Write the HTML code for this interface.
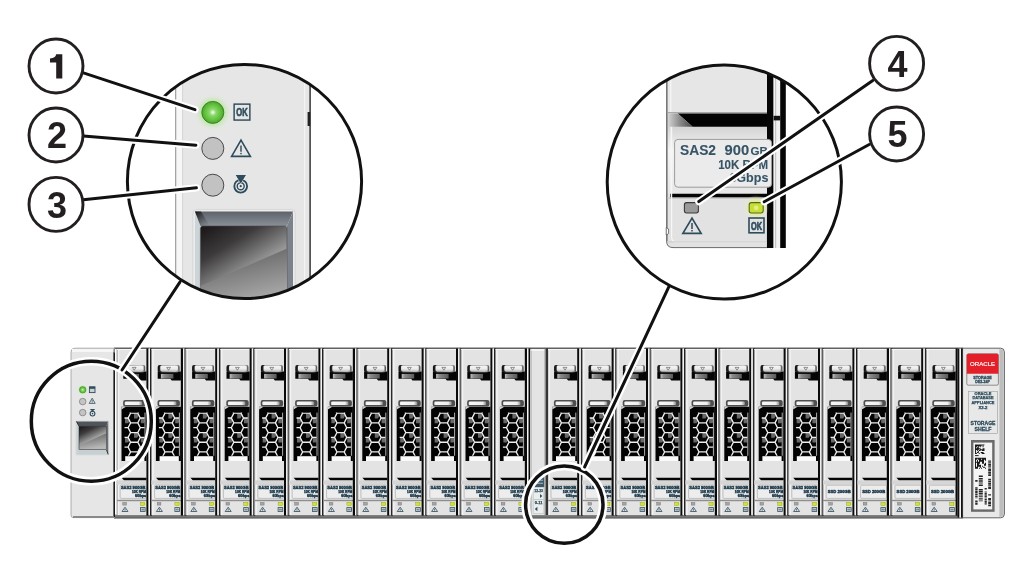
<!DOCTYPE html>
<html><head><meta charset="utf-8"><title>Storage shelf LEDs</title>
<style>html,body{margin:0;padding:0;background:#fff;width:1022px;height:563px;overflow:hidden;font-family:"Liberation Sans",sans-serif}svg{display:block;will-change:transform}</style>
</head><body>
<svg width="1022" height="563" viewBox="0 0 1022 563">
<defs>
 <linearGradient id="tabG" x1="0" y1="0" x2="0" y2="1">
  <stop offset="0" stop-color="#f4f4f4"/><stop offset="0.6" stop-color="#ececec"/><stop offset="1" stop-color="#c8c8c8"/>
 </linearGradient>
 <linearGradient id="tabE" x1="0" y1="0" x2="1" y2="0">
  <stop offset="0" stop-color="#0a0a0a"/><stop offset="0.12" stop-color="#2a2a2a"/><stop offset="0.2" stop-color="#9a9a9a"/><stop offset="0.8" stop-color="#bdbdbd"/><stop offset="0.92" stop-color="#8a8a8a"/><stop offset="1" stop-color="#444"/>
 </linearGradient>
 <linearGradient id="barG" x1="0" y1="0" x2="1" y2="0">
  <stop offset="0" stop-color="#e8e8e8"/><stop offset="0.1" stop-color="#f6f6f6"/><stop offset="0.8" stop-color="#eeeeee"/><stop offset="1" stop-color="#8a8a8a"/>
 </linearGradient>
 <linearGradient id="shG" x1="0" y1="0" x2="1" y2="0">
  <stop offset="0" stop-color="#c0c0c0"/><stop offset="0.25" stop-color="#8a8a8a"/><stop offset="1" stop-color="#5a5a5a"/>
 </linearGradient>
 <linearGradient id="shG2" x1="0" y1="0" x2="1" y2="0">
  <stop offset="0" stop-color="#d8d8d8"/><stop offset="0.5" stop-color="#8a8a8a"/><stop offset="1" stop-color="#4a4a4a"/>
 </linearGradient>
 <linearGradient id="botG" x1="0" y1="0" x2="0" y2="1">
  <stop offset="0" stop-color="#8c8c8c"/><stop offset="1" stop-color="#5a5a5a"/>
 </linearGradient>
 <linearGradient id="winG" x1="0.1" y1="0" x2="0.5" y2="0.7">
  <stop offset="0" stop-color="#1e1a1b"/><stop offset="0.35" stop-color="#3c3a3b"/><stop offset="1" stop-color="#c4c4c4"/>
 </linearGradient>
 <linearGradient id="winG2" x1="0" y1="0" x2="0.3" y2="1">
  <stop offset="0" stop-color="#555"/><stop offset="1" stop-color="#b8b8b8"/>
 </linearGradient>
 <linearGradient id="mitG" x1="0" y1="0" x2="1" y2="1">
  <stop offset="0" stop-color="#111"/><stop offset="1" stop-color="#5e636a" stop-opacity="0"/>
 </linearGradient>
 <linearGradient id="bevT" x1="0" y1="0" x2="0" y2="1">
  <stop offset="0" stop-color="#5e636a"/><stop offset="1" stop-color="#8a9098"/>
 </linearGradient>
 <radialGradient id="ledG" cx="0.5" cy="0.5" r="0.5">
  <stop offset="0" stop-color="#f8fff4"/><stop offset="0.3" stop-color="#8ad86a"/><stop offset="0.7" stop-color="#62c23e"/><stop offset="1" stop-color="#4aa82a"/>
 </radialGradient>
 <radialGradient id="glowG" cx="0.5" cy="0.5" r="0.5">
  <stop offset="0.5" stop-color="#a8e08a" stop-opacity="0.85"/><stop offset="1" stop-color="#dcefd0" stop-opacity="0"/>
 </radialGradient>
 <radialGradient id="yglowG" cx="0.5" cy="0.5" r="0.5">
  <stop offset="0.3" stop-color="#d8ec60" stop-opacity="0.9"/><stop offset="1" stop-color="#eef5c0" stop-opacity="0"/>
 </radialGradient>
 <linearGradient id="lblG" x1="0" y1="0" x2="0" y2="1">
  <stop offset="0" stop-color="#d4d4d4"/><stop offset="0.35" stop-color="#f4f4f4"/><stop offset="1" stop-color="#e6e6e6"/>
 </linearGradient>
 <clipPath id="clipL"><circle cx="244.5" cy="181.5" r="117.1"/></clipPath>
 <clipPath id="clipR"><circle cx="724.3" cy="182" r="117.1"/></clipPath>
</defs>
<rect width="1022" height="563" fill="#fff"/>
<defs>
 <linearGradient id="tabG" x1="0" y1="0" x2="0" y2="1">
  <stop offset="0" stop-color="#f4f4f4"/><stop offset="0.6" stop-color="#ececec"/><stop offset="1" stop-color="#c8c8c8"/>
 </linearGradient>
 <linearGradient id="tabE" x1="0" y1="0" x2="1" y2="0">
  <stop offset="0" stop-color="#0a0a0a"/><stop offset="0.12" stop-color="#2a2a2a"/><stop offset="0.2" stop-color="#9a9a9a"/><stop offset="0.8" stop-color="#bdbdbd"/><stop offset="0.92" stop-color="#8a8a8a"/><stop offset="1" stop-color="#444"/>
 </linearGradient>
 <linearGradient id="barG" x1="0" y1="0" x2="1" y2="0">
  <stop offset="0" stop-color="#e8e8e8"/><stop offset="0.1" stop-color="#f6f6f6"/><stop offset="0.8" stop-color="#eeeeee"/><stop offset="1" stop-color="#8a8a8a"/>
 </linearGradient>
 <linearGradient id="shG" x1="0" y1="0" x2="1" y2="0">
  <stop offset="0" stop-color="#c0c0c0"/><stop offset="0.25" stop-color="#8a8a8a"/><stop offset="1" stop-color="#5a5a5a"/>
 </linearGradient>
 <linearGradient id="shG2" x1="0" y1="0" x2="1" y2="0">
  <stop offset="0" stop-color="#d8d8d8"/><stop offset="0.5" stop-color="#8a8a8a"/><stop offset="1" stop-color="#4a4a4a"/>
 </linearGradient>
 <linearGradient id="botG" x1="0" y1="0" x2="0" y2="1">
  <stop offset="0" stop-color="#8c8c8c"/><stop offset="1" stop-color="#5a5a5a"/>
 </linearGradient>
 <linearGradient id="winG" x1="0.1" y1="0" x2="0.5" y2="0.7">
  <stop offset="0" stop-color="#1e1a1b"/><stop offset="0.35" stop-color="#3c3a3b"/><stop offset="1" stop-color="#c4c4c4"/>
 </linearGradient>
 <linearGradient id="winG2" x1="0" y1="0" x2="0.3" y2="1">
  <stop offset="0" stop-color="#555"/><stop offset="1" stop-color="#b8b8b8"/>
 </linearGradient>
 <linearGradient id="mitG" x1="0" y1="0" x2="1" y2="1">
  <stop offset="0" stop-color="#111"/><stop offset="1" stop-color="#5e636a" stop-opacity="0"/>
 </linearGradient>
 <linearGradient id="bevT" x1="0" y1="0" x2="0" y2="1">
  <stop offset="0" stop-color="#5e636a"/><stop offset="1" stop-color="#8a9098"/>
 </linearGradient>
 <radialGradient id="ledG" cx="0.5" cy="0.5" r="0.5">
  <stop offset="0" stop-color="#f8fff4"/><stop offset="0.3" stop-color="#8ad86a"/><stop offset="0.7" stop-color="#62c23e"/><stop offset="1" stop-color="#4aa82a"/>
 </radialGradient>
 <radialGradient id="glowG" cx="0.5" cy="0.5" r="0.5">
  <stop offset="0.5" stop-color="#a8e08a" stop-opacity="0.85"/><stop offset="1" stop-color="#dcefd0" stop-opacity="0"/>
 </radialGradient>
 <radialGradient id="yglowG" cx="0.5" cy="0.5" r="0.5">
  <stop offset="0.3" stop-color="#d8ec60" stop-opacity="0.9"/><stop offset="1" stop-color="#eef5c0" stop-opacity="0"/>
 </radialGradient>
 <linearGradient id="lblG" x1="0" y1="0" x2="0" y2="1">
  <stop offset="0" stop-color="#d4d4d4"/><stop offset="0.35" stop-color="#f4f4f4"/><stop offset="1" stop-color="#e6e6e6"/>
 </linearGradient>
 <clipPath id="clipL"><circle cx="244.5" cy="181.5" r="117.1"/></clipPath>
 <clipPath id="clipR"><circle cx="724.3" cy="182" r="117.1"/></clipPath>
</defs>
<rect x="114" y="347.6" width="849" height="1.2" fill="#3a3a3a"/><rect x="114" y="514.6" width="849" height="4" fill="url(#botG)"/><rect x="116.7" y="349" width="29.8" height="166" fill="#e3e3e3"/><rect x="116.7" y="349" width="1" height="166" fill="#8a8a8a"/><rect x="117.7" y="349" width="1.6" height="166" fill="#f2f2f2"/><rect x="117.1" y="349" width="29.2" height="1" fill="#f6f6f6"/><path d="M123.3 371.6 L146.5 371.6 L146.5 380.6 L137.3 380.6 L135.9 378.8 L123.3 378.8 Z" fill="#050505"/><rect x="126.5" y="373.9" width="12.5" height="4.6" fill="url(#shG)"/><rect x="123.3" y="365.1" width="21.9" height="7.1" rx="1.8" fill="url(#tabE)"/><rect x="125.9" y="365.7" width="17.6" height="5.2" rx="1" fill="url(#tabG)"/><path d="M132.3 367.4 L136.1 367.4 L134.2 370.2 Z" fill="none" stroke="#444" stroke-width="0.55"/><rect x="123.1" y="400.1" width="22.4" height="6.5" rx="2" fill="#4e4e4e"/><rect x="124.7" y="401.5" width="17.4" height="3.6" rx="1.2" fill="url(#barG)"/><path d="M121.5 406.8 L146.5 406.8 L146.5 461 L121.5 461 Z" fill="#030303"/><path d="M121.5 406.8 L125.9 406.8 L121.5 409.6 Z" fill="#d0d0d0"/><clipPath id="hc1341"><rect x="124.5" y="412.6" width="20.2" height="43.2"/></clipPath><g clip-path="url(#hc1341)"><path d="M134 413.2 l3.2 0 l1.6 2.6 l-1.6 2.6 l-3.2 0 z" fill="#7a7a7a" opacity="0.85"/><path d="M134 432.6 l3.2 0 l1.6 2.6 l-1.6 2.6 l-3.2 0 z" fill="#7a7a7a" opacity="0.85"/><path d="M140.8 418 l3.2 0 l1.6 2.6 l-1.6 2.6 l-3.2 0 z" fill="#7a7a7a" opacity="0.85"/><path d="M140.8 437.4 l3.2 0 l1.6 2.6 l-1.6 2.6 l-3.2 0 z" fill="#7a7a7a" opacity="0.85"/><path d="M140.8 456.8 l3.2 0 l1.6 2.6 l-1.6 2.6 l-3.2 0 z" fill="#7a7a7a" opacity="0.85"/><path d="M125 418 l3.2 0 l1.6 2.6 l-1.6 2.6 l-3.2 0 z" fill="#7a7a7a" opacity="0.85"/><path d="M125 437.4 l3.2 0 l1.6 2.6 l-1.6 2.6 l-3.2 0 z" fill="#7a7a7a" opacity="0.85"/><path d="M128.1 408.3 L130.6 403.45 L137.8 403.45 L140.3 408.3 L137.8 413.15 L130.6 413.15Z M137.8 413.15 L140.3 408.3 L147.5 408.3 L150 413.15 L147.5 418 L140.3 418Z M118.4 413.15 L120.9 408.3 L128.1 408.3 L130.6 413.15 L128.1 418 L120.9 418Z M128.1 418 L130.6 413.15 L137.8 413.15 L140.3 418 L137.8 422.85 L130.6 422.85Z M137.8 422.85 L140.3 418 L147.5 418 L150 422.85 L147.5 427.7 L140.3 427.7Z M118.4 422.85 L120.9 418 L128.1 418 L130.6 422.85 L128.1 427.7 L120.9 427.7Z M128.1 427.7 L130.6 422.85 L137.8 422.85 L140.3 427.7 L137.8 432.55 L130.6 432.55Z M137.8 432.55 L140.3 427.7 L147.5 427.7 L150 432.55 L147.5 437.4 L140.3 437.4Z M118.4 432.55 L120.9 427.7 L128.1 427.7 L130.6 432.55 L128.1 437.4 L120.9 437.4Z M128.1 437.4 L130.6 432.55 L137.8 432.55 L140.3 437.4 L137.8 442.25 L130.6 442.25Z M137.8 442.25 L140.3 437.4 L147.5 437.4 L150 442.25 L147.5 447.1 L140.3 447.1Z M118.4 442.25 L120.9 437.4 L128.1 437.4 L130.6 442.25 L128.1 447.1 L120.9 447.1Z M128.1 447.1 L130.6 442.25 L137.8 442.25 L140.3 447.1 L137.8 451.95 L130.6 451.95Z M137.8 451.95 L140.3 447.1 L147.5 447.1 L150 451.95 L147.5 456.8 L140.3 456.8Z M118.4 451.95 L120.9 447.1 L128.1 447.1 L130.6 451.95 L128.1 456.8 L120.9 456.8Z M128.1 456.8 L130.6 451.95 L137.8 451.95 L140.3 456.8 L137.8 461.65 L130.6 461.65Z M137.8 461.65 L140.3 456.8 L147.5 456.8 L150 461.65 L147.5 466.5 L140.3 466.5Z M118.4 461.65 L120.9 456.8 L128.1 456.8 L130.6 461.65 L128.1 466.5 L120.9 466.5Z" fill="none" stroke="#eeeeee" stroke-width="1.3"/></g><rect x="144.5" y="412.6" width="1" height="43.2" fill="#b0b0b0"/><rect x="125.2" y="456.2" width="19.2" height="4.8" fill="#fafafa"/><path d="M121.6 477.8 L146.5 477.8 L146.5 480.4 L124.1 480.4 Z" fill="#050505"/><rect x="117.1" y="480.4" width="29.8" height="4.2" fill="#d6d6d6"/><rect x="120.2" y="485.2" width="26" height="13.2" rx="1.2" fill="#ededed" stroke="#b0b0b0" stroke-width="0.7"/><text x="120.9" y="488.9" font-family="Liberation Sans" font-weight="bold" font-size="4.2" fill="#2f4c5c" stroke="#1e3a4a" stroke-width="0.45" textLength="24.6" lengthAdjust="spacingAndGlyphs">SAS2 900GB</text><text x="145.9" y="492.8" font-family="Liberation Sans" font-weight="bold" font-size="4.2" fill="#2f4c5c" stroke="#1e3a4a" stroke-width="0.45" text-anchor="end" textLength="14" lengthAdjust="spacingAndGlyphs">10K RPM</text><text x="146.1" y="497" font-family="Liberation Sans" font-weight="bold" font-size="4.2" fill="#2f4c5c" stroke="#1e3a4a" stroke-width="0.45" text-anchor="end" textLength="11.2" lengthAdjust="spacingAndGlyphs">6Gbps</text><rect x="117.1" y="499.8" width="29.8" height="1.4" fill="#8e8e8e"/><rect x="122.8" y="502.4" width="3.7" height="2.7" fill="#a4a4a4" stroke="#707070" stroke-width="0.4"/><rect x="139.9" y="500.6" width="8" height="7" fill="url(#yglowG)"/><rect x="140.5" y="502.4" width="4.2" height="3" fill="#d2e040" stroke="#8a9a30" stroke-width="0.4"/><path d="M125 507.2 L128 511.5 L122 511.5 Z" fill="none" stroke="#2f4c5c" stroke-width="0.8" stroke-linejoin="miter"/><line x1="125" y1="508.58" x2="125" y2="510.3" stroke="#2f4c5c" stroke-width="0.72"/><rect x="124.64" y="510.55" width="0.72" height="0.72" fill="#2f4c5c"/><rect x="140.5" y="507.6" width="4.6" height="3.9" fill="none" stroke="#2f4c5c" stroke-width="0.8"/><rect x="141.3" y="508.6" width="3" height="1.9" fill="#2f4c5c" opacity="0.6"/><rect x="146.4" y="348.5" width="2.2" height="167.1" fill="#0a0a0a"/><rect x="148.6" y="348.5" width="1.5" height="166.5" fill="#f4f4f4"/><rect x="150.1" y="348.5" width="1.9" height="167.1" fill="#0a0a0a"/><rect x="151.1" y="349" width="29.8" height="166" fill="#e3e3e3"/><rect x="151.1" y="349" width="1" height="166" fill="#8a8a8a"/><rect x="152.1" y="349" width="1.6" height="166" fill="#f2f2f2"/><rect x="151.5" y="349" width="29.2" height="1" fill="#f6f6f6"/><path d="M157.7 371.6 L180.9 371.6 L180.9 380.6 L171.7 380.6 L170.3 378.8 L157.7 378.8 Z" fill="#050505"/><rect x="160.9" y="373.9" width="12.5" height="4.6" fill="url(#shG)"/><rect x="157.7" y="365.1" width="21.9" height="7.1" rx="1.8" fill="url(#tabE)"/><rect x="160.3" y="365.7" width="17.6" height="5.2" rx="1" fill="url(#tabG)"/><path d="M166.7 367.4 L170.5 367.4 L168.6 370.2 Z" fill="none" stroke="#444" stroke-width="0.55"/><rect x="157.5" y="400.1" width="22.4" height="6.5" rx="2" fill="#4e4e4e"/><rect x="159.1" y="401.5" width="17.4" height="3.6" rx="1.2" fill="url(#barG)"/><path d="M155.9 406.8 L180.9 406.8 L180.9 461 L155.9 461 Z" fill="#030303"/><path d="M155.9 406.8 L160.3 406.8 L155.9 409.6 Z" fill="#d0d0d0"/><clipPath id="hc1685"><rect x="158.9" y="412.6" width="20.2" height="43.2"/></clipPath><g clip-path="url(#hc1685)"><path d="M168.4 413.2 l3.2 0 l1.6 2.6 l-1.6 2.6 l-3.2 0 z" fill="#7a7a7a" opacity="0.85"/><path d="M168.4 432.6 l3.2 0 l1.6 2.6 l-1.6 2.6 l-3.2 0 z" fill="#7a7a7a" opacity="0.85"/><path d="M175.2 418 l3.2 0 l1.6 2.6 l-1.6 2.6 l-3.2 0 z" fill="#7a7a7a" opacity="0.85"/><path d="M175.2 437.4 l3.2 0 l1.6 2.6 l-1.6 2.6 l-3.2 0 z" fill="#7a7a7a" opacity="0.85"/><path d="M175.2 456.8 l3.2 0 l1.6 2.6 l-1.6 2.6 l-3.2 0 z" fill="#7a7a7a" opacity="0.85"/><path d="M159.4 418 l3.2 0 l1.6 2.6 l-1.6 2.6 l-3.2 0 z" fill="#7a7a7a" opacity="0.85"/><path d="M159.4 437.4 l3.2 0 l1.6 2.6 l-1.6 2.6 l-3.2 0 z" fill="#7a7a7a" opacity="0.85"/><path d="M162.5 408.3 L165 403.45 L172.2 403.45 L174.7 408.3 L172.2 413.15 L165 413.15Z M172.2 413.15 L174.7 408.3 L181.9 408.3 L184.4 413.15 L181.9 418 L174.7 418Z M152.8 413.15 L155.3 408.3 L162.5 408.3 L165 413.15 L162.5 418 L155.3 418Z M162.5 418 L165 413.15 L172.2 413.15 L174.7 418 L172.2 422.85 L165 422.85Z M172.2 422.85 L174.7 418 L181.9 418 L184.4 422.85 L181.9 427.7 L174.7 427.7Z M152.8 422.85 L155.3 418 L162.5 418 L165 422.85 L162.5 427.7 L155.3 427.7Z M162.5 427.7 L165 422.85 L172.2 422.85 L174.7 427.7 L172.2 432.55 L165 432.55Z M172.2 432.55 L174.7 427.7 L181.9 427.7 L184.4 432.55 L181.9 437.4 L174.7 437.4Z M152.8 432.55 L155.3 427.7 L162.5 427.7 L165 432.55 L162.5 437.4 L155.3 437.4Z M162.5 437.4 L165 432.55 L172.2 432.55 L174.7 437.4 L172.2 442.25 L165 442.25Z M172.2 442.25 L174.7 437.4 L181.9 437.4 L184.4 442.25 L181.9 447.1 L174.7 447.1Z M152.8 442.25 L155.3 437.4 L162.5 437.4 L165 442.25 L162.5 447.1 L155.3 447.1Z M162.5 447.1 L165 442.25 L172.2 442.25 L174.7 447.1 L172.2 451.95 L165 451.95Z M172.2 451.95 L174.7 447.1 L181.9 447.1 L184.4 451.95 L181.9 456.8 L174.7 456.8Z M152.8 451.95 L155.3 447.1 L162.5 447.1 L165 451.95 L162.5 456.8 L155.3 456.8Z M162.5 456.8 L165 451.95 L172.2 451.95 L174.7 456.8 L172.2 461.65 L165 461.65Z M172.2 461.65 L174.7 456.8 L181.9 456.8 L184.4 461.65 L181.9 466.5 L174.7 466.5Z M152.8 461.65 L155.3 456.8 L162.5 456.8 L165 461.65 L162.5 466.5 L155.3 466.5Z" fill="none" stroke="#eeeeee" stroke-width="1.3"/></g><rect x="178.9" y="412.6" width="1" height="43.2" fill="#b0b0b0"/><rect x="159.6" y="456.2" width="19.2" height="4.8" fill="#fafafa"/><path d="M156 477.8 L180.9 477.8 L180.9 480.4 L158.5 480.4 Z" fill="#050505"/><rect x="151.5" y="480.4" width="29.8" height="4.2" fill="#d6d6d6"/><rect x="154.6" y="485.2" width="26" height="13.2" rx="1.2" fill="#ededed" stroke="#b0b0b0" stroke-width="0.7"/><text x="155.3" y="488.9" font-family="Liberation Sans" font-weight="bold" font-size="4.2" fill="#2f4c5c" stroke="#1e3a4a" stroke-width="0.45" textLength="24.6" lengthAdjust="spacingAndGlyphs">SAS2 900GB</text><text x="180.3" y="492.8" font-family="Liberation Sans" font-weight="bold" font-size="4.2" fill="#2f4c5c" stroke="#1e3a4a" stroke-width="0.45" text-anchor="end" textLength="14" lengthAdjust="spacingAndGlyphs">10K RPM</text><text x="180.5" y="497" font-family="Liberation Sans" font-weight="bold" font-size="4.2" fill="#2f4c5c" stroke="#1e3a4a" stroke-width="0.45" text-anchor="end" textLength="11.2" lengthAdjust="spacingAndGlyphs">6Gbps</text><rect x="151.5" y="499.8" width="29.8" height="1.4" fill="#8e8e8e"/><rect x="157.2" y="502.4" width="3.7" height="2.7" fill="#a4a4a4" stroke="#707070" stroke-width="0.4"/><rect x="174.3" y="500.6" width="8" height="7" fill="url(#yglowG)"/><rect x="174.9" y="502.4" width="4.2" height="3" fill="#d2e040" stroke="#8a9a30" stroke-width="0.4"/><path d="M159.4 507.2 L162.4 511.5 L156.4 511.5 Z" fill="none" stroke="#2f4c5c" stroke-width="0.8" stroke-linejoin="miter"/><line x1="159.4" y1="508.58" x2="159.4" y2="510.3" stroke="#2f4c5c" stroke-width="0.72"/><rect x="159.04" y="510.55" width="0.72" height="0.72" fill="#2f4c5c"/><rect x="174.9" y="507.6" width="4.6" height="3.9" fill="none" stroke="#2f4c5c" stroke-width="0.8"/><rect x="175.7" y="508.6" width="3" height="1.9" fill="#2f4c5c" opacity="0.6"/><rect x="180.8" y="348.5" width="2.2" height="167.1" fill="#0a0a0a"/><rect x="183" y="348.5" width="1.5" height="166.5" fill="#f4f4f4"/><rect x="184.5" y="348.5" width="1.9" height="167.1" fill="#0a0a0a"/><rect x="185.5" y="349" width="29.8" height="166" fill="#e3e3e3"/><rect x="185.5" y="349" width="1" height="166" fill="#8a8a8a"/><rect x="186.5" y="349" width="1.6" height="166" fill="#f2f2f2"/><rect x="185.9" y="349" width="29.2" height="1" fill="#f6f6f6"/><path d="M192.1 371.6 L215.3 371.6 L215.3 380.6 L206.1 380.6 L204.7 378.8 L192.1 378.8 Z" fill="#050505"/><rect x="195.3" y="373.9" width="12.5" height="4.6" fill="url(#shG)"/><rect x="192.1" y="365.1" width="21.9" height="7.1" rx="1.8" fill="url(#tabE)"/><rect x="194.7" y="365.7" width="17.6" height="5.2" rx="1" fill="url(#tabG)"/><path d="M201.1 367.4 L204.9 367.4 L203 370.2 Z" fill="none" stroke="#444" stroke-width="0.55"/><rect x="191.9" y="400.1" width="22.4" height="6.5" rx="2" fill="#4e4e4e"/><rect x="193.5" y="401.5" width="17.4" height="3.6" rx="1.2" fill="url(#barG)"/><path d="M190.3 406.8 L215.3 406.8 L215.3 461 L190.3 461 Z" fill="#030303"/><path d="M190.3 406.8 L194.7 406.8 L190.3 409.6 Z" fill="#d0d0d0"/><clipPath id="hc2029"><rect x="193.3" y="412.6" width="20.2" height="43.2"/></clipPath><g clip-path="url(#hc2029)"><path d="M202.8 413.2 l3.2 0 l1.6 2.6 l-1.6 2.6 l-3.2 0 z" fill="#7a7a7a" opacity="0.85"/><path d="M202.8 432.6 l3.2 0 l1.6 2.6 l-1.6 2.6 l-3.2 0 z" fill="#7a7a7a" opacity="0.85"/><path d="M209.6 418 l3.2 0 l1.6 2.6 l-1.6 2.6 l-3.2 0 z" fill="#7a7a7a" opacity="0.85"/><path d="M209.6 437.4 l3.2 0 l1.6 2.6 l-1.6 2.6 l-3.2 0 z" fill="#7a7a7a" opacity="0.85"/><path d="M209.6 456.8 l3.2 0 l1.6 2.6 l-1.6 2.6 l-3.2 0 z" fill="#7a7a7a" opacity="0.85"/><path d="M193.8 418 l3.2 0 l1.6 2.6 l-1.6 2.6 l-3.2 0 z" fill="#7a7a7a" opacity="0.85"/><path d="M193.8 437.4 l3.2 0 l1.6 2.6 l-1.6 2.6 l-3.2 0 z" fill="#7a7a7a" opacity="0.85"/><path d="M196.9 408.3 L199.4 403.45 L206.6 403.45 L209.1 408.3 L206.6 413.15 L199.4 413.15Z M206.6 413.15 L209.1 408.3 L216.3 408.3 L218.8 413.15 L216.3 418 L209.1 418Z M187.2 413.15 L189.7 408.3 L196.9 408.3 L199.4 413.15 L196.9 418 L189.7 418Z M196.9 418 L199.4 413.15 L206.6 413.15 L209.1 418 L206.6 422.85 L199.4 422.85Z M206.6 422.85 L209.1 418 L216.3 418 L218.8 422.85 L216.3 427.7 L209.1 427.7Z M187.2 422.85 L189.7 418 L196.9 418 L199.4 422.85 L196.9 427.7 L189.7 427.7Z M196.9 427.7 L199.4 422.85 L206.6 422.85 L209.1 427.7 L206.6 432.55 L199.4 432.55Z M206.6 432.55 L209.1 427.7 L216.3 427.7 L218.8 432.55 L216.3 437.4 L209.1 437.4Z M187.2 432.55 L189.7 427.7 L196.9 427.7 L199.4 432.55 L196.9 437.4 L189.7 437.4Z M196.9 437.4 L199.4 432.55 L206.6 432.55 L209.1 437.4 L206.6 442.25 L199.4 442.25Z M206.6 442.25 L209.1 437.4 L216.3 437.4 L218.8 442.25 L216.3 447.1 L209.1 447.1Z M187.2 442.25 L189.7 437.4 L196.9 437.4 L199.4 442.25 L196.9 447.1 L189.7 447.1Z M196.9 447.1 L199.4 442.25 L206.6 442.25 L209.1 447.1 L206.6 451.95 L199.4 451.95Z M206.6 451.95 L209.1 447.1 L216.3 447.1 L218.8 451.95 L216.3 456.8 L209.1 456.8Z M187.2 451.95 L189.7 447.1 L196.9 447.1 L199.4 451.95 L196.9 456.8 L189.7 456.8Z M196.9 456.8 L199.4 451.95 L206.6 451.95 L209.1 456.8 L206.6 461.65 L199.4 461.65Z M206.6 461.65 L209.1 456.8 L216.3 456.8 L218.8 461.65 L216.3 466.5 L209.1 466.5Z M187.2 461.65 L189.7 456.8 L196.9 456.8 L199.4 461.65 L196.9 466.5 L189.7 466.5Z" fill="none" stroke="#eeeeee" stroke-width="1.3"/></g><rect x="213.3" y="412.6" width="1" height="43.2" fill="#b0b0b0"/><rect x="194" y="456.2" width="19.2" height="4.8" fill="#fafafa"/><path d="M190.4 477.8 L215.3 477.8 L215.3 480.4 L192.9 480.4 Z" fill="#050505"/><rect x="185.9" y="480.4" width="29.8" height="4.2" fill="#d6d6d6"/><rect x="189" y="485.2" width="26" height="13.2" rx="1.2" fill="#ededed" stroke="#b0b0b0" stroke-width="0.7"/><text x="189.7" y="488.9" font-family="Liberation Sans" font-weight="bold" font-size="4.2" fill="#2f4c5c" stroke="#1e3a4a" stroke-width="0.45" textLength="24.6" lengthAdjust="spacingAndGlyphs">SAS2 900GB</text><text x="214.7" y="492.8" font-family="Liberation Sans" font-weight="bold" font-size="4.2" fill="#2f4c5c" stroke="#1e3a4a" stroke-width="0.45" text-anchor="end" textLength="14" lengthAdjust="spacingAndGlyphs">10K RPM</text><text x="214.9" y="497" font-family="Liberation Sans" font-weight="bold" font-size="4.2" fill="#2f4c5c" stroke="#1e3a4a" stroke-width="0.45" text-anchor="end" textLength="11.2" lengthAdjust="spacingAndGlyphs">6Gbps</text><rect x="185.9" y="499.8" width="29.8" height="1.4" fill="#8e8e8e"/><rect x="191.6" y="502.4" width="3.7" height="2.7" fill="#a4a4a4" stroke="#707070" stroke-width="0.4"/><rect x="208.7" y="500.6" width="8" height="7" fill="url(#yglowG)"/><rect x="209.3" y="502.4" width="4.2" height="3" fill="#d2e040" stroke="#8a9a30" stroke-width="0.4"/><path d="M193.8 507.2 L196.8 511.5 L190.8 511.5 Z" fill="none" stroke="#2f4c5c" stroke-width="0.8" stroke-linejoin="miter"/><line x1="193.8" y1="508.58" x2="193.8" y2="510.3" stroke="#2f4c5c" stroke-width="0.72"/><rect x="193.44" y="510.55" width="0.72" height="0.72" fill="#2f4c5c"/><rect x="209.3" y="507.6" width="4.6" height="3.9" fill="none" stroke="#2f4c5c" stroke-width="0.8"/><rect x="210.1" y="508.6" width="3" height="1.9" fill="#2f4c5c" opacity="0.6"/><rect x="215.2" y="348.5" width="2.2" height="167.1" fill="#0a0a0a"/><rect x="217.4" y="348.5" width="1.5" height="166.5" fill="#f4f4f4"/><rect x="218.9" y="348.5" width="1.9" height="167.1" fill="#0a0a0a"/><rect x="219.9" y="349" width="29.8" height="166" fill="#e3e3e3"/><rect x="219.9" y="349" width="1" height="166" fill="#8a8a8a"/><rect x="220.9" y="349" width="1.6" height="166" fill="#f2f2f2"/><rect x="220.3" y="349" width="29.2" height="1" fill="#f6f6f6"/><path d="M226.5 371.6 L249.7 371.6 L249.7 380.6 L240.5 380.6 L239.1 378.8 L226.5 378.8 Z" fill="#050505"/><rect x="229.7" y="373.9" width="12.5" height="4.6" fill="url(#shG)"/><rect x="226.5" y="365.1" width="21.9" height="7.1" rx="1.8" fill="url(#tabE)"/><rect x="229.1" y="365.7" width="17.6" height="5.2" rx="1" fill="url(#tabG)"/><path d="M235.5 367.4 L239.3 367.4 L237.4 370.2 Z" fill="none" stroke="#444" stroke-width="0.55"/><rect x="226.3" y="400.1" width="22.4" height="6.5" rx="2" fill="#4e4e4e"/><rect x="227.9" y="401.5" width="17.4" height="3.6" rx="1.2" fill="url(#barG)"/><path d="M224.7 406.8 L249.7 406.8 L249.7 461 L224.7 461 Z" fill="#030303"/><path d="M224.7 406.8 L229.1 406.8 L224.7 409.6 Z" fill="#d0d0d0"/><clipPath id="hc2373"><rect x="227.7" y="412.6" width="20.2" height="43.2"/></clipPath><g clip-path="url(#hc2373)"><path d="M237.2 413.2 l3.2 0 l1.6 2.6 l-1.6 2.6 l-3.2 0 z" fill="#7a7a7a" opacity="0.85"/><path d="M237.2 432.6 l3.2 0 l1.6 2.6 l-1.6 2.6 l-3.2 0 z" fill="#7a7a7a" opacity="0.85"/><path d="M244 418 l3.2 0 l1.6 2.6 l-1.6 2.6 l-3.2 0 z" fill="#7a7a7a" opacity="0.85"/><path d="M244 437.4 l3.2 0 l1.6 2.6 l-1.6 2.6 l-3.2 0 z" fill="#7a7a7a" opacity="0.85"/><path d="M244 456.8 l3.2 0 l1.6 2.6 l-1.6 2.6 l-3.2 0 z" fill="#7a7a7a" opacity="0.85"/><path d="M228.2 418 l3.2 0 l1.6 2.6 l-1.6 2.6 l-3.2 0 z" fill="#7a7a7a" opacity="0.85"/><path d="M228.2 437.4 l3.2 0 l1.6 2.6 l-1.6 2.6 l-3.2 0 z" fill="#7a7a7a" opacity="0.85"/><path d="M231.3 408.3 L233.8 403.45 L241 403.45 L243.5 408.3 L241 413.15 L233.8 413.15Z M241 413.15 L243.5 408.3 L250.7 408.3 L253.2 413.15 L250.7 418 L243.5 418Z M221.6 413.15 L224.1 408.3 L231.3 408.3 L233.8 413.15 L231.3 418 L224.1 418Z M231.3 418 L233.8 413.15 L241 413.15 L243.5 418 L241 422.85 L233.8 422.85Z M241 422.85 L243.5 418 L250.7 418 L253.2 422.85 L250.7 427.7 L243.5 427.7Z M221.6 422.85 L224.1 418 L231.3 418 L233.8 422.85 L231.3 427.7 L224.1 427.7Z M231.3 427.7 L233.8 422.85 L241 422.85 L243.5 427.7 L241 432.55 L233.8 432.55Z M241 432.55 L243.5 427.7 L250.7 427.7 L253.2 432.55 L250.7 437.4 L243.5 437.4Z M221.6 432.55 L224.1 427.7 L231.3 427.7 L233.8 432.55 L231.3 437.4 L224.1 437.4Z M231.3 437.4 L233.8 432.55 L241 432.55 L243.5 437.4 L241 442.25 L233.8 442.25Z M241 442.25 L243.5 437.4 L250.7 437.4 L253.2 442.25 L250.7 447.1 L243.5 447.1Z M221.6 442.25 L224.1 437.4 L231.3 437.4 L233.8 442.25 L231.3 447.1 L224.1 447.1Z M231.3 447.1 L233.8 442.25 L241 442.25 L243.5 447.1 L241 451.95 L233.8 451.95Z M241 451.95 L243.5 447.1 L250.7 447.1 L253.2 451.95 L250.7 456.8 L243.5 456.8Z M221.6 451.95 L224.1 447.1 L231.3 447.1 L233.8 451.95 L231.3 456.8 L224.1 456.8Z M231.3 456.8 L233.8 451.95 L241 451.95 L243.5 456.8 L241 461.65 L233.8 461.65Z M241 461.65 L243.5 456.8 L250.7 456.8 L253.2 461.65 L250.7 466.5 L243.5 466.5Z M221.6 461.65 L224.1 456.8 L231.3 456.8 L233.8 461.65 L231.3 466.5 L224.1 466.5Z" fill="none" stroke="#eeeeee" stroke-width="1.3"/></g><rect x="247.7" y="412.6" width="1" height="43.2" fill="#b0b0b0"/><rect x="228.4" y="456.2" width="19.2" height="4.8" fill="#fafafa"/><path d="M224.8 477.8 L249.7 477.8 L249.7 480.4 L227.3 480.4 Z" fill="#050505"/><rect x="220.3" y="480.4" width="29.8" height="4.2" fill="#d6d6d6"/><rect x="223.4" y="485.2" width="26" height="13.2" rx="1.2" fill="#ededed" stroke="#b0b0b0" stroke-width="0.7"/><text x="224.1" y="488.9" font-family="Liberation Sans" font-weight="bold" font-size="4.2" fill="#2f4c5c" stroke="#1e3a4a" stroke-width="0.45" textLength="24.6" lengthAdjust="spacingAndGlyphs">SAS2 900GB</text><text x="249.1" y="492.8" font-family="Liberation Sans" font-weight="bold" font-size="4.2" fill="#2f4c5c" stroke="#1e3a4a" stroke-width="0.45" text-anchor="end" textLength="14" lengthAdjust="spacingAndGlyphs">10K RPM</text><text x="249.3" y="497" font-family="Liberation Sans" font-weight="bold" font-size="4.2" fill="#2f4c5c" stroke="#1e3a4a" stroke-width="0.45" text-anchor="end" textLength="11.2" lengthAdjust="spacingAndGlyphs">6Gbps</text><rect x="220.3" y="499.8" width="29.8" height="1.4" fill="#8e8e8e"/><rect x="226" y="502.4" width="3.7" height="2.7" fill="#a4a4a4" stroke="#707070" stroke-width="0.4"/><rect x="243.1" y="500.6" width="8" height="7" fill="url(#yglowG)"/><rect x="243.7" y="502.4" width="4.2" height="3" fill="#d2e040" stroke="#8a9a30" stroke-width="0.4"/><path d="M228.2 507.2 L231.2 511.5 L225.2 511.5 Z" fill="none" stroke="#2f4c5c" stroke-width="0.8" stroke-linejoin="miter"/><line x1="228.2" y1="508.58" x2="228.2" y2="510.3" stroke="#2f4c5c" stroke-width="0.72"/><rect x="227.84" y="510.55" width="0.72" height="0.72" fill="#2f4c5c"/><rect x="243.7" y="507.6" width="4.6" height="3.9" fill="none" stroke="#2f4c5c" stroke-width="0.8"/><rect x="244.5" y="508.6" width="3" height="1.9" fill="#2f4c5c" opacity="0.6"/><rect x="249.6" y="348.5" width="2.2" height="167.1" fill="#0a0a0a"/><rect x="251.8" y="348.5" width="1.5" height="166.5" fill="#f4f4f4"/><rect x="253.3" y="348.5" width="1.9" height="167.1" fill="#0a0a0a"/><rect x="254.3" y="349" width="29.8" height="166" fill="#e3e3e3"/><rect x="254.3" y="349" width="1" height="166" fill="#8a8a8a"/><rect x="255.3" y="349" width="1.6" height="166" fill="#f2f2f2"/><rect x="254.7" y="349" width="29.2" height="1" fill="#f6f6f6"/><path d="M260.9 371.6 L284.1 371.6 L284.1 380.6 L274.9 380.6 L273.5 378.8 L260.9 378.8 Z" fill="#050505"/><rect x="264.1" y="373.9" width="12.5" height="4.6" fill="url(#shG)"/><rect x="260.9" y="365.1" width="21.9" height="7.1" rx="1.8" fill="url(#tabE)"/><rect x="263.5" y="365.7" width="17.6" height="5.2" rx="1" fill="url(#tabG)"/><path d="M269.9 367.4 L273.7 367.4 L271.8 370.2 Z" fill="none" stroke="#444" stroke-width="0.55"/><rect x="260.7" y="400.1" width="22.4" height="6.5" rx="2" fill="#4e4e4e"/><rect x="262.3" y="401.5" width="17.4" height="3.6" rx="1.2" fill="url(#barG)"/><path d="M259.1 406.8 L284.1 406.8 L284.1 461 L259.1 461 Z" fill="#030303"/><path d="M259.1 406.8 L263.5 406.8 L259.1 409.6 Z" fill="#d0d0d0"/><clipPath id="hc2717"><rect x="262.1" y="412.6" width="20.2" height="43.2"/></clipPath><g clip-path="url(#hc2717)"><path d="M271.6 413.2 l3.2 0 l1.6 2.6 l-1.6 2.6 l-3.2 0 z" fill="#7a7a7a" opacity="0.85"/><path d="M271.6 432.6 l3.2 0 l1.6 2.6 l-1.6 2.6 l-3.2 0 z" fill="#7a7a7a" opacity="0.85"/><path d="M278.4 418 l3.2 0 l1.6 2.6 l-1.6 2.6 l-3.2 0 z" fill="#7a7a7a" opacity="0.85"/><path d="M278.4 437.4 l3.2 0 l1.6 2.6 l-1.6 2.6 l-3.2 0 z" fill="#7a7a7a" opacity="0.85"/><path d="M278.4 456.8 l3.2 0 l1.6 2.6 l-1.6 2.6 l-3.2 0 z" fill="#7a7a7a" opacity="0.85"/><path d="M262.6 418 l3.2 0 l1.6 2.6 l-1.6 2.6 l-3.2 0 z" fill="#7a7a7a" opacity="0.85"/><path d="M262.6 437.4 l3.2 0 l1.6 2.6 l-1.6 2.6 l-3.2 0 z" fill="#7a7a7a" opacity="0.85"/><path d="M265.7 408.3 L268.2 403.45 L275.4 403.45 L277.9 408.3 L275.4 413.15 L268.2 413.15Z M275.4 413.15 L277.9 408.3 L285.1 408.3 L287.6 413.15 L285.1 418 L277.9 418Z M256 413.15 L258.5 408.3 L265.7 408.3 L268.2 413.15 L265.7 418 L258.5 418Z M265.7 418 L268.2 413.15 L275.4 413.15 L277.9 418 L275.4 422.85 L268.2 422.85Z M275.4 422.85 L277.9 418 L285.1 418 L287.6 422.85 L285.1 427.7 L277.9 427.7Z M256 422.85 L258.5 418 L265.7 418 L268.2 422.85 L265.7 427.7 L258.5 427.7Z M265.7 427.7 L268.2 422.85 L275.4 422.85 L277.9 427.7 L275.4 432.55 L268.2 432.55Z M275.4 432.55 L277.9 427.7 L285.1 427.7 L287.6 432.55 L285.1 437.4 L277.9 437.4Z M256 432.55 L258.5 427.7 L265.7 427.7 L268.2 432.55 L265.7 437.4 L258.5 437.4Z M265.7 437.4 L268.2 432.55 L275.4 432.55 L277.9 437.4 L275.4 442.25 L268.2 442.25Z M275.4 442.25 L277.9 437.4 L285.1 437.4 L287.6 442.25 L285.1 447.1 L277.9 447.1Z M256 442.25 L258.5 437.4 L265.7 437.4 L268.2 442.25 L265.7 447.1 L258.5 447.1Z M265.7 447.1 L268.2 442.25 L275.4 442.25 L277.9 447.1 L275.4 451.95 L268.2 451.95Z M275.4 451.95 L277.9 447.1 L285.1 447.1 L287.6 451.95 L285.1 456.8 L277.9 456.8Z M256 451.95 L258.5 447.1 L265.7 447.1 L268.2 451.95 L265.7 456.8 L258.5 456.8Z M265.7 456.8 L268.2 451.95 L275.4 451.95 L277.9 456.8 L275.4 461.65 L268.2 461.65Z M275.4 461.65 L277.9 456.8 L285.1 456.8 L287.6 461.65 L285.1 466.5 L277.9 466.5Z M256 461.65 L258.5 456.8 L265.7 456.8 L268.2 461.65 L265.7 466.5 L258.5 466.5Z" fill="none" stroke="#eeeeee" stroke-width="1.3"/></g><rect x="282.1" y="412.6" width="1" height="43.2" fill="#b0b0b0"/><rect x="262.8" y="456.2" width="19.2" height="4.8" fill="#fafafa"/><path d="M259.2 477.8 L284.1 477.8 L284.1 480.4 L261.7 480.4 Z" fill="#050505"/><rect x="254.7" y="480.4" width="29.8" height="4.2" fill="#d6d6d6"/><rect x="257.8" y="485.2" width="26" height="13.2" rx="1.2" fill="#ededed" stroke="#b0b0b0" stroke-width="0.7"/><text x="258.5" y="488.9" font-family="Liberation Sans" font-weight="bold" font-size="4.2" fill="#2f4c5c" stroke="#1e3a4a" stroke-width="0.45" textLength="24.6" lengthAdjust="spacingAndGlyphs">SAS2 900GB</text><text x="283.5" y="492.8" font-family="Liberation Sans" font-weight="bold" font-size="4.2" fill="#2f4c5c" stroke="#1e3a4a" stroke-width="0.45" text-anchor="end" textLength="14" lengthAdjust="spacingAndGlyphs">10K RPM</text><text x="283.7" y="497" font-family="Liberation Sans" font-weight="bold" font-size="4.2" fill="#2f4c5c" stroke="#1e3a4a" stroke-width="0.45" text-anchor="end" textLength="11.2" lengthAdjust="spacingAndGlyphs">6Gbps</text><rect x="254.7" y="499.8" width="29.8" height="1.4" fill="#8e8e8e"/><rect x="260.4" y="502.4" width="3.7" height="2.7" fill="#a4a4a4" stroke="#707070" stroke-width="0.4"/><rect x="277.5" y="500.6" width="8" height="7" fill="url(#yglowG)"/><rect x="278.1" y="502.4" width="4.2" height="3" fill="#d2e040" stroke="#8a9a30" stroke-width="0.4"/><path d="M262.6 507.2 L265.6 511.5 L259.6 511.5 Z" fill="none" stroke="#2f4c5c" stroke-width="0.8" stroke-linejoin="miter"/><line x1="262.6" y1="508.58" x2="262.6" y2="510.3" stroke="#2f4c5c" stroke-width="0.72"/><rect x="262.24" y="510.55" width="0.72" height="0.72" fill="#2f4c5c"/><rect x="278.1" y="507.6" width="4.6" height="3.9" fill="none" stroke="#2f4c5c" stroke-width="0.8"/><rect x="278.9" y="508.6" width="3" height="1.9" fill="#2f4c5c" opacity="0.6"/><rect x="284" y="348.5" width="2.2" height="167.1" fill="#0a0a0a"/><rect x="286.2" y="348.5" width="1.5" height="166.5" fill="#f4f4f4"/><rect x="287.7" y="348.5" width="1.9" height="167.1" fill="#0a0a0a"/><rect x="288.7" y="349" width="29.8" height="166" fill="#e3e3e3"/><rect x="288.7" y="349" width="1" height="166" fill="#8a8a8a"/><rect x="289.7" y="349" width="1.6" height="166" fill="#f2f2f2"/><rect x="289.1" y="349" width="29.2" height="1" fill="#f6f6f6"/><path d="M295.3 371.6 L318.5 371.6 L318.5 380.6 L309.3 380.6 L307.9 378.8 L295.3 378.8 Z" fill="#050505"/><rect x="298.5" y="373.9" width="12.5" height="4.6" fill="url(#shG)"/><rect x="295.3" y="365.1" width="21.9" height="7.1" rx="1.8" fill="url(#tabE)"/><rect x="297.9" y="365.7" width="17.6" height="5.2" rx="1" fill="url(#tabG)"/><path d="M304.3 367.4 L308.1 367.4 L306.2 370.2 Z" fill="none" stroke="#444" stroke-width="0.55"/><rect x="295.1" y="400.1" width="22.4" height="6.5" rx="2" fill="#4e4e4e"/><rect x="296.7" y="401.5" width="17.4" height="3.6" rx="1.2" fill="url(#barG)"/><path d="M293.5 406.8 L318.5 406.8 L318.5 461 L293.5 461 Z" fill="#030303"/><path d="M293.5 406.8 L297.9 406.8 L293.5 409.6 Z" fill="#d0d0d0"/><clipPath id="hc3061"><rect x="296.5" y="412.6" width="20.2" height="43.2"/></clipPath><g clip-path="url(#hc3061)"><path d="M306 413.2 l3.2 0 l1.6 2.6 l-1.6 2.6 l-3.2 0 z" fill="#7a7a7a" opacity="0.85"/><path d="M306 432.6 l3.2 0 l1.6 2.6 l-1.6 2.6 l-3.2 0 z" fill="#7a7a7a" opacity="0.85"/><path d="M312.8 418 l3.2 0 l1.6 2.6 l-1.6 2.6 l-3.2 0 z" fill="#7a7a7a" opacity="0.85"/><path d="M312.8 437.4 l3.2 0 l1.6 2.6 l-1.6 2.6 l-3.2 0 z" fill="#7a7a7a" opacity="0.85"/><path d="M312.8 456.8 l3.2 0 l1.6 2.6 l-1.6 2.6 l-3.2 0 z" fill="#7a7a7a" opacity="0.85"/><path d="M297 418 l3.2 0 l1.6 2.6 l-1.6 2.6 l-3.2 0 z" fill="#7a7a7a" opacity="0.85"/><path d="M297 437.4 l3.2 0 l1.6 2.6 l-1.6 2.6 l-3.2 0 z" fill="#7a7a7a" opacity="0.85"/><path d="M300.1 408.3 L302.6 403.45 L309.8 403.45 L312.3 408.3 L309.8 413.15 L302.6 413.15Z M309.8 413.15 L312.3 408.3 L319.5 408.3 L322 413.15 L319.5 418 L312.3 418Z M290.4 413.15 L292.9 408.3 L300.1 408.3 L302.6 413.15 L300.1 418 L292.9 418Z M300.1 418 L302.6 413.15 L309.8 413.15 L312.3 418 L309.8 422.85 L302.6 422.85Z M309.8 422.85 L312.3 418 L319.5 418 L322 422.85 L319.5 427.7 L312.3 427.7Z M290.4 422.85 L292.9 418 L300.1 418 L302.6 422.85 L300.1 427.7 L292.9 427.7Z M300.1 427.7 L302.6 422.85 L309.8 422.85 L312.3 427.7 L309.8 432.55 L302.6 432.55Z M309.8 432.55 L312.3 427.7 L319.5 427.7 L322 432.55 L319.5 437.4 L312.3 437.4Z M290.4 432.55 L292.9 427.7 L300.1 427.7 L302.6 432.55 L300.1 437.4 L292.9 437.4Z M300.1 437.4 L302.6 432.55 L309.8 432.55 L312.3 437.4 L309.8 442.25 L302.6 442.25Z M309.8 442.25 L312.3 437.4 L319.5 437.4 L322 442.25 L319.5 447.1 L312.3 447.1Z M290.4 442.25 L292.9 437.4 L300.1 437.4 L302.6 442.25 L300.1 447.1 L292.9 447.1Z M300.1 447.1 L302.6 442.25 L309.8 442.25 L312.3 447.1 L309.8 451.95 L302.6 451.95Z M309.8 451.95 L312.3 447.1 L319.5 447.1 L322 451.95 L319.5 456.8 L312.3 456.8Z M290.4 451.95 L292.9 447.1 L300.1 447.1 L302.6 451.95 L300.1 456.8 L292.9 456.8Z M300.1 456.8 L302.6 451.95 L309.8 451.95 L312.3 456.8 L309.8 461.65 L302.6 461.65Z M309.8 461.65 L312.3 456.8 L319.5 456.8 L322 461.65 L319.5 466.5 L312.3 466.5Z M290.4 461.65 L292.9 456.8 L300.1 456.8 L302.6 461.65 L300.1 466.5 L292.9 466.5Z" fill="none" stroke="#eeeeee" stroke-width="1.3"/></g><rect x="316.5" y="412.6" width="1" height="43.2" fill="#b0b0b0"/><rect x="297.2" y="456.2" width="19.2" height="4.8" fill="#fafafa"/><path d="M293.6 477.8 L318.5 477.8 L318.5 480.4 L296.1 480.4 Z" fill="#050505"/><rect x="289.1" y="480.4" width="29.8" height="4.2" fill="#d6d6d6"/><rect x="292.2" y="485.2" width="26" height="13.2" rx="1.2" fill="#ededed" stroke="#b0b0b0" stroke-width="0.7"/><text x="292.9" y="488.9" font-family="Liberation Sans" font-weight="bold" font-size="4.2" fill="#2f4c5c" stroke="#1e3a4a" stroke-width="0.45" textLength="24.6" lengthAdjust="spacingAndGlyphs">SAS2 900GB</text><text x="317.9" y="492.8" font-family="Liberation Sans" font-weight="bold" font-size="4.2" fill="#2f4c5c" stroke="#1e3a4a" stroke-width="0.45" text-anchor="end" textLength="14" lengthAdjust="spacingAndGlyphs">10K RPM</text><text x="318.1" y="497" font-family="Liberation Sans" font-weight="bold" font-size="4.2" fill="#2f4c5c" stroke="#1e3a4a" stroke-width="0.45" text-anchor="end" textLength="11.2" lengthAdjust="spacingAndGlyphs">6Gbps</text><rect x="289.1" y="499.8" width="29.8" height="1.4" fill="#8e8e8e"/><rect x="294.8" y="502.4" width="3.7" height="2.7" fill="#a4a4a4" stroke="#707070" stroke-width="0.4"/><rect x="311.9" y="500.6" width="8" height="7" fill="url(#yglowG)"/><rect x="312.5" y="502.4" width="4.2" height="3" fill="#d2e040" stroke="#8a9a30" stroke-width="0.4"/><path d="M297 507.2 L300 511.5 L294 511.5 Z" fill="none" stroke="#2f4c5c" stroke-width="0.8" stroke-linejoin="miter"/><line x1="297" y1="508.58" x2="297" y2="510.3" stroke="#2f4c5c" stroke-width="0.72"/><rect x="296.64" y="510.55" width="0.72" height="0.72" fill="#2f4c5c"/><rect x="312.5" y="507.6" width="4.6" height="3.9" fill="none" stroke="#2f4c5c" stroke-width="0.8"/><rect x="313.3" y="508.6" width="3" height="1.9" fill="#2f4c5c" opacity="0.6"/><rect x="318.4" y="348.5" width="2.2" height="167.1" fill="#0a0a0a"/><rect x="320.6" y="348.5" width="1.5" height="166.5" fill="#f4f4f4"/><rect x="322.1" y="348.5" width="1.9" height="167.1" fill="#0a0a0a"/><rect x="323.1" y="349" width="29.8" height="166" fill="#e3e3e3"/><rect x="323.1" y="349" width="1" height="166" fill="#8a8a8a"/><rect x="324.1" y="349" width="1.6" height="166" fill="#f2f2f2"/><rect x="323.5" y="349" width="29.2" height="1" fill="#f6f6f6"/><path d="M329.7 371.6 L352.9 371.6 L352.9 380.6 L343.7 380.6 L342.3 378.8 L329.7 378.8 Z" fill="#050505"/><rect x="332.9" y="373.9" width="12.5" height="4.6" fill="url(#shG)"/><rect x="329.7" y="365.1" width="21.9" height="7.1" rx="1.8" fill="url(#tabE)"/><rect x="332.3" y="365.7" width="17.6" height="5.2" rx="1" fill="url(#tabG)"/><path d="M338.7 367.4 L342.5 367.4 L340.6 370.2 Z" fill="none" stroke="#444" stroke-width="0.55"/><rect x="329.5" y="400.1" width="22.4" height="6.5" rx="2" fill="#4e4e4e"/><rect x="331.1" y="401.5" width="17.4" height="3.6" rx="1.2" fill="url(#barG)"/><path d="M327.9 406.8 L352.9 406.8 L352.9 461 L327.9 461 Z" fill="#030303"/><path d="M327.9 406.8 L332.3 406.8 L327.9 409.6 Z" fill="#d0d0d0"/><clipPath id="hc3405"><rect x="330.9" y="412.6" width="20.2" height="43.2"/></clipPath><g clip-path="url(#hc3405)"><path d="M340.4 413.2 l3.2 0 l1.6 2.6 l-1.6 2.6 l-3.2 0 z" fill="#7a7a7a" opacity="0.85"/><path d="M340.4 432.6 l3.2 0 l1.6 2.6 l-1.6 2.6 l-3.2 0 z" fill="#7a7a7a" opacity="0.85"/><path d="M347.2 418 l3.2 0 l1.6 2.6 l-1.6 2.6 l-3.2 0 z" fill="#7a7a7a" opacity="0.85"/><path d="M347.2 437.4 l3.2 0 l1.6 2.6 l-1.6 2.6 l-3.2 0 z" fill="#7a7a7a" opacity="0.85"/><path d="M347.2 456.8 l3.2 0 l1.6 2.6 l-1.6 2.6 l-3.2 0 z" fill="#7a7a7a" opacity="0.85"/><path d="M331.4 418 l3.2 0 l1.6 2.6 l-1.6 2.6 l-3.2 0 z" fill="#7a7a7a" opacity="0.85"/><path d="M331.4 437.4 l3.2 0 l1.6 2.6 l-1.6 2.6 l-3.2 0 z" fill="#7a7a7a" opacity="0.85"/><path d="M334.5 408.3 L337 403.45 L344.2 403.45 L346.7 408.3 L344.2 413.15 L337 413.15Z M344.2 413.15 L346.7 408.3 L353.9 408.3 L356.4 413.15 L353.9 418 L346.7 418Z M324.8 413.15 L327.3 408.3 L334.5 408.3 L337 413.15 L334.5 418 L327.3 418Z M334.5 418 L337 413.15 L344.2 413.15 L346.7 418 L344.2 422.85 L337 422.85Z M344.2 422.85 L346.7 418 L353.9 418 L356.4 422.85 L353.9 427.7 L346.7 427.7Z M324.8 422.85 L327.3 418 L334.5 418 L337 422.85 L334.5 427.7 L327.3 427.7Z M334.5 427.7 L337 422.85 L344.2 422.85 L346.7 427.7 L344.2 432.55 L337 432.55Z M344.2 432.55 L346.7 427.7 L353.9 427.7 L356.4 432.55 L353.9 437.4 L346.7 437.4Z M324.8 432.55 L327.3 427.7 L334.5 427.7 L337 432.55 L334.5 437.4 L327.3 437.4Z M334.5 437.4 L337 432.55 L344.2 432.55 L346.7 437.4 L344.2 442.25 L337 442.25Z M344.2 442.25 L346.7 437.4 L353.9 437.4 L356.4 442.25 L353.9 447.1 L346.7 447.1Z M324.8 442.25 L327.3 437.4 L334.5 437.4 L337 442.25 L334.5 447.1 L327.3 447.1Z M334.5 447.1 L337 442.25 L344.2 442.25 L346.7 447.1 L344.2 451.95 L337 451.95Z M344.2 451.95 L346.7 447.1 L353.9 447.1 L356.4 451.95 L353.9 456.8 L346.7 456.8Z M324.8 451.95 L327.3 447.1 L334.5 447.1 L337 451.95 L334.5 456.8 L327.3 456.8Z M334.5 456.8 L337 451.95 L344.2 451.95 L346.7 456.8 L344.2 461.65 L337 461.65Z M344.2 461.65 L346.7 456.8 L353.9 456.8 L356.4 461.65 L353.9 466.5 L346.7 466.5Z M324.8 461.65 L327.3 456.8 L334.5 456.8 L337 461.65 L334.5 466.5 L327.3 466.5Z" fill="none" stroke="#eeeeee" stroke-width="1.3"/></g><rect x="350.9" y="412.6" width="1" height="43.2" fill="#b0b0b0"/><rect x="331.6" y="456.2" width="19.2" height="4.8" fill="#fafafa"/><path d="M328 477.8 L352.9 477.8 L352.9 480.4 L330.5 480.4 Z" fill="#050505"/><rect x="323.5" y="480.4" width="29.8" height="4.2" fill="#d6d6d6"/><rect x="326.6" y="485.2" width="26" height="13.2" rx="1.2" fill="#ededed" stroke="#b0b0b0" stroke-width="0.7"/><text x="327.3" y="488.9" font-family="Liberation Sans" font-weight="bold" font-size="4.2" fill="#2f4c5c" stroke="#1e3a4a" stroke-width="0.45" textLength="24.6" lengthAdjust="spacingAndGlyphs">SAS2 900GB</text><text x="352.3" y="492.8" font-family="Liberation Sans" font-weight="bold" font-size="4.2" fill="#2f4c5c" stroke="#1e3a4a" stroke-width="0.45" text-anchor="end" textLength="14" lengthAdjust="spacingAndGlyphs">10K RPM</text><text x="352.5" y="497" font-family="Liberation Sans" font-weight="bold" font-size="4.2" fill="#2f4c5c" stroke="#1e3a4a" stroke-width="0.45" text-anchor="end" textLength="11.2" lengthAdjust="spacingAndGlyphs">6Gbps</text><rect x="323.5" y="499.8" width="29.8" height="1.4" fill="#8e8e8e"/><rect x="329.2" y="502.4" width="3.7" height="2.7" fill="#a4a4a4" stroke="#707070" stroke-width="0.4"/><rect x="346.3" y="500.6" width="8" height="7" fill="url(#yglowG)"/><rect x="346.9" y="502.4" width="4.2" height="3" fill="#d2e040" stroke="#8a9a30" stroke-width="0.4"/><path d="M331.4 507.2 L334.4 511.5 L328.4 511.5 Z" fill="none" stroke="#2f4c5c" stroke-width="0.8" stroke-linejoin="miter"/><line x1="331.4" y1="508.58" x2="331.4" y2="510.3" stroke="#2f4c5c" stroke-width="0.72"/><rect x="331.04" y="510.55" width="0.72" height="0.72" fill="#2f4c5c"/><rect x="346.9" y="507.6" width="4.6" height="3.9" fill="none" stroke="#2f4c5c" stroke-width="0.8"/><rect x="347.7" y="508.6" width="3" height="1.9" fill="#2f4c5c" opacity="0.6"/><rect x="352.8" y="348.5" width="2.2" height="167.1" fill="#0a0a0a"/><rect x="355" y="348.5" width="1.5" height="166.5" fill="#f4f4f4"/><rect x="356.5" y="348.5" width="1.9" height="167.1" fill="#0a0a0a"/><rect x="357.5" y="349" width="29.8" height="166" fill="#e3e3e3"/><rect x="357.5" y="349" width="1" height="166" fill="#8a8a8a"/><rect x="358.5" y="349" width="1.6" height="166" fill="#f2f2f2"/><rect x="357.9" y="349" width="29.2" height="1" fill="#f6f6f6"/><path d="M364.1 371.6 L387.3 371.6 L387.3 380.6 L378.1 380.6 L376.7 378.8 L364.1 378.8 Z" fill="#050505"/><rect x="367.3" y="373.9" width="12.5" height="4.6" fill="url(#shG)"/><rect x="364.1" y="365.1" width="21.9" height="7.1" rx="1.8" fill="url(#tabE)"/><rect x="366.7" y="365.7" width="17.6" height="5.2" rx="1" fill="url(#tabG)"/><path d="M373.1 367.4 L376.9 367.4 L375 370.2 Z" fill="none" stroke="#444" stroke-width="0.55"/><rect x="363.9" y="400.1" width="22.4" height="6.5" rx="2" fill="#4e4e4e"/><rect x="365.5" y="401.5" width="17.4" height="3.6" rx="1.2" fill="url(#barG)"/><path d="M362.3 406.8 L387.3 406.8 L387.3 461 L362.3 461 Z" fill="#030303"/><path d="M362.3 406.8 L366.7 406.8 L362.3 409.6 Z" fill="#d0d0d0"/><clipPath id="hc3749"><rect x="365.3" y="412.6" width="20.2" height="43.2"/></clipPath><g clip-path="url(#hc3749)"><path d="M374.8 413.2 l3.2 0 l1.6 2.6 l-1.6 2.6 l-3.2 0 z" fill="#7a7a7a" opacity="0.85"/><path d="M374.8 432.6 l3.2 0 l1.6 2.6 l-1.6 2.6 l-3.2 0 z" fill="#7a7a7a" opacity="0.85"/><path d="M381.6 418 l3.2 0 l1.6 2.6 l-1.6 2.6 l-3.2 0 z" fill="#7a7a7a" opacity="0.85"/><path d="M381.6 437.4 l3.2 0 l1.6 2.6 l-1.6 2.6 l-3.2 0 z" fill="#7a7a7a" opacity="0.85"/><path d="M381.6 456.8 l3.2 0 l1.6 2.6 l-1.6 2.6 l-3.2 0 z" fill="#7a7a7a" opacity="0.85"/><path d="M365.8 418 l3.2 0 l1.6 2.6 l-1.6 2.6 l-3.2 0 z" fill="#7a7a7a" opacity="0.85"/><path d="M365.8 437.4 l3.2 0 l1.6 2.6 l-1.6 2.6 l-3.2 0 z" fill="#7a7a7a" opacity="0.85"/><path d="M368.9 408.3 L371.4 403.45 L378.6 403.45 L381.1 408.3 L378.6 413.15 L371.4 413.15Z M378.6 413.15 L381.1 408.3 L388.3 408.3 L390.8 413.15 L388.3 418 L381.1 418Z M359.2 413.15 L361.7 408.3 L368.9 408.3 L371.4 413.15 L368.9 418 L361.7 418Z M368.9 418 L371.4 413.15 L378.6 413.15 L381.1 418 L378.6 422.85 L371.4 422.85Z M378.6 422.85 L381.1 418 L388.3 418 L390.8 422.85 L388.3 427.7 L381.1 427.7Z M359.2 422.85 L361.7 418 L368.9 418 L371.4 422.85 L368.9 427.7 L361.7 427.7Z M368.9 427.7 L371.4 422.85 L378.6 422.85 L381.1 427.7 L378.6 432.55 L371.4 432.55Z M378.6 432.55 L381.1 427.7 L388.3 427.7 L390.8 432.55 L388.3 437.4 L381.1 437.4Z M359.2 432.55 L361.7 427.7 L368.9 427.7 L371.4 432.55 L368.9 437.4 L361.7 437.4Z M368.9 437.4 L371.4 432.55 L378.6 432.55 L381.1 437.4 L378.6 442.25 L371.4 442.25Z M378.6 442.25 L381.1 437.4 L388.3 437.4 L390.8 442.25 L388.3 447.1 L381.1 447.1Z M359.2 442.25 L361.7 437.4 L368.9 437.4 L371.4 442.25 L368.9 447.1 L361.7 447.1Z M368.9 447.1 L371.4 442.25 L378.6 442.25 L381.1 447.1 L378.6 451.95 L371.4 451.95Z M378.6 451.95 L381.1 447.1 L388.3 447.1 L390.8 451.95 L388.3 456.8 L381.1 456.8Z M359.2 451.95 L361.7 447.1 L368.9 447.1 L371.4 451.95 L368.9 456.8 L361.7 456.8Z M368.9 456.8 L371.4 451.95 L378.6 451.95 L381.1 456.8 L378.6 461.65 L371.4 461.65Z M378.6 461.65 L381.1 456.8 L388.3 456.8 L390.8 461.65 L388.3 466.5 L381.1 466.5Z M359.2 461.65 L361.7 456.8 L368.9 456.8 L371.4 461.65 L368.9 466.5 L361.7 466.5Z" fill="none" stroke="#eeeeee" stroke-width="1.3"/></g><rect x="385.3" y="412.6" width="1" height="43.2" fill="#b0b0b0"/><rect x="366" y="456.2" width="19.2" height="4.8" fill="#fafafa"/><path d="M362.4 477.8 L387.3 477.8 L387.3 480.4 L364.9 480.4 Z" fill="#050505"/><rect x="357.9" y="480.4" width="29.8" height="4.2" fill="#d6d6d6"/><rect x="361" y="485.2" width="26" height="13.2" rx="1.2" fill="#ededed" stroke="#b0b0b0" stroke-width="0.7"/><text x="361.7" y="488.9" font-family="Liberation Sans" font-weight="bold" font-size="4.2" fill="#2f4c5c" stroke="#1e3a4a" stroke-width="0.45" textLength="24.6" lengthAdjust="spacingAndGlyphs">SAS2 900GB</text><text x="386.7" y="492.8" font-family="Liberation Sans" font-weight="bold" font-size="4.2" fill="#2f4c5c" stroke="#1e3a4a" stroke-width="0.45" text-anchor="end" textLength="14" lengthAdjust="spacingAndGlyphs">10K RPM</text><text x="386.9" y="497" font-family="Liberation Sans" font-weight="bold" font-size="4.2" fill="#2f4c5c" stroke="#1e3a4a" stroke-width="0.45" text-anchor="end" textLength="11.2" lengthAdjust="spacingAndGlyphs">6Gbps</text><rect x="357.9" y="499.8" width="29.8" height="1.4" fill="#8e8e8e"/><rect x="363.6" y="502.4" width="3.7" height="2.7" fill="#a4a4a4" stroke="#707070" stroke-width="0.4"/><rect x="380.7" y="500.6" width="8" height="7" fill="url(#yglowG)"/><rect x="381.3" y="502.4" width="4.2" height="3" fill="#d2e040" stroke="#8a9a30" stroke-width="0.4"/><path d="M365.8 507.2 L368.8 511.5 L362.8 511.5 Z" fill="none" stroke="#2f4c5c" stroke-width="0.8" stroke-linejoin="miter"/><line x1="365.8" y1="508.58" x2="365.8" y2="510.3" stroke="#2f4c5c" stroke-width="0.72"/><rect x="365.44" y="510.55" width="0.72" height="0.72" fill="#2f4c5c"/><rect x="381.3" y="507.6" width="4.6" height="3.9" fill="none" stroke="#2f4c5c" stroke-width="0.8"/><rect x="382.1" y="508.6" width="3" height="1.9" fill="#2f4c5c" opacity="0.6"/><rect x="387.2" y="348.5" width="2.2" height="167.1" fill="#0a0a0a"/><rect x="389.4" y="348.5" width="1.5" height="166.5" fill="#f4f4f4"/><rect x="390.9" y="348.5" width="1.9" height="167.1" fill="#0a0a0a"/><rect x="391.9" y="349" width="29.8" height="166" fill="#e3e3e3"/><rect x="391.9" y="349" width="1" height="166" fill="#8a8a8a"/><rect x="392.9" y="349" width="1.6" height="166" fill="#f2f2f2"/><rect x="392.3" y="349" width="29.2" height="1" fill="#f6f6f6"/><path d="M398.5 371.6 L421.7 371.6 L421.7 380.6 L412.5 380.6 L411.1 378.8 L398.5 378.8 Z" fill="#050505"/><rect x="401.7" y="373.9" width="12.5" height="4.6" fill="url(#shG)"/><rect x="398.5" y="365.1" width="21.9" height="7.1" rx="1.8" fill="url(#tabE)"/><rect x="401.1" y="365.7" width="17.6" height="5.2" rx="1" fill="url(#tabG)"/><path d="M407.5 367.4 L411.3 367.4 L409.4 370.2 Z" fill="none" stroke="#444" stroke-width="0.55"/><rect x="398.3" y="400.1" width="22.4" height="6.5" rx="2" fill="#4e4e4e"/><rect x="399.9" y="401.5" width="17.4" height="3.6" rx="1.2" fill="url(#barG)"/><path d="M396.7 406.8 L421.7 406.8 L421.7 461 L396.7 461 Z" fill="#030303"/><path d="M396.7 406.8 L401.1 406.8 L396.7 409.6 Z" fill="#d0d0d0"/><clipPath id="hc4093"><rect x="399.7" y="412.6" width="20.2" height="43.2"/></clipPath><g clip-path="url(#hc4093)"><path d="M409.2 413.2 l3.2 0 l1.6 2.6 l-1.6 2.6 l-3.2 0 z" fill="#7a7a7a" opacity="0.85"/><path d="M409.2 432.6 l3.2 0 l1.6 2.6 l-1.6 2.6 l-3.2 0 z" fill="#7a7a7a" opacity="0.85"/><path d="M416 418 l3.2 0 l1.6 2.6 l-1.6 2.6 l-3.2 0 z" fill="#7a7a7a" opacity="0.85"/><path d="M416 437.4 l3.2 0 l1.6 2.6 l-1.6 2.6 l-3.2 0 z" fill="#7a7a7a" opacity="0.85"/><path d="M416 456.8 l3.2 0 l1.6 2.6 l-1.6 2.6 l-3.2 0 z" fill="#7a7a7a" opacity="0.85"/><path d="M400.2 418 l3.2 0 l1.6 2.6 l-1.6 2.6 l-3.2 0 z" fill="#7a7a7a" opacity="0.85"/><path d="M400.2 437.4 l3.2 0 l1.6 2.6 l-1.6 2.6 l-3.2 0 z" fill="#7a7a7a" opacity="0.85"/><path d="M403.3 408.3 L405.8 403.45 L413 403.45 L415.5 408.3 L413 413.15 L405.8 413.15Z M413 413.15 L415.5 408.3 L422.7 408.3 L425.2 413.15 L422.7 418 L415.5 418Z M393.6 413.15 L396.1 408.3 L403.3 408.3 L405.8 413.15 L403.3 418 L396.1 418Z M403.3 418 L405.8 413.15 L413 413.15 L415.5 418 L413 422.85 L405.8 422.85Z M413 422.85 L415.5 418 L422.7 418 L425.2 422.85 L422.7 427.7 L415.5 427.7Z M393.6 422.85 L396.1 418 L403.3 418 L405.8 422.85 L403.3 427.7 L396.1 427.7Z M403.3 427.7 L405.8 422.85 L413 422.85 L415.5 427.7 L413 432.55 L405.8 432.55Z M413 432.55 L415.5 427.7 L422.7 427.7 L425.2 432.55 L422.7 437.4 L415.5 437.4Z M393.6 432.55 L396.1 427.7 L403.3 427.7 L405.8 432.55 L403.3 437.4 L396.1 437.4Z M403.3 437.4 L405.8 432.55 L413 432.55 L415.5 437.4 L413 442.25 L405.8 442.25Z M413 442.25 L415.5 437.4 L422.7 437.4 L425.2 442.25 L422.7 447.1 L415.5 447.1Z M393.6 442.25 L396.1 437.4 L403.3 437.4 L405.8 442.25 L403.3 447.1 L396.1 447.1Z M403.3 447.1 L405.8 442.25 L413 442.25 L415.5 447.1 L413 451.95 L405.8 451.95Z M413 451.95 L415.5 447.1 L422.7 447.1 L425.2 451.95 L422.7 456.8 L415.5 456.8Z M393.6 451.95 L396.1 447.1 L403.3 447.1 L405.8 451.95 L403.3 456.8 L396.1 456.8Z M403.3 456.8 L405.8 451.95 L413 451.95 L415.5 456.8 L413 461.65 L405.8 461.65Z M413 461.65 L415.5 456.8 L422.7 456.8 L425.2 461.65 L422.7 466.5 L415.5 466.5Z M393.6 461.65 L396.1 456.8 L403.3 456.8 L405.8 461.65 L403.3 466.5 L396.1 466.5Z" fill="none" stroke="#eeeeee" stroke-width="1.3"/></g><rect x="419.7" y="412.6" width="1" height="43.2" fill="#b0b0b0"/><rect x="400.4" y="456.2" width="19.2" height="4.8" fill="#fafafa"/><path d="M396.8 477.8 L421.7 477.8 L421.7 480.4 L399.3 480.4 Z" fill="#050505"/><rect x="392.3" y="480.4" width="29.8" height="4.2" fill="#d6d6d6"/><rect x="395.4" y="485.2" width="26" height="13.2" rx="1.2" fill="#ededed" stroke="#b0b0b0" stroke-width="0.7"/><text x="396.1" y="488.9" font-family="Liberation Sans" font-weight="bold" font-size="4.2" fill="#2f4c5c" stroke="#1e3a4a" stroke-width="0.45" textLength="24.6" lengthAdjust="spacingAndGlyphs">SAS2 900GB</text><text x="421.1" y="492.8" font-family="Liberation Sans" font-weight="bold" font-size="4.2" fill="#2f4c5c" stroke="#1e3a4a" stroke-width="0.45" text-anchor="end" textLength="14" lengthAdjust="spacingAndGlyphs">10K RPM</text><text x="421.3" y="497" font-family="Liberation Sans" font-weight="bold" font-size="4.2" fill="#2f4c5c" stroke="#1e3a4a" stroke-width="0.45" text-anchor="end" textLength="11.2" lengthAdjust="spacingAndGlyphs">6Gbps</text><rect x="392.3" y="499.8" width="29.8" height="1.4" fill="#8e8e8e"/><rect x="398" y="502.4" width="3.7" height="2.7" fill="#a4a4a4" stroke="#707070" stroke-width="0.4"/><rect x="415.1" y="500.6" width="8" height="7" fill="url(#yglowG)"/><rect x="415.7" y="502.4" width="4.2" height="3" fill="#d2e040" stroke="#8a9a30" stroke-width="0.4"/><path d="M400.2 507.2 L403.2 511.5 L397.2 511.5 Z" fill="none" stroke="#2f4c5c" stroke-width="0.8" stroke-linejoin="miter"/><line x1="400.2" y1="508.58" x2="400.2" y2="510.3" stroke="#2f4c5c" stroke-width="0.72"/><rect x="399.84" y="510.55" width="0.72" height="0.72" fill="#2f4c5c"/><rect x="415.7" y="507.6" width="4.6" height="3.9" fill="none" stroke="#2f4c5c" stroke-width="0.8"/><rect x="416.5" y="508.6" width="3" height="1.9" fill="#2f4c5c" opacity="0.6"/><rect x="421.6" y="348.5" width="2.2" height="167.1" fill="#0a0a0a"/><rect x="423.8" y="348.5" width="1.5" height="166.5" fill="#f4f4f4"/><rect x="425.3" y="348.5" width="1.9" height="167.1" fill="#0a0a0a"/><rect x="426.3" y="349" width="29.8" height="166" fill="#e3e3e3"/><rect x="426.3" y="349" width="1" height="166" fill="#8a8a8a"/><rect x="427.3" y="349" width="1.6" height="166" fill="#f2f2f2"/><rect x="426.7" y="349" width="29.2" height="1" fill="#f6f6f6"/><path d="M432.9 371.6 L456.1 371.6 L456.1 380.6 L446.9 380.6 L445.5 378.8 L432.9 378.8 Z" fill="#050505"/><rect x="436.1" y="373.9" width="12.5" height="4.6" fill="url(#shG)"/><rect x="432.9" y="365.1" width="21.9" height="7.1" rx="1.8" fill="url(#tabE)"/><rect x="435.5" y="365.7" width="17.6" height="5.2" rx="1" fill="url(#tabG)"/><path d="M441.9 367.4 L445.7 367.4 L443.8 370.2 Z" fill="none" stroke="#444" stroke-width="0.55"/><rect x="432.7" y="400.1" width="22.4" height="6.5" rx="2" fill="#4e4e4e"/><rect x="434.3" y="401.5" width="17.4" height="3.6" rx="1.2" fill="url(#barG)"/><path d="M431.1 406.8 L456.1 406.8 L456.1 461 L431.1 461 Z" fill="#030303"/><path d="M431.1 406.8 L435.5 406.8 L431.1 409.6 Z" fill="#d0d0d0"/><clipPath id="hc4437"><rect x="434.1" y="412.6" width="20.2" height="43.2"/></clipPath><g clip-path="url(#hc4437)"><path d="M443.6 413.2 l3.2 0 l1.6 2.6 l-1.6 2.6 l-3.2 0 z" fill="#7a7a7a" opacity="0.85"/><path d="M443.6 432.6 l3.2 0 l1.6 2.6 l-1.6 2.6 l-3.2 0 z" fill="#7a7a7a" opacity="0.85"/><path d="M450.4 418 l3.2 0 l1.6 2.6 l-1.6 2.6 l-3.2 0 z" fill="#7a7a7a" opacity="0.85"/><path d="M450.4 437.4 l3.2 0 l1.6 2.6 l-1.6 2.6 l-3.2 0 z" fill="#7a7a7a" opacity="0.85"/><path d="M450.4 456.8 l3.2 0 l1.6 2.6 l-1.6 2.6 l-3.2 0 z" fill="#7a7a7a" opacity="0.85"/><path d="M434.6 418 l3.2 0 l1.6 2.6 l-1.6 2.6 l-3.2 0 z" fill="#7a7a7a" opacity="0.85"/><path d="M434.6 437.4 l3.2 0 l1.6 2.6 l-1.6 2.6 l-3.2 0 z" fill="#7a7a7a" opacity="0.85"/><path d="M437.7 408.3 L440.2 403.45 L447.4 403.45 L449.9 408.3 L447.4 413.15 L440.2 413.15Z M447.4 413.15 L449.9 408.3 L457.1 408.3 L459.6 413.15 L457.1 418 L449.9 418Z M428 413.15 L430.5 408.3 L437.7 408.3 L440.2 413.15 L437.7 418 L430.5 418Z M437.7 418 L440.2 413.15 L447.4 413.15 L449.9 418 L447.4 422.85 L440.2 422.85Z M447.4 422.85 L449.9 418 L457.1 418 L459.6 422.85 L457.1 427.7 L449.9 427.7Z M428 422.85 L430.5 418 L437.7 418 L440.2 422.85 L437.7 427.7 L430.5 427.7Z M437.7 427.7 L440.2 422.85 L447.4 422.85 L449.9 427.7 L447.4 432.55 L440.2 432.55Z M447.4 432.55 L449.9 427.7 L457.1 427.7 L459.6 432.55 L457.1 437.4 L449.9 437.4Z M428 432.55 L430.5 427.7 L437.7 427.7 L440.2 432.55 L437.7 437.4 L430.5 437.4Z M437.7 437.4 L440.2 432.55 L447.4 432.55 L449.9 437.4 L447.4 442.25 L440.2 442.25Z M447.4 442.25 L449.9 437.4 L457.1 437.4 L459.6 442.25 L457.1 447.1 L449.9 447.1Z M428 442.25 L430.5 437.4 L437.7 437.4 L440.2 442.25 L437.7 447.1 L430.5 447.1Z M437.7 447.1 L440.2 442.25 L447.4 442.25 L449.9 447.1 L447.4 451.95 L440.2 451.95Z M447.4 451.95 L449.9 447.1 L457.1 447.1 L459.6 451.95 L457.1 456.8 L449.9 456.8Z M428 451.95 L430.5 447.1 L437.7 447.1 L440.2 451.95 L437.7 456.8 L430.5 456.8Z M437.7 456.8 L440.2 451.95 L447.4 451.95 L449.9 456.8 L447.4 461.65 L440.2 461.65Z M447.4 461.65 L449.9 456.8 L457.1 456.8 L459.6 461.65 L457.1 466.5 L449.9 466.5Z M428 461.65 L430.5 456.8 L437.7 456.8 L440.2 461.65 L437.7 466.5 L430.5 466.5Z" fill="none" stroke="#eeeeee" stroke-width="1.3"/></g><rect x="454.1" y="412.6" width="1" height="43.2" fill="#b0b0b0"/><rect x="434.8" y="456.2" width="19.2" height="4.8" fill="#fafafa"/><path d="M431.2 477.8 L456.1 477.8 L456.1 480.4 L433.7 480.4 Z" fill="#050505"/><rect x="426.7" y="480.4" width="29.8" height="4.2" fill="#d6d6d6"/><rect x="429.8" y="485.2" width="26" height="13.2" rx="1.2" fill="#ededed" stroke="#b0b0b0" stroke-width="0.7"/><text x="430.5" y="488.9" font-family="Liberation Sans" font-weight="bold" font-size="4.2" fill="#2f4c5c" stroke="#1e3a4a" stroke-width="0.45" textLength="24.6" lengthAdjust="spacingAndGlyphs">SAS2 900GB</text><text x="455.5" y="492.8" font-family="Liberation Sans" font-weight="bold" font-size="4.2" fill="#2f4c5c" stroke="#1e3a4a" stroke-width="0.45" text-anchor="end" textLength="14" lengthAdjust="spacingAndGlyphs">10K RPM</text><text x="455.7" y="497" font-family="Liberation Sans" font-weight="bold" font-size="4.2" fill="#2f4c5c" stroke="#1e3a4a" stroke-width="0.45" text-anchor="end" textLength="11.2" lengthAdjust="spacingAndGlyphs">6Gbps</text><rect x="426.7" y="499.8" width="29.8" height="1.4" fill="#8e8e8e"/><rect x="432.4" y="502.4" width="3.7" height="2.7" fill="#a4a4a4" stroke="#707070" stroke-width="0.4"/><rect x="449.5" y="500.6" width="8" height="7" fill="url(#yglowG)"/><rect x="450.1" y="502.4" width="4.2" height="3" fill="#d2e040" stroke="#8a9a30" stroke-width="0.4"/><path d="M434.6 507.2 L437.6 511.5 L431.6 511.5 Z" fill="none" stroke="#2f4c5c" stroke-width="0.8" stroke-linejoin="miter"/><line x1="434.6" y1="508.58" x2="434.6" y2="510.3" stroke="#2f4c5c" stroke-width="0.72"/><rect x="434.24" y="510.55" width="0.72" height="0.72" fill="#2f4c5c"/><rect x="450.1" y="507.6" width="4.6" height="3.9" fill="none" stroke="#2f4c5c" stroke-width="0.8"/><rect x="450.9" y="508.6" width="3" height="1.9" fill="#2f4c5c" opacity="0.6"/><rect x="456" y="348.5" width="2.2" height="167.1" fill="#0a0a0a"/><rect x="458.2" y="348.5" width="1.5" height="166.5" fill="#f4f4f4"/><rect x="459.7" y="348.5" width="1.9" height="167.1" fill="#0a0a0a"/><rect x="460.7" y="349" width="29.8" height="166" fill="#e3e3e3"/><rect x="460.7" y="349" width="1" height="166" fill="#8a8a8a"/><rect x="461.7" y="349" width="1.6" height="166" fill="#f2f2f2"/><rect x="461.1" y="349" width="29.2" height="1" fill="#f6f6f6"/><path d="M467.3 371.6 L490.5 371.6 L490.5 380.6 L481.3 380.6 L479.9 378.8 L467.3 378.8 Z" fill="#050505"/><rect x="470.5" y="373.9" width="12.5" height="4.6" fill="url(#shG)"/><rect x="467.3" y="365.1" width="21.9" height="7.1" rx="1.8" fill="url(#tabE)"/><rect x="469.9" y="365.7" width="17.6" height="5.2" rx="1" fill="url(#tabG)"/><path d="M476.3 367.4 L480.1 367.4 L478.2 370.2 Z" fill="none" stroke="#444" stroke-width="0.55"/><rect x="467.1" y="400.1" width="22.4" height="6.5" rx="2" fill="#4e4e4e"/><rect x="468.7" y="401.5" width="17.4" height="3.6" rx="1.2" fill="url(#barG)"/><path d="M465.5 406.8 L490.5 406.8 L490.5 461 L465.5 461 Z" fill="#030303"/><path d="M465.5 406.8 L469.9 406.8 L465.5 409.6 Z" fill="#d0d0d0"/><clipPath id="hc4781"><rect x="468.5" y="412.6" width="20.2" height="43.2"/></clipPath><g clip-path="url(#hc4781)"><path d="M478 413.2 l3.2 0 l1.6 2.6 l-1.6 2.6 l-3.2 0 z" fill="#7a7a7a" opacity="0.85"/><path d="M478 432.6 l3.2 0 l1.6 2.6 l-1.6 2.6 l-3.2 0 z" fill="#7a7a7a" opacity="0.85"/><path d="M484.8 418 l3.2 0 l1.6 2.6 l-1.6 2.6 l-3.2 0 z" fill="#7a7a7a" opacity="0.85"/><path d="M484.8 437.4 l3.2 0 l1.6 2.6 l-1.6 2.6 l-3.2 0 z" fill="#7a7a7a" opacity="0.85"/><path d="M484.8 456.8 l3.2 0 l1.6 2.6 l-1.6 2.6 l-3.2 0 z" fill="#7a7a7a" opacity="0.85"/><path d="M469 418 l3.2 0 l1.6 2.6 l-1.6 2.6 l-3.2 0 z" fill="#7a7a7a" opacity="0.85"/><path d="M469 437.4 l3.2 0 l1.6 2.6 l-1.6 2.6 l-3.2 0 z" fill="#7a7a7a" opacity="0.85"/><path d="M472.1 408.3 L474.6 403.45 L481.8 403.45 L484.3 408.3 L481.8 413.15 L474.6 413.15Z M481.8 413.15 L484.3 408.3 L491.5 408.3 L494 413.15 L491.5 418 L484.3 418Z M462.4 413.15 L464.9 408.3 L472.1 408.3 L474.6 413.15 L472.1 418 L464.9 418Z M472.1 418 L474.6 413.15 L481.8 413.15 L484.3 418 L481.8 422.85 L474.6 422.85Z M481.8 422.85 L484.3 418 L491.5 418 L494 422.85 L491.5 427.7 L484.3 427.7Z M462.4 422.85 L464.9 418 L472.1 418 L474.6 422.85 L472.1 427.7 L464.9 427.7Z M472.1 427.7 L474.6 422.85 L481.8 422.85 L484.3 427.7 L481.8 432.55 L474.6 432.55Z M481.8 432.55 L484.3 427.7 L491.5 427.7 L494 432.55 L491.5 437.4 L484.3 437.4Z M462.4 432.55 L464.9 427.7 L472.1 427.7 L474.6 432.55 L472.1 437.4 L464.9 437.4Z M472.1 437.4 L474.6 432.55 L481.8 432.55 L484.3 437.4 L481.8 442.25 L474.6 442.25Z M481.8 442.25 L484.3 437.4 L491.5 437.4 L494 442.25 L491.5 447.1 L484.3 447.1Z M462.4 442.25 L464.9 437.4 L472.1 437.4 L474.6 442.25 L472.1 447.1 L464.9 447.1Z M472.1 447.1 L474.6 442.25 L481.8 442.25 L484.3 447.1 L481.8 451.95 L474.6 451.95Z M481.8 451.95 L484.3 447.1 L491.5 447.1 L494 451.95 L491.5 456.8 L484.3 456.8Z M462.4 451.95 L464.9 447.1 L472.1 447.1 L474.6 451.95 L472.1 456.8 L464.9 456.8Z M472.1 456.8 L474.6 451.95 L481.8 451.95 L484.3 456.8 L481.8 461.65 L474.6 461.65Z M481.8 461.65 L484.3 456.8 L491.5 456.8 L494 461.65 L491.5 466.5 L484.3 466.5Z M462.4 461.65 L464.9 456.8 L472.1 456.8 L474.6 461.65 L472.1 466.5 L464.9 466.5Z" fill="none" stroke="#eeeeee" stroke-width="1.3"/></g><rect x="488.5" y="412.6" width="1" height="43.2" fill="#b0b0b0"/><rect x="469.2" y="456.2" width="19.2" height="4.8" fill="#fafafa"/><path d="M465.6 477.8 L490.5 477.8 L490.5 480.4 L468.1 480.4 Z" fill="#050505"/><rect x="461.1" y="480.4" width="29.8" height="4.2" fill="#d6d6d6"/><rect x="464.2" y="485.2" width="26" height="13.2" rx="1.2" fill="#ededed" stroke="#b0b0b0" stroke-width="0.7"/><text x="464.9" y="488.9" font-family="Liberation Sans" font-weight="bold" font-size="4.2" fill="#2f4c5c" stroke="#1e3a4a" stroke-width="0.45" textLength="24.6" lengthAdjust="spacingAndGlyphs">SAS2 900GB</text><text x="489.9" y="492.8" font-family="Liberation Sans" font-weight="bold" font-size="4.2" fill="#2f4c5c" stroke="#1e3a4a" stroke-width="0.45" text-anchor="end" textLength="14" lengthAdjust="spacingAndGlyphs">10K RPM</text><text x="490.1" y="497" font-family="Liberation Sans" font-weight="bold" font-size="4.2" fill="#2f4c5c" stroke="#1e3a4a" stroke-width="0.45" text-anchor="end" textLength="11.2" lengthAdjust="spacingAndGlyphs">6Gbps</text><rect x="461.1" y="499.8" width="29.8" height="1.4" fill="#8e8e8e"/><rect x="466.8" y="502.4" width="3.7" height="2.7" fill="#a4a4a4" stroke="#707070" stroke-width="0.4"/><rect x="483.9" y="500.6" width="8" height="7" fill="url(#yglowG)"/><rect x="484.5" y="502.4" width="4.2" height="3" fill="#d2e040" stroke="#8a9a30" stroke-width="0.4"/><path d="M469 507.2 L472 511.5 L466 511.5 Z" fill="none" stroke="#2f4c5c" stroke-width="0.8" stroke-linejoin="miter"/><line x1="469" y1="508.58" x2="469" y2="510.3" stroke="#2f4c5c" stroke-width="0.72"/><rect x="468.64" y="510.55" width="0.72" height="0.72" fill="#2f4c5c"/><rect x="484.5" y="507.6" width="4.6" height="3.9" fill="none" stroke="#2f4c5c" stroke-width="0.8"/><rect x="485.3" y="508.6" width="3" height="1.9" fill="#2f4c5c" opacity="0.6"/><rect x="490.4" y="348.5" width="2.2" height="167.1" fill="#0a0a0a"/><rect x="492.6" y="348.5" width="1.5" height="166.5" fill="#f4f4f4"/><rect x="494.1" y="348.5" width="1.9" height="167.1" fill="#0a0a0a"/><rect x="495.1" y="349" width="29.8" height="166" fill="#e3e3e3"/><rect x="495.1" y="349" width="1" height="166" fill="#8a8a8a"/><rect x="496.1" y="349" width="1.6" height="166" fill="#f2f2f2"/><rect x="495.5" y="349" width="29.2" height="1" fill="#f6f6f6"/><path d="M501.7 371.6 L524.9 371.6 L524.9 380.6 L515.7 380.6 L514.3 378.8 L501.7 378.8 Z" fill="#050505"/><rect x="504.9" y="373.9" width="12.5" height="4.6" fill="url(#shG)"/><rect x="501.7" y="365.1" width="21.9" height="7.1" rx="1.8" fill="url(#tabE)"/><rect x="504.3" y="365.7" width="17.6" height="5.2" rx="1" fill="url(#tabG)"/><path d="M510.7 367.4 L514.5 367.4 L512.6 370.2 Z" fill="none" stroke="#444" stroke-width="0.55"/><rect x="501.5" y="400.1" width="22.4" height="6.5" rx="2" fill="#4e4e4e"/><rect x="503.1" y="401.5" width="17.4" height="3.6" rx="1.2" fill="url(#barG)"/><path d="M499.9 406.8 L524.9 406.8 L524.9 461 L499.9 461 Z" fill="#030303"/><path d="M499.9 406.8 L504.3 406.8 L499.9 409.6 Z" fill="#d0d0d0"/><clipPath id="hc5125"><rect x="502.9" y="412.6" width="20.2" height="43.2"/></clipPath><g clip-path="url(#hc5125)"><path d="M512.4 413.2 l3.2 0 l1.6 2.6 l-1.6 2.6 l-3.2 0 z" fill="#7a7a7a" opacity="0.85"/><path d="M512.4 432.6 l3.2 0 l1.6 2.6 l-1.6 2.6 l-3.2 0 z" fill="#7a7a7a" opacity="0.85"/><path d="M519.2 418 l3.2 0 l1.6 2.6 l-1.6 2.6 l-3.2 0 z" fill="#7a7a7a" opacity="0.85"/><path d="M519.2 437.4 l3.2 0 l1.6 2.6 l-1.6 2.6 l-3.2 0 z" fill="#7a7a7a" opacity="0.85"/><path d="M519.2 456.8 l3.2 0 l1.6 2.6 l-1.6 2.6 l-3.2 0 z" fill="#7a7a7a" opacity="0.85"/><path d="M503.4 418 l3.2 0 l1.6 2.6 l-1.6 2.6 l-3.2 0 z" fill="#7a7a7a" opacity="0.85"/><path d="M503.4 437.4 l3.2 0 l1.6 2.6 l-1.6 2.6 l-3.2 0 z" fill="#7a7a7a" opacity="0.85"/><path d="M506.5 408.3 L509 403.45 L516.2 403.45 L518.7 408.3 L516.2 413.15 L509 413.15Z M516.2 413.15 L518.7 408.3 L525.9 408.3 L528.4 413.15 L525.9 418 L518.7 418Z M496.8 413.15 L499.3 408.3 L506.5 408.3 L509 413.15 L506.5 418 L499.3 418Z M506.5 418 L509 413.15 L516.2 413.15 L518.7 418 L516.2 422.85 L509 422.85Z M516.2 422.85 L518.7 418 L525.9 418 L528.4 422.85 L525.9 427.7 L518.7 427.7Z M496.8 422.85 L499.3 418 L506.5 418 L509 422.85 L506.5 427.7 L499.3 427.7Z M506.5 427.7 L509 422.85 L516.2 422.85 L518.7 427.7 L516.2 432.55 L509 432.55Z M516.2 432.55 L518.7 427.7 L525.9 427.7 L528.4 432.55 L525.9 437.4 L518.7 437.4Z M496.8 432.55 L499.3 427.7 L506.5 427.7 L509 432.55 L506.5 437.4 L499.3 437.4Z M506.5 437.4 L509 432.55 L516.2 432.55 L518.7 437.4 L516.2 442.25 L509 442.25Z M516.2 442.25 L518.7 437.4 L525.9 437.4 L528.4 442.25 L525.9 447.1 L518.7 447.1Z M496.8 442.25 L499.3 437.4 L506.5 437.4 L509 442.25 L506.5 447.1 L499.3 447.1Z M506.5 447.1 L509 442.25 L516.2 442.25 L518.7 447.1 L516.2 451.95 L509 451.95Z M516.2 451.95 L518.7 447.1 L525.9 447.1 L528.4 451.95 L525.9 456.8 L518.7 456.8Z M496.8 451.95 L499.3 447.1 L506.5 447.1 L509 451.95 L506.5 456.8 L499.3 456.8Z M506.5 456.8 L509 451.95 L516.2 451.95 L518.7 456.8 L516.2 461.65 L509 461.65Z M516.2 461.65 L518.7 456.8 L525.9 456.8 L528.4 461.65 L525.9 466.5 L518.7 466.5Z M496.8 461.65 L499.3 456.8 L506.5 456.8 L509 461.65 L506.5 466.5 L499.3 466.5Z" fill="none" stroke="#eeeeee" stroke-width="1.3"/></g><rect x="522.9" y="412.6" width="1" height="43.2" fill="#b0b0b0"/><rect x="503.6" y="456.2" width="19.2" height="4.8" fill="#fafafa"/><path d="M500 477.8 L524.9 477.8 L524.9 480.4 L502.5 480.4 Z" fill="#050505"/><rect x="495.5" y="480.4" width="29.8" height="4.2" fill="#d6d6d6"/><rect x="498.6" y="485.2" width="26" height="13.2" rx="1.2" fill="#ededed" stroke="#b0b0b0" stroke-width="0.7"/><text x="499.3" y="488.9" font-family="Liberation Sans" font-weight="bold" font-size="4.2" fill="#2f4c5c" stroke="#1e3a4a" stroke-width="0.45" textLength="24.6" lengthAdjust="spacingAndGlyphs">SAS2 900GB</text><text x="524.3" y="492.8" font-family="Liberation Sans" font-weight="bold" font-size="4.2" fill="#2f4c5c" stroke="#1e3a4a" stroke-width="0.45" text-anchor="end" textLength="14" lengthAdjust="spacingAndGlyphs">10K RPM</text><text x="524.5" y="497" font-family="Liberation Sans" font-weight="bold" font-size="4.2" fill="#2f4c5c" stroke="#1e3a4a" stroke-width="0.45" text-anchor="end" textLength="11.2" lengthAdjust="spacingAndGlyphs">6Gbps</text><rect x="495.5" y="499.8" width="29.8" height="1.4" fill="#8e8e8e"/><rect x="501.2" y="502.4" width="3.7" height="2.7" fill="#a4a4a4" stroke="#707070" stroke-width="0.4"/><rect x="518.3" y="500.6" width="8" height="7" fill="url(#yglowG)"/><rect x="518.9" y="502.4" width="4.2" height="3" fill="#d2e040" stroke="#8a9a30" stroke-width="0.4"/><path d="M503.4 507.2 L506.4 511.5 L500.4 511.5 Z" fill="none" stroke="#2f4c5c" stroke-width="0.8" stroke-linejoin="miter"/><line x1="503.4" y1="508.58" x2="503.4" y2="510.3" stroke="#2f4c5c" stroke-width="0.72"/><rect x="503.04" y="510.55" width="0.72" height="0.72" fill="#2f4c5c"/><rect x="518.9" y="507.6" width="4.6" height="3.9" fill="none" stroke="#2f4c5c" stroke-width="0.8"/><rect x="519.7" y="508.6" width="3" height="1.9" fill="#2f4c5c" opacity="0.6"/><rect x="524.8" y="348.5" width="2.2" height="167.1" fill="#0a0a0a"/><rect x="527" y="348.5" width="1.5" height="166.5" fill="#f4f4f4"/><rect x="528.5" y="348.5" width="1.9" height="167.1" fill="#0a0a0a"/><rect x="547.5" y="349" width="29.8" height="166" fill="#e3e3e3"/><rect x="547.5" y="349" width="1" height="166" fill="#8a8a8a"/><rect x="548.5" y="349" width="1.6" height="166" fill="#f2f2f2"/><rect x="547.9" y="349" width="29.2" height="1" fill="#f6f6f6"/><path d="M554.1 371.6 L577.3 371.6 L577.3 380.6 L568.1 380.6 L566.7 378.8 L554.1 378.8 Z" fill="#050505"/><rect x="557.3" y="373.9" width="12.5" height="4.6" fill="url(#shG)"/><rect x="554.1" y="365.1" width="21.9" height="7.1" rx="1.8" fill="url(#tabE)"/><rect x="556.7" y="365.7" width="17.6" height="5.2" rx="1" fill="url(#tabG)"/><path d="M563.1 367.4 L566.9 367.4 L565 370.2 Z" fill="none" stroke="#444" stroke-width="0.55"/><rect x="553.9" y="400.1" width="22.4" height="6.5" rx="2" fill="#4e4e4e"/><rect x="555.5" y="401.5" width="17.4" height="3.6" rx="1.2" fill="url(#barG)"/><path d="M552.3 406.8 L577.3 406.8 L577.3 461 L552.3 461 Z" fill="#030303"/><path d="M552.3 406.8 L556.7 406.8 L552.3 409.6 Z" fill="#d0d0d0"/><clipPath id="hc5649"><rect x="555.3" y="412.6" width="20.2" height="43.2"/></clipPath><g clip-path="url(#hc5649)"><path d="M564.8 413.2 l3.2 0 l1.6 2.6 l-1.6 2.6 l-3.2 0 z" fill="#7a7a7a" opacity="0.85"/><path d="M564.8 432.6 l3.2 0 l1.6 2.6 l-1.6 2.6 l-3.2 0 z" fill="#7a7a7a" opacity="0.85"/><path d="M571.6 418 l3.2 0 l1.6 2.6 l-1.6 2.6 l-3.2 0 z" fill="#7a7a7a" opacity="0.85"/><path d="M571.6 437.4 l3.2 0 l1.6 2.6 l-1.6 2.6 l-3.2 0 z" fill="#7a7a7a" opacity="0.85"/><path d="M571.6 456.8 l3.2 0 l1.6 2.6 l-1.6 2.6 l-3.2 0 z" fill="#7a7a7a" opacity="0.85"/><path d="M555.8 418 l3.2 0 l1.6 2.6 l-1.6 2.6 l-3.2 0 z" fill="#7a7a7a" opacity="0.85"/><path d="M555.8 437.4 l3.2 0 l1.6 2.6 l-1.6 2.6 l-3.2 0 z" fill="#7a7a7a" opacity="0.85"/><path d="M558.9 408.3 L561.4 403.45 L568.6 403.45 L571.1 408.3 L568.6 413.15 L561.4 413.15Z M568.6 413.15 L571.1 408.3 L578.3 408.3 L580.8 413.15 L578.3 418 L571.1 418Z M549.2 413.15 L551.7 408.3 L558.9 408.3 L561.4 413.15 L558.9 418 L551.7 418Z M558.9 418 L561.4 413.15 L568.6 413.15 L571.1 418 L568.6 422.85 L561.4 422.85Z M568.6 422.85 L571.1 418 L578.3 418 L580.8 422.85 L578.3 427.7 L571.1 427.7Z M549.2 422.85 L551.7 418 L558.9 418 L561.4 422.85 L558.9 427.7 L551.7 427.7Z M558.9 427.7 L561.4 422.85 L568.6 422.85 L571.1 427.7 L568.6 432.55 L561.4 432.55Z M568.6 432.55 L571.1 427.7 L578.3 427.7 L580.8 432.55 L578.3 437.4 L571.1 437.4Z M549.2 432.55 L551.7 427.7 L558.9 427.7 L561.4 432.55 L558.9 437.4 L551.7 437.4Z M558.9 437.4 L561.4 432.55 L568.6 432.55 L571.1 437.4 L568.6 442.25 L561.4 442.25Z M568.6 442.25 L571.1 437.4 L578.3 437.4 L580.8 442.25 L578.3 447.1 L571.1 447.1Z M549.2 442.25 L551.7 437.4 L558.9 437.4 L561.4 442.25 L558.9 447.1 L551.7 447.1Z M558.9 447.1 L561.4 442.25 L568.6 442.25 L571.1 447.1 L568.6 451.95 L561.4 451.95Z M568.6 451.95 L571.1 447.1 L578.3 447.1 L580.8 451.95 L578.3 456.8 L571.1 456.8Z M549.2 451.95 L551.7 447.1 L558.9 447.1 L561.4 451.95 L558.9 456.8 L551.7 456.8Z M558.9 456.8 L561.4 451.95 L568.6 451.95 L571.1 456.8 L568.6 461.65 L561.4 461.65Z M568.6 461.65 L571.1 456.8 L578.3 456.8 L580.8 461.65 L578.3 466.5 L571.1 466.5Z M549.2 461.65 L551.7 456.8 L558.9 456.8 L561.4 461.65 L558.9 466.5 L551.7 466.5Z" fill="none" stroke="#eeeeee" stroke-width="1.3"/></g><rect x="575.3" y="412.6" width="1" height="43.2" fill="#b0b0b0"/><rect x="556" y="456.2" width="19.2" height="4.8" fill="#fafafa"/><path d="M552.4 477.8 L577.3 477.8 L577.3 480.4 L554.9 480.4 Z" fill="#050505"/><rect x="547.9" y="480.4" width="29.8" height="4.2" fill="#d6d6d6"/><rect x="551" y="485.2" width="26" height="13.2" rx="1.2" fill="#ededed" stroke="#b0b0b0" stroke-width="0.7"/><text x="551.7" y="488.9" font-family="Liberation Sans" font-weight="bold" font-size="4.2" fill="#2f4c5c" stroke="#1e3a4a" stroke-width="0.45" textLength="24.6" lengthAdjust="spacingAndGlyphs">SAS2 900GB</text><text x="576.7" y="492.8" font-family="Liberation Sans" font-weight="bold" font-size="4.2" fill="#2f4c5c" stroke="#1e3a4a" stroke-width="0.45" text-anchor="end" textLength="14" lengthAdjust="spacingAndGlyphs">10K RPM</text><text x="576.9" y="497" font-family="Liberation Sans" font-weight="bold" font-size="4.2" fill="#2f4c5c" stroke="#1e3a4a" stroke-width="0.45" text-anchor="end" textLength="11.2" lengthAdjust="spacingAndGlyphs">6Gbps</text><rect x="547.9" y="499.8" width="29.8" height="1.4" fill="#8e8e8e"/><rect x="553.6" y="502.4" width="3.7" height="2.7" fill="#a4a4a4" stroke="#707070" stroke-width="0.4"/><rect x="570.7" y="500.6" width="8" height="7" fill="url(#yglowG)"/><rect x="571.3" y="502.4" width="4.2" height="3" fill="#d2e040" stroke="#8a9a30" stroke-width="0.4"/><path d="M555.8 507.2 L558.8 511.5 L552.8 511.5 Z" fill="none" stroke="#2f4c5c" stroke-width="0.8" stroke-linejoin="miter"/><line x1="555.8" y1="508.58" x2="555.8" y2="510.3" stroke="#2f4c5c" stroke-width="0.72"/><rect x="555.44" y="510.55" width="0.72" height="0.72" fill="#2f4c5c"/><rect x="571.3" y="507.6" width="4.6" height="3.9" fill="none" stroke="#2f4c5c" stroke-width="0.8"/><rect x="572.1" y="508.6" width="3" height="1.9" fill="#2f4c5c" opacity="0.6"/><rect x="577.2" y="348.5" width="2.2" height="167.1" fill="#0a0a0a"/><rect x="579.4" y="348.5" width="1.5" height="166.5" fill="#f4f4f4"/><rect x="580.9" y="348.5" width="1.9" height="167.1" fill="#0a0a0a"/><rect x="581.9" y="349" width="29.8" height="166" fill="#e3e3e3"/><rect x="581.9" y="349" width="1" height="166" fill="#8a8a8a"/><rect x="582.9" y="349" width="1.6" height="166" fill="#f2f2f2"/><rect x="582.3" y="349" width="29.2" height="1" fill="#f6f6f6"/><path d="M588.5 371.6 L611.7 371.6 L611.7 380.6 L602.5 380.6 L601.1 378.8 L588.5 378.8 Z" fill="#050505"/><rect x="591.7" y="373.9" width="12.5" height="4.6" fill="url(#shG)"/><rect x="588.5" y="365.1" width="21.9" height="7.1" rx="1.8" fill="url(#tabE)"/><rect x="591.1" y="365.7" width="17.6" height="5.2" rx="1" fill="url(#tabG)"/><path d="M597.5 367.4 L601.3 367.4 L599.4 370.2 Z" fill="none" stroke="#444" stroke-width="0.55"/><rect x="588.3" y="400.1" width="22.4" height="6.5" rx="2" fill="#4e4e4e"/><rect x="589.9" y="401.5" width="17.4" height="3.6" rx="1.2" fill="url(#barG)"/><path d="M586.7 406.8 L611.7 406.8 L611.7 461 L586.7 461 Z" fill="#030303"/><path d="M586.7 406.8 L591.1 406.8 L586.7 409.6 Z" fill="#d0d0d0"/><clipPath id="hc5993"><rect x="589.7" y="412.6" width="20.2" height="43.2"/></clipPath><g clip-path="url(#hc5993)"><path d="M599.2 413.2 l3.2 0 l1.6 2.6 l-1.6 2.6 l-3.2 0 z" fill="#7a7a7a" opacity="0.85"/><path d="M599.2 432.6 l3.2 0 l1.6 2.6 l-1.6 2.6 l-3.2 0 z" fill="#7a7a7a" opacity="0.85"/><path d="M606 418 l3.2 0 l1.6 2.6 l-1.6 2.6 l-3.2 0 z" fill="#7a7a7a" opacity="0.85"/><path d="M606 437.4 l3.2 0 l1.6 2.6 l-1.6 2.6 l-3.2 0 z" fill="#7a7a7a" opacity="0.85"/><path d="M606 456.8 l3.2 0 l1.6 2.6 l-1.6 2.6 l-3.2 0 z" fill="#7a7a7a" opacity="0.85"/><path d="M590.2 418 l3.2 0 l1.6 2.6 l-1.6 2.6 l-3.2 0 z" fill="#7a7a7a" opacity="0.85"/><path d="M590.2 437.4 l3.2 0 l1.6 2.6 l-1.6 2.6 l-3.2 0 z" fill="#7a7a7a" opacity="0.85"/><path d="M593.3 408.3 L595.8 403.45 L603 403.45 L605.5 408.3 L603 413.15 L595.8 413.15Z M603 413.15 L605.5 408.3 L612.7 408.3 L615.2 413.15 L612.7 418 L605.5 418Z M583.6 413.15 L586.1 408.3 L593.3 408.3 L595.8 413.15 L593.3 418 L586.1 418Z M593.3 418 L595.8 413.15 L603 413.15 L605.5 418 L603 422.85 L595.8 422.85Z M603 422.85 L605.5 418 L612.7 418 L615.2 422.85 L612.7 427.7 L605.5 427.7Z M583.6 422.85 L586.1 418 L593.3 418 L595.8 422.85 L593.3 427.7 L586.1 427.7Z M593.3 427.7 L595.8 422.85 L603 422.85 L605.5 427.7 L603 432.55 L595.8 432.55Z M603 432.55 L605.5 427.7 L612.7 427.7 L615.2 432.55 L612.7 437.4 L605.5 437.4Z M583.6 432.55 L586.1 427.7 L593.3 427.7 L595.8 432.55 L593.3 437.4 L586.1 437.4Z M593.3 437.4 L595.8 432.55 L603 432.55 L605.5 437.4 L603 442.25 L595.8 442.25Z M603 442.25 L605.5 437.4 L612.7 437.4 L615.2 442.25 L612.7 447.1 L605.5 447.1Z M583.6 442.25 L586.1 437.4 L593.3 437.4 L595.8 442.25 L593.3 447.1 L586.1 447.1Z M593.3 447.1 L595.8 442.25 L603 442.25 L605.5 447.1 L603 451.95 L595.8 451.95Z M603 451.95 L605.5 447.1 L612.7 447.1 L615.2 451.95 L612.7 456.8 L605.5 456.8Z M583.6 451.95 L586.1 447.1 L593.3 447.1 L595.8 451.95 L593.3 456.8 L586.1 456.8Z M593.3 456.8 L595.8 451.95 L603 451.95 L605.5 456.8 L603 461.65 L595.8 461.65Z M603 461.65 L605.5 456.8 L612.7 456.8 L615.2 461.65 L612.7 466.5 L605.5 466.5Z M583.6 461.65 L586.1 456.8 L593.3 456.8 L595.8 461.65 L593.3 466.5 L586.1 466.5Z" fill="none" stroke="#eeeeee" stroke-width="1.3"/></g><rect x="609.7" y="412.6" width="1" height="43.2" fill="#b0b0b0"/><rect x="590.4" y="456.2" width="19.2" height="4.8" fill="#fafafa"/><path d="M586.8 477.8 L611.7 477.8 L611.7 480.4 L589.3 480.4 Z" fill="#050505"/><rect x="582.3" y="480.4" width="29.8" height="4.2" fill="#d6d6d6"/><rect x="585.4" y="485.2" width="26" height="13.2" rx="1.2" fill="#ededed" stroke="#b0b0b0" stroke-width="0.7"/><text x="586.1" y="488.9" font-family="Liberation Sans" font-weight="bold" font-size="4.2" fill="#2f4c5c" stroke="#1e3a4a" stroke-width="0.45" textLength="24.6" lengthAdjust="spacingAndGlyphs">SAS2 900GB</text><text x="611.1" y="492.8" font-family="Liberation Sans" font-weight="bold" font-size="4.2" fill="#2f4c5c" stroke="#1e3a4a" stroke-width="0.45" text-anchor="end" textLength="14" lengthAdjust="spacingAndGlyphs">10K RPM</text><text x="611.3" y="497" font-family="Liberation Sans" font-weight="bold" font-size="4.2" fill="#2f4c5c" stroke="#1e3a4a" stroke-width="0.45" text-anchor="end" textLength="11.2" lengthAdjust="spacingAndGlyphs">6Gbps</text><rect x="582.3" y="499.8" width="29.8" height="1.4" fill="#8e8e8e"/><rect x="588" y="502.4" width="3.7" height="2.7" fill="#a4a4a4" stroke="#707070" stroke-width="0.4"/><rect x="605.1" y="500.6" width="8" height="7" fill="url(#yglowG)"/><rect x="605.7" y="502.4" width="4.2" height="3" fill="#d2e040" stroke="#8a9a30" stroke-width="0.4"/><path d="M590.2 507.2 L593.2 511.5 L587.2 511.5 Z" fill="none" stroke="#2f4c5c" stroke-width="0.8" stroke-linejoin="miter"/><line x1="590.2" y1="508.58" x2="590.2" y2="510.3" stroke="#2f4c5c" stroke-width="0.72"/><rect x="589.84" y="510.55" width="0.72" height="0.72" fill="#2f4c5c"/><rect x="605.7" y="507.6" width="4.6" height="3.9" fill="none" stroke="#2f4c5c" stroke-width="0.8"/><rect x="606.5" y="508.6" width="3" height="1.9" fill="#2f4c5c" opacity="0.6"/><rect x="611.6" y="348.5" width="2.2" height="167.1" fill="#0a0a0a"/><rect x="613.8" y="348.5" width="1.5" height="166.5" fill="#f4f4f4"/><rect x="615.3" y="348.5" width="1.9" height="167.1" fill="#0a0a0a"/><rect x="616.3" y="349" width="29.8" height="166" fill="#e3e3e3"/><rect x="616.3" y="349" width="1" height="166" fill="#8a8a8a"/><rect x="617.3" y="349" width="1.6" height="166" fill="#f2f2f2"/><rect x="616.7" y="349" width="29.2" height="1" fill="#f6f6f6"/><path d="M622.9 371.6 L646.1 371.6 L646.1 380.6 L636.9 380.6 L635.5 378.8 L622.9 378.8 Z" fill="#050505"/><rect x="626.1" y="373.9" width="12.5" height="4.6" fill="url(#shG)"/><rect x="622.9" y="365.1" width="21.9" height="7.1" rx="1.8" fill="url(#tabE)"/><rect x="625.5" y="365.7" width="17.6" height="5.2" rx="1" fill="url(#tabG)"/><path d="M631.9 367.4 L635.7 367.4 L633.8 370.2 Z" fill="none" stroke="#444" stroke-width="0.55"/><rect x="622.7" y="400.1" width="22.4" height="6.5" rx="2" fill="#4e4e4e"/><rect x="624.3" y="401.5" width="17.4" height="3.6" rx="1.2" fill="url(#barG)"/><path d="M621.1 406.8 L646.1 406.8 L646.1 461 L621.1 461 Z" fill="#030303"/><path d="M621.1 406.8 L625.5 406.8 L621.1 409.6 Z" fill="#d0d0d0"/><clipPath id="hc6337"><rect x="624.1" y="412.6" width="20.2" height="43.2"/></clipPath><g clip-path="url(#hc6337)"><path d="M633.6 413.2 l3.2 0 l1.6 2.6 l-1.6 2.6 l-3.2 0 z" fill="#7a7a7a" opacity="0.85"/><path d="M633.6 432.6 l3.2 0 l1.6 2.6 l-1.6 2.6 l-3.2 0 z" fill="#7a7a7a" opacity="0.85"/><path d="M640.4 418 l3.2 0 l1.6 2.6 l-1.6 2.6 l-3.2 0 z" fill="#7a7a7a" opacity="0.85"/><path d="M640.4 437.4 l3.2 0 l1.6 2.6 l-1.6 2.6 l-3.2 0 z" fill="#7a7a7a" opacity="0.85"/><path d="M640.4 456.8 l3.2 0 l1.6 2.6 l-1.6 2.6 l-3.2 0 z" fill="#7a7a7a" opacity="0.85"/><path d="M624.6 418 l3.2 0 l1.6 2.6 l-1.6 2.6 l-3.2 0 z" fill="#7a7a7a" opacity="0.85"/><path d="M624.6 437.4 l3.2 0 l1.6 2.6 l-1.6 2.6 l-3.2 0 z" fill="#7a7a7a" opacity="0.85"/><path d="M627.7 408.3 L630.2 403.45 L637.4 403.45 L639.9 408.3 L637.4 413.15 L630.2 413.15Z M637.4 413.15 L639.9 408.3 L647.1 408.3 L649.6 413.15 L647.1 418 L639.9 418Z M618 413.15 L620.5 408.3 L627.7 408.3 L630.2 413.15 L627.7 418 L620.5 418Z M627.7 418 L630.2 413.15 L637.4 413.15 L639.9 418 L637.4 422.85 L630.2 422.85Z M637.4 422.85 L639.9 418 L647.1 418 L649.6 422.85 L647.1 427.7 L639.9 427.7Z M618 422.85 L620.5 418 L627.7 418 L630.2 422.85 L627.7 427.7 L620.5 427.7Z M627.7 427.7 L630.2 422.85 L637.4 422.85 L639.9 427.7 L637.4 432.55 L630.2 432.55Z M637.4 432.55 L639.9 427.7 L647.1 427.7 L649.6 432.55 L647.1 437.4 L639.9 437.4Z M618 432.55 L620.5 427.7 L627.7 427.7 L630.2 432.55 L627.7 437.4 L620.5 437.4Z M627.7 437.4 L630.2 432.55 L637.4 432.55 L639.9 437.4 L637.4 442.25 L630.2 442.25Z M637.4 442.25 L639.9 437.4 L647.1 437.4 L649.6 442.25 L647.1 447.1 L639.9 447.1Z M618 442.25 L620.5 437.4 L627.7 437.4 L630.2 442.25 L627.7 447.1 L620.5 447.1Z M627.7 447.1 L630.2 442.25 L637.4 442.25 L639.9 447.1 L637.4 451.95 L630.2 451.95Z M637.4 451.95 L639.9 447.1 L647.1 447.1 L649.6 451.95 L647.1 456.8 L639.9 456.8Z M618 451.95 L620.5 447.1 L627.7 447.1 L630.2 451.95 L627.7 456.8 L620.5 456.8Z M627.7 456.8 L630.2 451.95 L637.4 451.95 L639.9 456.8 L637.4 461.65 L630.2 461.65Z M637.4 461.65 L639.9 456.8 L647.1 456.8 L649.6 461.65 L647.1 466.5 L639.9 466.5Z M618 461.65 L620.5 456.8 L627.7 456.8 L630.2 461.65 L627.7 466.5 L620.5 466.5Z" fill="none" stroke="#eeeeee" stroke-width="1.3"/></g><rect x="644.1" y="412.6" width="1" height="43.2" fill="#b0b0b0"/><rect x="624.8" y="456.2" width="19.2" height="4.8" fill="#fafafa"/><path d="M621.2 477.8 L646.1 477.8 L646.1 480.4 L623.7 480.4 Z" fill="#050505"/><rect x="616.7" y="480.4" width="29.8" height="4.2" fill="#d6d6d6"/><rect x="619.8" y="485.2" width="26" height="13.2" rx="1.2" fill="#ededed" stroke="#b0b0b0" stroke-width="0.7"/><text x="620.5" y="488.9" font-family="Liberation Sans" font-weight="bold" font-size="4.2" fill="#2f4c5c" stroke="#1e3a4a" stroke-width="0.45" textLength="24.6" lengthAdjust="spacingAndGlyphs">SAS2 900GB</text><text x="645.5" y="492.8" font-family="Liberation Sans" font-weight="bold" font-size="4.2" fill="#2f4c5c" stroke="#1e3a4a" stroke-width="0.45" text-anchor="end" textLength="14" lengthAdjust="spacingAndGlyphs">10K RPM</text><text x="645.7" y="497" font-family="Liberation Sans" font-weight="bold" font-size="4.2" fill="#2f4c5c" stroke="#1e3a4a" stroke-width="0.45" text-anchor="end" textLength="11.2" lengthAdjust="spacingAndGlyphs">6Gbps</text><rect x="616.7" y="499.8" width="29.8" height="1.4" fill="#8e8e8e"/><rect x="622.4" y="502.4" width="3.7" height="2.7" fill="#a4a4a4" stroke="#707070" stroke-width="0.4"/><rect x="639.5" y="500.6" width="8" height="7" fill="url(#yglowG)"/><rect x="640.1" y="502.4" width="4.2" height="3" fill="#d2e040" stroke="#8a9a30" stroke-width="0.4"/><path d="M624.6 507.2 L627.6 511.5 L621.6 511.5 Z" fill="none" stroke="#2f4c5c" stroke-width="0.8" stroke-linejoin="miter"/><line x1="624.6" y1="508.58" x2="624.6" y2="510.3" stroke="#2f4c5c" stroke-width="0.72"/><rect x="624.24" y="510.55" width="0.72" height="0.72" fill="#2f4c5c"/><rect x="640.1" y="507.6" width="4.6" height="3.9" fill="none" stroke="#2f4c5c" stroke-width="0.8"/><rect x="640.9" y="508.6" width="3" height="1.9" fill="#2f4c5c" opacity="0.6"/><rect x="646" y="348.5" width="2.2" height="167.1" fill="#0a0a0a"/><rect x="648.2" y="348.5" width="1.5" height="166.5" fill="#f4f4f4"/><rect x="649.7" y="348.5" width="1.9" height="167.1" fill="#0a0a0a"/><rect x="650.7" y="349" width="29.8" height="166" fill="#e3e3e3"/><rect x="650.7" y="349" width="1" height="166" fill="#8a8a8a"/><rect x="651.7" y="349" width="1.6" height="166" fill="#f2f2f2"/><rect x="651.1" y="349" width="29.2" height="1" fill="#f6f6f6"/><path d="M657.3 371.6 L680.5 371.6 L680.5 380.6 L671.3 380.6 L669.9 378.8 L657.3 378.8 Z" fill="#050505"/><rect x="660.5" y="373.9" width="12.5" height="4.6" fill="url(#shG)"/><rect x="657.3" y="365.1" width="21.9" height="7.1" rx="1.8" fill="url(#tabE)"/><rect x="659.9" y="365.7" width="17.6" height="5.2" rx="1" fill="url(#tabG)"/><path d="M666.3 367.4 L670.1 367.4 L668.2 370.2 Z" fill="none" stroke="#444" stroke-width="0.55"/><rect x="657.1" y="400.1" width="22.4" height="6.5" rx="2" fill="#4e4e4e"/><rect x="658.7" y="401.5" width="17.4" height="3.6" rx="1.2" fill="url(#barG)"/><path d="M655.5 406.8 L680.5 406.8 L680.5 461 L655.5 461 Z" fill="#030303"/><path d="M655.5 406.8 L659.9 406.8 L655.5 409.6 Z" fill="#d0d0d0"/><clipPath id="hc6681"><rect x="658.5" y="412.6" width="20.2" height="43.2"/></clipPath><g clip-path="url(#hc6681)"><path d="M668 413.2 l3.2 0 l1.6 2.6 l-1.6 2.6 l-3.2 0 z" fill="#7a7a7a" opacity="0.85"/><path d="M668 432.6 l3.2 0 l1.6 2.6 l-1.6 2.6 l-3.2 0 z" fill="#7a7a7a" opacity="0.85"/><path d="M674.8 418 l3.2 0 l1.6 2.6 l-1.6 2.6 l-3.2 0 z" fill="#7a7a7a" opacity="0.85"/><path d="M674.8 437.4 l3.2 0 l1.6 2.6 l-1.6 2.6 l-3.2 0 z" fill="#7a7a7a" opacity="0.85"/><path d="M674.8 456.8 l3.2 0 l1.6 2.6 l-1.6 2.6 l-3.2 0 z" fill="#7a7a7a" opacity="0.85"/><path d="M659 418 l3.2 0 l1.6 2.6 l-1.6 2.6 l-3.2 0 z" fill="#7a7a7a" opacity="0.85"/><path d="M659 437.4 l3.2 0 l1.6 2.6 l-1.6 2.6 l-3.2 0 z" fill="#7a7a7a" opacity="0.85"/><path d="M662.1 408.3 L664.6 403.45 L671.8 403.45 L674.3 408.3 L671.8 413.15 L664.6 413.15Z M671.8 413.15 L674.3 408.3 L681.5 408.3 L684 413.15 L681.5 418 L674.3 418Z M652.4 413.15 L654.9 408.3 L662.1 408.3 L664.6 413.15 L662.1 418 L654.9 418Z M662.1 418 L664.6 413.15 L671.8 413.15 L674.3 418 L671.8 422.85 L664.6 422.85Z M671.8 422.85 L674.3 418 L681.5 418 L684 422.85 L681.5 427.7 L674.3 427.7Z M652.4 422.85 L654.9 418 L662.1 418 L664.6 422.85 L662.1 427.7 L654.9 427.7Z M662.1 427.7 L664.6 422.85 L671.8 422.85 L674.3 427.7 L671.8 432.55 L664.6 432.55Z M671.8 432.55 L674.3 427.7 L681.5 427.7 L684 432.55 L681.5 437.4 L674.3 437.4Z M652.4 432.55 L654.9 427.7 L662.1 427.7 L664.6 432.55 L662.1 437.4 L654.9 437.4Z M662.1 437.4 L664.6 432.55 L671.8 432.55 L674.3 437.4 L671.8 442.25 L664.6 442.25Z M671.8 442.25 L674.3 437.4 L681.5 437.4 L684 442.25 L681.5 447.1 L674.3 447.1Z M652.4 442.25 L654.9 437.4 L662.1 437.4 L664.6 442.25 L662.1 447.1 L654.9 447.1Z M662.1 447.1 L664.6 442.25 L671.8 442.25 L674.3 447.1 L671.8 451.95 L664.6 451.95Z M671.8 451.95 L674.3 447.1 L681.5 447.1 L684 451.95 L681.5 456.8 L674.3 456.8Z M652.4 451.95 L654.9 447.1 L662.1 447.1 L664.6 451.95 L662.1 456.8 L654.9 456.8Z M662.1 456.8 L664.6 451.95 L671.8 451.95 L674.3 456.8 L671.8 461.65 L664.6 461.65Z M671.8 461.65 L674.3 456.8 L681.5 456.8 L684 461.65 L681.5 466.5 L674.3 466.5Z M652.4 461.65 L654.9 456.8 L662.1 456.8 L664.6 461.65 L662.1 466.5 L654.9 466.5Z" fill="none" stroke="#eeeeee" stroke-width="1.3"/></g><rect x="678.5" y="412.6" width="1" height="43.2" fill="#b0b0b0"/><rect x="659.2" y="456.2" width="19.2" height="4.8" fill="#fafafa"/><path d="M655.6 477.8 L680.5 477.8 L680.5 480.4 L658.1 480.4 Z" fill="#050505"/><rect x="651.1" y="480.4" width="29.8" height="4.2" fill="#d6d6d6"/><rect x="654.2" y="485.2" width="26" height="13.2" rx="1.2" fill="#ededed" stroke="#b0b0b0" stroke-width="0.7"/><text x="654.9" y="488.9" font-family="Liberation Sans" font-weight="bold" font-size="4.2" fill="#2f4c5c" stroke="#1e3a4a" stroke-width="0.45" textLength="24.6" lengthAdjust="spacingAndGlyphs">SAS2 900GB</text><text x="679.9" y="492.8" font-family="Liberation Sans" font-weight="bold" font-size="4.2" fill="#2f4c5c" stroke="#1e3a4a" stroke-width="0.45" text-anchor="end" textLength="14" lengthAdjust="spacingAndGlyphs">10K RPM</text><text x="680.1" y="497" font-family="Liberation Sans" font-weight="bold" font-size="4.2" fill="#2f4c5c" stroke="#1e3a4a" stroke-width="0.45" text-anchor="end" textLength="11.2" lengthAdjust="spacingAndGlyphs">6Gbps</text><rect x="651.1" y="499.8" width="29.8" height="1.4" fill="#8e8e8e"/><rect x="656.8" y="502.4" width="3.7" height="2.7" fill="#a4a4a4" stroke="#707070" stroke-width="0.4"/><rect x="673.9" y="500.6" width="8" height="7" fill="url(#yglowG)"/><rect x="674.5" y="502.4" width="4.2" height="3" fill="#d2e040" stroke="#8a9a30" stroke-width="0.4"/><path d="M659 507.2 L662 511.5 L656 511.5 Z" fill="none" stroke="#2f4c5c" stroke-width="0.8" stroke-linejoin="miter"/><line x1="659" y1="508.58" x2="659" y2="510.3" stroke="#2f4c5c" stroke-width="0.72"/><rect x="658.64" y="510.55" width="0.72" height="0.72" fill="#2f4c5c"/><rect x="674.5" y="507.6" width="4.6" height="3.9" fill="none" stroke="#2f4c5c" stroke-width="0.8"/><rect x="675.3" y="508.6" width="3" height="1.9" fill="#2f4c5c" opacity="0.6"/><rect x="680.4" y="348.5" width="2.2" height="167.1" fill="#0a0a0a"/><rect x="682.6" y="348.5" width="1.5" height="166.5" fill="#f4f4f4"/><rect x="684.1" y="348.5" width="1.9" height="167.1" fill="#0a0a0a"/><rect x="685.1" y="349" width="29.8" height="166" fill="#e3e3e3"/><rect x="685.1" y="349" width="1" height="166" fill="#8a8a8a"/><rect x="686.1" y="349" width="1.6" height="166" fill="#f2f2f2"/><rect x="685.5" y="349" width="29.2" height="1" fill="#f6f6f6"/><path d="M691.7 371.6 L714.9 371.6 L714.9 380.6 L705.7 380.6 L704.3 378.8 L691.7 378.8 Z" fill="#050505"/><rect x="694.9" y="373.9" width="12.5" height="4.6" fill="url(#shG)"/><rect x="691.7" y="365.1" width="21.9" height="7.1" rx="1.8" fill="url(#tabE)"/><rect x="694.3" y="365.7" width="17.6" height="5.2" rx="1" fill="url(#tabG)"/><path d="M700.7 367.4 L704.5 367.4 L702.6 370.2 Z" fill="none" stroke="#444" stroke-width="0.55"/><rect x="691.5" y="400.1" width="22.4" height="6.5" rx="2" fill="#4e4e4e"/><rect x="693.1" y="401.5" width="17.4" height="3.6" rx="1.2" fill="url(#barG)"/><path d="M689.9 406.8 L714.9 406.8 L714.9 461 L689.9 461 Z" fill="#030303"/><path d="M689.9 406.8 L694.3 406.8 L689.9 409.6 Z" fill="#d0d0d0"/><clipPath id="hc7025"><rect x="692.9" y="412.6" width="20.2" height="43.2"/></clipPath><g clip-path="url(#hc7025)"><path d="M702.4 413.2 l3.2 0 l1.6 2.6 l-1.6 2.6 l-3.2 0 z" fill="#7a7a7a" opacity="0.85"/><path d="M702.4 432.6 l3.2 0 l1.6 2.6 l-1.6 2.6 l-3.2 0 z" fill="#7a7a7a" opacity="0.85"/><path d="M709.2 418 l3.2 0 l1.6 2.6 l-1.6 2.6 l-3.2 0 z" fill="#7a7a7a" opacity="0.85"/><path d="M709.2 437.4 l3.2 0 l1.6 2.6 l-1.6 2.6 l-3.2 0 z" fill="#7a7a7a" opacity="0.85"/><path d="M709.2 456.8 l3.2 0 l1.6 2.6 l-1.6 2.6 l-3.2 0 z" fill="#7a7a7a" opacity="0.85"/><path d="M693.4 418 l3.2 0 l1.6 2.6 l-1.6 2.6 l-3.2 0 z" fill="#7a7a7a" opacity="0.85"/><path d="M693.4 437.4 l3.2 0 l1.6 2.6 l-1.6 2.6 l-3.2 0 z" fill="#7a7a7a" opacity="0.85"/><path d="M696.5 408.3 L699 403.45 L706.2 403.45 L708.7 408.3 L706.2 413.15 L699 413.15Z M706.2 413.15 L708.7 408.3 L715.9 408.3 L718.4 413.15 L715.9 418 L708.7 418Z M686.8 413.15 L689.3 408.3 L696.5 408.3 L699 413.15 L696.5 418 L689.3 418Z M696.5 418 L699 413.15 L706.2 413.15 L708.7 418 L706.2 422.85 L699 422.85Z M706.2 422.85 L708.7 418 L715.9 418 L718.4 422.85 L715.9 427.7 L708.7 427.7Z M686.8 422.85 L689.3 418 L696.5 418 L699 422.85 L696.5 427.7 L689.3 427.7Z M696.5 427.7 L699 422.85 L706.2 422.85 L708.7 427.7 L706.2 432.55 L699 432.55Z M706.2 432.55 L708.7 427.7 L715.9 427.7 L718.4 432.55 L715.9 437.4 L708.7 437.4Z M686.8 432.55 L689.3 427.7 L696.5 427.7 L699 432.55 L696.5 437.4 L689.3 437.4Z M696.5 437.4 L699 432.55 L706.2 432.55 L708.7 437.4 L706.2 442.25 L699 442.25Z M706.2 442.25 L708.7 437.4 L715.9 437.4 L718.4 442.25 L715.9 447.1 L708.7 447.1Z M686.8 442.25 L689.3 437.4 L696.5 437.4 L699 442.25 L696.5 447.1 L689.3 447.1Z M696.5 447.1 L699 442.25 L706.2 442.25 L708.7 447.1 L706.2 451.95 L699 451.95Z M706.2 451.95 L708.7 447.1 L715.9 447.1 L718.4 451.95 L715.9 456.8 L708.7 456.8Z M686.8 451.95 L689.3 447.1 L696.5 447.1 L699 451.95 L696.5 456.8 L689.3 456.8Z M696.5 456.8 L699 451.95 L706.2 451.95 L708.7 456.8 L706.2 461.65 L699 461.65Z M706.2 461.65 L708.7 456.8 L715.9 456.8 L718.4 461.65 L715.9 466.5 L708.7 466.5Z M686.8 461.65 L689.3 456.8 L696.5 456.8 L699 461.65 L696.5 466.5 L689.3 466.5Z" fill="none" stroke="#eeeeee" stroke-width="1.3"/></g><rect x="712.9" y="412.6" width="1" height="43.2" fill="#b0b0b0"/><rect x="693.6" y="456.2" width="19.2" height="4.8" fill="#fafafa"/><path d="M690 477.8 L714.9 477.8 L714.9 480.4 L692.5 480.4 Z" fill="#050505"/><rect x="685.5" y="480.4" width="29.8" height="4.2" fill="#d6d6d6"/><rect x="688.6" y="485.2" width="26" height="13.2" rx="1.2" fill="#ededed" stroke="#b0b0b0" stroke-width="0.7"/><text x="689.3" y="488.9" font-family="Liberation Sans" font-weight="bold" font-size="4.2" fill="#2f4c5c" stroke="#1e3a4a" stroke-width="0.45" textLength="24.6" lengthAdjust="spacingAndGlyphs">SAS2 900GB</text><text x="714.3" y="492.8" font-family="Liberation Sans" font-weight="bold" font-size="4.2" fill="#2f4c5c" stroke="#1e3a4a" stroke-width="0.45" text-anchor="end" textLength="14" lengthAdjust="spacingAndGlyphs">10K RPM</text><text x="714.5" y="497" font-family="Liberation Sans" font-weight="bold" font-size="4.2" fill="#2f4c5c" stroke="#1e3a4a" stroke-width="0.45" text-anchor="end" textLength="11.2" lengthAdjust="spacingAndGlyphs">6Gbps</text><rect x="685.5" y="499.8" width="29.8" height="1.4" fill="#8e8e8e"/><rect x="691.2" y="502.4" width="3.7" height="2.7" fill="#a4a4a4" stroke="#707070" stroke-width="0.4"/><rect x="708.3" y="500.6" width="8" height="7" fill="url(#yglowG)"/><rect x="708.9" y="502.4" width="4.2" height="3" fill="#d2e040" stroke="#8a9a30" stroke-width="0.4"/><path d="M693.4 507.2 L696.4 511.5 L690.4 511.5 Z" fill="none" stroke="#2f4c5c" stroke-width="0.8" stroke-linejoin="miter"/><line x1="693.4" y1="508.58" x2="693.4" y2="510.3" stroke="#2f4c5c" stroke-width="0.72"/><rect x="693.04" y="510.55" width="0.72" height="0.72" fill="#2f4c5c"/><rect x="708.9" y="507.6" width="4.6" height="3.9" fill="none" stroke="#2f4c5c" stroke-width="0.8"/><rect x="709.7" y="508.6" width="3" height="1.9" fill="#2f4c5c" opacity="0.6"/><rect x="714.8" y="348.5" width="2.2" height="167.1" fill="#0a0a0a"/><rect x="717" y="348.5" width="1.5" height="166.5" fill="#f4f4f4"/><rect x="718.5" y="348.5" width="1.9" height="167.1" fill="#0a0a0a"/><rect x="719.5" y="349" width="29.8" height="166" fill="#e3e3e3"/><rect x="719.5" y="349" width="1" height="166" fill="#8a8a8a"/><rect x="720.5" y="349" width="1.6" height="166" fill="#f2f2f2"/><rect x="719.9" y="349" width="29.2" height="1" fill="#f6f6f6"/><path d="M726.1 371.6 L749.3 371.6 L749.3 380.6 L740.1 380.6 L738.7 378.8 L726.1 378.8 Z" fill="#050505"/><rect x="729.3" y="373.9" width="12.5" height="4.6" fill="url(#shG)"/><rect x="726.1" y="365.1" width="21.9" height="7.1" rx="1.8" fill="url(#tabE)"/><rect x="728.7" y="365.7" width="17.6" height="5.2" rx="1" fill="url(#tabG)"/><path d="M735.1 367.4 L738.9 367.4 L737 370.2 Z" fill="none" stroke="#444" stroke-width="0.55"/><rect x="725.9" y="400.1" width="22.4" height="6.5" rx="2" fill="#4e4e4e"/><rect x="727.5" y="401.5" width="17.4" height="3.6" rx="1.2" fill="url(#barG)"/><path d="M724.3 406.8 L749.3 406.8 L749.3 461 L724.3 461 Z" fill="#030303"/><path d="M724.3 406.8 L728.7 406.8 L724.3 409.6 Z" fill="#d0d0d0"/><clipPath id="hc7369"><rect x="727.3" y="412.6" width="20.2" height="43.2"/></clipPath><g clip-path="url(#hc7369)"><path d="M736.8 413.2 l3.2 0 l1.6 2.6 l-1.6 2.6 l-3.2 0 z" fill="#7a7a7a" opacity="0.85"/><path d="M736.8 432.6 l3.2 0 l1.6 2.6 l-1.6 2.6 l-3.2 0 z" fill="#7a7a7a" opacity="0.85"/><path d="M743.6 418 l3.2 0 l1.6 2.6 l-1.6 2.6 l-3.2 0 z" fill="#7a7a7a" opacity="0.85"/><path d="M743.6 437.4 l3.2 0 l1.6 2.6 l-1.6 2.6 l-3.2 0 z" fill="#7a7a7a" opacity="0.85"/><path d="M743.6 456.8 l3.2 0 l1.6 2.6 l-1.6 2.6 l-3.2 0 z" fill="#7a7a7a" opacity="0.85"/><path d="M727.8 418 l3.2 0 l1.6 2.6 l-1.6 2.6 l-3.2 0 z" fill="#7a7a7a" opacity="0.85"/><path d="M727.8 437.4 l3.2 0 l1.6 2.6 l-1.6 2.6 l-3.2 0 z" fill="#7a7a7a" opacity="0.85"/><path d="M730.9 408.3 L733.4 403.45 L740.6 403.45 L743.1 408.3 L740.6 413.15 L733.4 413.15Z M740.6 413.15 L743.1 408.3 L750.3 408.3 L752.8 413.15 L750.3 418 L743.1 418Z M721.2 413.15 L723.7 408.3 L730.9 408.3 L733.4 413.15 L730.9 418 L723.7 418Z M730.9 418 L733.4 413.15 L740.6 413.15 L743.1 418 L740.6 422.85 L733.4 422.85Z M740.6 422.85 L743.1 418 L750.3 418 L752.8 422.85 L750.3 427.7 L743.1 427.7Z M721.2 422.85 L723.7 418 L730.9 418 L733.4 422.85 L730.9 427.7 L723.7 427.7Z M730.9 427.7 L733.4 422.85 L740.6 422.85 L743.1 427.7 L740.6 432.55 L733.4 432.55Z M740.6 432.55 L743.1 427.7 L750.3 427.7 L752.8 432.55 L750.3 437.4 L743.1 437.4Z M721.2 432.55 L723.7 427.7 L730.9 427.7 L733.4 432.55 L730.9 437.4 L723.7 437.4Z M730.9 437.4 L733.4 432.55 L740.6 432.55 L743.1 437.4 L740.6 442.25 L733.4 442.25Z M740.6 442.25 L743.1 437.4 L750.3 437.4 L752.8 442.25 L750.3 447.1 L743.1 447.1Z M721.2 442.25 L723.7 437.4 L730.9 437.4 L733.4 442.25 L730.9 447.1 L723.7 447.1Z M730.9 447.1 L733.4 442.25 L740.6 442.25 L743.1 447.1 L740.6 451.95 L733.4 451.95Z M740.6 451.95 L743.1 447.1 L750.3 447.1 L752.8 451.95 L750.3 456.8 L743.1 456.8Z M721.2 451.95 L723.7 447.1 L730.9 447.1 L733.4 451.95 L730.9 456.8 L723.7 456.8Z M730.9 456.8 L733.4 451.95 L740.6 451.95 L743.1 456.8 L740.6 461.65 L733.4 461.65Z M740.6 461.65 L743.1 456.8 L750.3 456.8 L752.8 461.65 L750.3 466.5 L743.1 466.5Z M721.2 461.65 L723.7 456.8 L730.9 456.8 L733.4 461.65 L730.9 466.5 L723.7 466.5Z" fill="none" stroke="#eeeeee" stroke-width="1.3"/></g><rect x="747.3" y="412.6" width="1" height="43.2" fill="#b0b0b0"/><rect x="728" y="456.2" width="19.2" height="4.8" fill="#fafafa"/><path d="M724.4 477.8 L749.3 477.8 L749.3 480.4 L726.9 480.4 Z" fill="#050505"/><rect x="719.9" y="480.4" width="29.8" height="4.2" fill="#d6d6d6"/><rect x="723" y="485.2" width="26" height="13.2" rx="1.2" fill="#ededed" stroke="#b0b0b0" stroke-width="0.7"/><text x="723.7" y="488.9" font-family="Liberation Sans" font-weight="bold" font-size="4.2" fill="#2f4c5c" stroke="#1e3a4a" stroke-width="0.45" textLength="24.6" lengthAdjust="spacingAndGlyphs">SAS2 900GB</text><text x="748.7" y="492.8" font-family="Liberation Sans" font-weight="bold" font-size="4.2" fill="#2f4c5c" stroke="#1e3a4a" stroke-width="0.45" text-anchor="end" textLength="14" lengthAdjust="spacingAndGlyphs">10K RPM</text><text x="748.9" y="497" font-family="Liberation Sans" font-weight="bold" font-size="4.2" fill="#2f4c5c" stroke="#1e3a4a" stroke-width="0.45" text-anchor="end" textLength="11.2" lengthAdjust="spacingAndGlyphs">6Gbps</text><rect x="719.9" y="499.8" width="29.8" height="1.4" fill="#8e8e8e"/><rect x="725.6" y="502.4" width="3.7" height="2.7" fill="#a4a4a4" stroke="#707070" stroke-width="0.4"/><rect x="742.7" y="500.6" width="8" height="7" fill="url(#yglowG)"/><rect x="743.3" y="502.4" width="4.2" height="3" fill="#d2e040" stroke="#8a9a30" stroke-width="0.4"/><path d="M727.8 507.2 L730.8 511.5 L724.8 511.5 Z" fill="none" stroke="#2f4c5c" stroke-width="0.8" stroke-linejoin="miter"/><line x1="727.8" y1="508.58" x2="727.8" y2="510.3" stroke="#2f4c5c" stroke-width="0.72"/><rect x="727.44" y="510.55" width="0.72" height="0.72" fill="#2f4c5c"/><rect x="743.3" y="507.6" width="4.6" height="3.9" fill="none" stroke="#2f4c5c" stroke-width="0.8"/><rect x="744.1" y="508.6" width="3" height="1.9" fill="#2f4c5c" opacity="0.6"/><rect x="749.2" y="348.5" width="2.2" height="167.1" fill="#0a0a0a"/><rect x="751.4" y="348.5" width="1.5" height="166.5" fill="#f4f4f4"/><rect x="752.9" y="348.5" width="1.9" height="167.1" fill="#0a0a0a"/><rect x="753.9" y="349" width="29.8" height="166" fill="#e3e3e3"/><rect x="753.9" y="349" width="1" height="166" fill="#8a8a8a"/><rect x="754.9" y="349" width="1.6" height="166" fill="#f2f2f2"/><rect x="754.3" y="349" width="29.2" height="1" fill="#f6f6f6"/><path d="M760.5 371.6 L783.7 371.6 L783.7 380.6 L774.5 380.6 L773.1 378.8 L760.5 378.8 Z" fill="#050505"/><rect x="763.7" y="373.9" width="12.5" height="4.6" fill="url(#shG)"/><rect x="760.5" y="365.1" width="21.9" height="7.1" rx="1.8" fill="url(#tabE)"/><rect x="763.1" y="365.7" width="17.6" height="5.2" rx="1" fill="url(#tabG)"/><path d="M769.5 367.4 L773.3 367.4 L771.4 370.2 Z" fill="none" stroke="#444" stroke-width="0.55"/><rect x="760.3" y="400.1" width="22.4" height="6.5" rx="2" fill="#4e4e4e"/><rect x="761.9" y="401.5" width="17.4" height="3.6" rx="1.2" fill="url(#barG)"/><path d="M758.7 406.8 L783.7 406.8 L783.7 461 L758.7 461 Z" fill="#030303"/><path d="M758.7 406.8 L763.1 406.8 L758.7 409.6 Z" fill="#d0d0d0"/><clipPath id="hc7713"><rect x="761.7" y="412.6" width="20.2" height="43.2"/></clipPath><g clip-path="url(#hc7713)"><path d="M771.2 413.2 l3.2 0 l1.6 2.6 l-1.6 2.6 l-3.2 0 z" fill="#7a7a7a" opacity="0.85"/><path d="M771.2 432.6 l3.2 0 l1.6 2.6 l-1.6 2.6 l-3.2 0 z" fill="#7a7a7a" opacity="0.85"/><path d="M778 418 l3.2 0 l1.6 2.6 l-1.6 2.6 l-3.2 0 z" fill="#7a7a7a" opacity="0.85"/><path d="M778 437.4 l3.2 0 l1.6 2.6 l-1.6 2.6 l-3.2 0 z" fill="#7a7a7a" opacity="0.85"/><path d="M778 456.8 l3.2 0 l1.6 2.6 l-1.6 2.6 l-3.2 0 z" fill="#7a7a7a" opacity="0.85"/><path d="M762.2 418 l3.2 0 l1.6 2.6 l-1.6 2.6 l-3.2 0 z" fill="#7a7a7a" opacity="0.85"/><path d="M762.2 437.4 l3.2 0 l1.6 2.6 l-1.6 2.6 l-3.2 0 z" fill="#7a7a7a" opacity="0.85"/><path d="M765.3 408.3 L767.8 403.45 L775 403.45 L777.5 408.3 L775 413.15 L767.8 413.15Z M775 413.15 L777.5 408.3 L784.7 408.3 L787.2 413.15 L784.7 418 L777.5 418Z M755.6 413.15 L758.1 408.3 L765.3 408.3 L767.8 413.15 L765.3 418 L758.1 418Z M765.3 418 L767.8 413.15 L775 413.15 L777.5 418 L775 422.85 L767.8 422.85Z M775 422.85 L777.5 418 L784.7 418 L787.2 422.85 L784.7 427.7 L777.5 427.7Z M755.6 422.85 L758.1 418 L765.3 418 L767.8 422.85 L765.3 427.7 L758.1 427.7Z M765.3 427.7 L767.8 422.85 L775 422.85 L777.5 427.7 L775 432.55 L767.8 432.55Z M775 432.55 L777.5 427.7 L784.7 427.7 L787.2 432.55 L784.7 437.4 L777.5 437.4Z M755.6 432.55 L758.1 427.7 L765.3 427.7 L767.8 432.55 L765.3 437.4 L758.1 437.4Z M765.3 437.4 L767.8 432.55 L775 432.55 L777.5 437.4 L775 442.25 L767.8 442.25Z M775 442.25 L777.5 437.4 L784.7 437.4 L787.2 442.25 L784.7 447.1 L777.5 447.1Z M755.6 442.25 L758.1 437.4 L765.3 437.4 L767.8 442.25 L765.3 447.1 L758.1 447.1Z M765.3 447.1 L767.8 442.25 L775 442.25 L777.5 447.1 L775 451.95 L767.8 451.95Z M775 451.95 L777.5 447.1 L784.7 447.1 L787.2 451.95 L784.7 456.8 L777.5 456.8Z M755.6 451.95 L758.1 447.1 L765.3 447.1 L767.8 451.95 L765.3 456.8 L758.1 456.8Z M765.3 456.8 L767.8 451.95 L775 451.95 L777.5 456.8 L775 461.65 L767.8 461.65Z M775 461.65 L777.5 456.8 L784.7 456.8 L787.2 461.65 L784.7 466.5 L777.5 466.5Z M755.6 461.65 L758.1 456.8 L765.3 456.8 L767.8 461.65 L765.3 466.5 L758.1 466.5Z" fill="none" stroke="#eeeeee" stroke-width="1.3"/></g><rect x="781.7" y="412.6" width="1" height="43.2" fill="#b0b0b0"/><rect x="762.4" y="456.2" width="19.2" height="4.8" fill="#fafafa"/><path d="M758.8 477.8 L783.7 477.8 L783.7 480.4 L761.3 480.4 Z" fill="#050505"/><rect x="754.3" y="480.4" width="29.8" height="4.2" fill="#d6d6d6"/><rect x="757.4" y="485.2" width="26" height="13.2" rx="1.2" fill="#ededed" stroke="#b0b0b0" stroke-width="0.7"/><text x="758.1" y="488.9" font-family="Liberation Sans" font-weight="bold" font-size="4.2" fill="#2f4c5c" stroke="#1e3a4a" stroke-width="0.45" textLength="24.6" lengthAdjust="spacingAndGlyphs">SAS2 900GB</text><text x="783.1" y="492.8" font-family="Liberation Sans" font-weight="bold" font-size="4.2" fill="#2f4c5c" stroke="#1e3a4a" stroke-width="0.45" text-anchor="end" textLength="14" lengthAdjust="spacingAndGlyphs">10K RPM</text><text x="783.3" y="497" font-family="Liberation Sans" font-weight="bold" font-size="4.2" fill="#2f4c5c" stroke="#1e3a4a" stroke-width="0.45" text-anchor="end" textLength="11.2" lengthAdjust="spacingAndGlyphs">6Gbps</text><rect x="754.3" y="499.8" width="29.8" height="1.4" fill="#8e8e8e"/><rect x="760" y="502.4" width="3.7" height="2.7" fill="#a4a4a4" stroke="#707070" stroke-width="0.4"/><rect x="777.1" y="500.6" width="8" height="7" fill="url(#yglowG)"/><rect x="777.7" y="502.4" width="4.2" height="3" fill="#d2e040" stroke="#8a9a30" stroke-width="0.4"/><path d="M762.2 507.2 L765.2 511.5 L759.2 511.5 Z" fill="none" stroke="#2f4c5c" stroke-width="0.8" stroke-linejoin="miter"/><line x1="762.2" y1="508.58" x2="762.2" y2="510.3" stroke="#2f4c5c" stroke-width="0.72"/><rect x="761.84" y="510.55" width="0.72" height="0.72" fill="#2f4c5c"/><rect x="777.7" y="507.6" width="4.6" height="3.9" fill="none" stroke="#2f4c5c" stroke-width="0.8"/><rect x="778.5" y="508.6" width="3" height="1.9" fill="#2f4c5c" opacity="0.6"/><rect x="783.6" y="348.5" width="2.2" height="167.1" fill="#0a0a0a"/><rect x="785.8" y="348.5" width="1.5" height="166.5" fill="#f4f4f4"/><rect x="787.3" y="348.5" width="1.9" height="167.1" fill="#0a0a0a"/><rect x="788.3" y="349" width="29.8" height="166" fill="#e3e3e3"/><rect x="788.3" y="349" width="1" height="166" fill="#8a8a8a"/><rect x="789.3" y="349" width="1.6" height="166" fill="#f2f2f2"/><rect x="788.7" y="349" width="29.2" height="1" fill="#f6f6f6"/><path d="M794.9 371.6 L818.1 371.6 L818.1 380.6 L808.9 380.6 L807.5 378.8 L794.9 378.8 Z" fill="#050505"/><rect x="798.1" y="373.9" width="12.5" height="4.6" fill="url(#shG)"/><rect x="794.9" y="365.1" width="21.9" height="7.1" rx="1.8" fill="url(#tabE)"/><rect x="797.5" y="365.7" width="17.6" height="5.2" rx="1" fill="url(#tabG)"/><path d="M803.9 367.4 L807.7 367.4 L805.8 370.2 Z" fill="none" stroke="#444" stroke-width="0.55"/><rect x="794.7" y="400.1" width="22.4" height="6.5" rx="2" fill="#4e4e4e"/><rect x="796.3" y="401.5" width="17.4" height="3.6" rx="1.2" fill="url(#barG)"/><path d="M793.1 406.8 L818.1 406.8 L818.1 461 L793.1 461 Z" fill="#030303"/><path d="M793.1 406.8 L797.5 406.8 L793.1 409.6 Z" fill="#d0d0d0"/><clipPath id="hc8057"><rect x="796.1" y="412.6" width="20.2" height="43.2"/></clipPath><g clip-path="url(#hc8057)"><path d="M805.6 413.2 l3.2 0 l1.6 2.6 l-1.6 2.6 l-3.2 0 z" fill="#7a7a7a" opacity="0.85"/><path d="M805.6 432.6 l3.2 0 l1.6 2.6 l-1.6 2.6 l-3.2 0 z" fill="#7a7a7a" opacity="0.85"/><path d="M812.4 418 l3.2 0 l1.6 2.6 l-1.6 2.6 l-3.2 0 z" fill="#7a7a7a" opacity="0.85"/><path d="M812.4 437.4 l3.2 0 l1.6 2.6 l-1.6 2.6 l-3.2 0 z" fill="#7a7a7a" opacity="0.85"/><path d="M812.4 456.8 l3.2 0 l1.6 2.6 l-1.6 2.6 l-3.2 0 z" fill="#7a7a7a" opacity="0.85"/><path d="M796.6 418 l3.2 0 l1.6 2.6 l-1.6 2.6 l-3.2 0 z" fill="#7a7a7a" opacity="0.85"/><path d="M796.6 437.4 l3.2 0 l1.6 2.6 l-1.6 2.6 l-3.2 0 z" fill="#7a7a7a" opacity="0.85"/><path d="M799.7 408.3 L802.2 403.45 L809.4 403.45 L811.9 408.3 L809.4 413.15 L802.2 413.15Z M809.4 413.15 L811.9 408.3 L819.1 408.3 L821.6 413.15 L819.1 418 L811.9 418Z M790 413.15 L792.5 408.3 L799.7 408.3 L802.2 413.15 L799.7 418 L792.5 418Z M799.7 418 L802.2 413.15 L809.4 413.15 L811.9 418 L809.4 422.85 L802.2 422.85Z M809.4 422.85 L811.9 418 L819.1 418 L821.6 422.85 L819.1 427.7 L811.9 427.7Z M790 422.85 L792.5 418 L799.7 418 L802.2 422.85 L799.7 427.7 L792.5 427.7Z M799.7 427.7 L802.2 422.85 L809.4 422.85 L811.9 427.7 L809.4 432.55 L802.2 432.55Z M809.4 432.55 L811.9 427.7 L819.1 427.7 L821.6 432.55 L819.1 437.4 L811.9 437.4Z M790 432.55 L792.5 427.7 L799.7 427.7 L802.2 432.55 L799.7 437.4 L792.5 437.4Z M799.7 437.4 L802.2 432.55 L809.4 432.55 L811.9 437.4 L809.4 442.25 L802.2 442.25Z M809.4 442.25 L811.9 437.4 L819.1 437.4 L821.6 442.25 L819.1 447.1 L811.9 447.1Z M790 442.25 L792.5 437.4 L799.7 437.4 L802.2 442.25 L799.7 447.1 L792.5 447.1Z M799.7 447.1 L802.2 442.25 L809.4 442.25 L811.9 447.1 L809.4 451.95 L802.2 451.95Z M809.4 451.95 L811.9 447.1 L819.1 447.1 L821.6 451.95 L819.1 456.8 L811.9 456.8Z M790 451.95 L792.5 447.1 L799.7 447.1 L802.2 451.95 L799.7 456.8 L792.5 456.8Z M799.7 456.8 L802.2 451.95 L809.4 451.95 L811.9 456.8 L809.4 461.65 L802.2 461.65Z M809.4 461.65 L811.9 456.8 L819.1 456.8 L821.6 461.65 L819.1 466.5 L811.9 466.5Z M790 461.65 L792.5 456.8 L799.7 456.8 L802.2 461.65 L799.7 466.5 L792.5 466.5Z" fill="none" stroke="#eeeeee" stroke-width="1.3"/></g><rect x="816.1" y="412.6" width="1" height="43.2" fill="#b0b0b0"/><rect x="796.8" y="456.2" width="19.2" height="4.8" fill="#fafafa"/><path d="M793.2 477.8 L818.1 477.8 L818.1 480.4 L795.7 480.4 Z" fill="#050505"/><rect x="788.7" y="480.4" width="29.8" height="4.2" fill="#d6d6d6"/><rect x="791.8" y="485.2" width="26" height="13.2" rx="1.2" fill="#ededed" stroke="#b0b0b0" stroke-width="0.7"/><text x="792.5" y="488.9" font-family="Liberation Sans" font-weight="bold" font-size="4.2" fill="#2f4c5c" stroke="#1e3a4a" stroke-width="0.45" textLength="24.6" lengthAdjust="spacingAndGlyphs">SAS2 900GB</text><text x="817.5" y="492.8" font-family="Liberation Sans" font-weight="bold" font-size="4.2" fill="#2f4c5c" stroke="#1e3a4a" stroke-width="0.45" text-anchor="end" textLength="14" lengthAdjust="spacingAndGlyphs">10K RPM</text><text x="817.7" y="497" font-family="Liberation Sans" font-weight="bold" font-size="4.2" fill="#2f4c5c" stroke="#1e3a4a" stroke-width="0.45" text-anchor="end" textLength="11.2" lengthAdjust="spacingAndGlyphs">6Gbps</text><rect x="788.7" y="499.8" width="29.8" height="1.4" fill="#8e8e8e"/><rect x="794.4" y="502.4" width="3.7" height="2.7" fill="#a4a4a4" stroke="#707070" stroke-width="0.4"/><rect x="811.5" y="500.6" width="8" height="7" fill="url(#yglowG)"/><rect x="812.1" y="502.4" width="4.2" height="3" fill="#d2e040" stroke="#8a9a30" stroke-width="0.4"/><path d="M796.6 507.2 L799.6 511.5 L793.6 511.5 Z" fill="none" stroke="#2f4c5c" stroke-width="0.8" stroke-linejoin="miter"/><line x1="796.6" y1="508.58" x2="796.6" y2="510.3" stroke="#2f4c5c" stroke-width="0.72"/><rect x="796.24" y="510.55" width="0.72" height="0.72" fill="#2f4c5c"/><rect x="812.1" y="507.6" width="4.6" height="3.9" fill="none" stroke="#2f4c5c" stroke-width="0.8"/><rect x="812.9" y="508.6" width="3" height="1.9" fill="#2f4c5c" opacity="0.6"/><rect x="818" y="348.5" width="2.2" height="167.1" fill="#0a0a0a"/><rect x="820.2" y="348.5" width="1.5" height="166.5" fill="#f4f4f4"/><rect x="821.7" y="348.5" width="1.9" height="167.1" fill="#0a0a0a"/><rect x="822.7" y="349" width="29.8" height="166" fill="#e3e3e3"/><rect x="822.7" y="349" width="1" height="166" fill="#8a8a8a"/><rect x="823.7" y="349" width="1.6" height="166" fill="#f2f2f2"/><rect x="823.1" y="349" width="29.2" height="1" fill="#f6f6f6"/><path d="M829.3 371.6 L852.5 371.6 L852.5 380.6 L843.3 380.6 L841.9 378.8 L829.3 378.8 Z" fill="#050505"/><rect x="832.5" y="373.9" width="12.5" height="4.6" fill="url(#shG)"/><rect x="829.3" y="365.1" width="21.9" height="7.1" rx="1.8" fill="url(#tabE)"/><rect x="831.9" y="365.7" width="17.6" height="5.2" rx="1" fill="url(#tabG)"/><path d="M838.3 367.4 L842.1 367.4 L840.2 370.2 Z" fill="none" stroke="#444" stroke-width="0.55"/><rect x="829.1" y="400.1" width="22.4" height="6.5" rx="2" fill="#4e4e4e"/><rect x="830.7" y="401.5" width="17.4" height="3.6" rx="1.2" fill="url(#barG)"/><path d="M827.5 406.8 L852.5 406.8 L852.5 461 L827.5 461 Z" fill="#030303"/><path d="M827.5 406.8 L831.9 406.8 L827.5 409.6 Z" fill="#d0d0d0"/><clipPath id="hc8401"><rect x="830.5" y="412.6" width="20.2" height="43.2"/></clipPath><g clip-path="url(#hc8401)"><path d="M840 413.2 l3.2 0 l1.6 2.6 l-1.6 2.6 l-3.2 0 z" fill="#7a7a7a" opacity="0.85"/><path d="M840 432.6 l3.2 0 l1.6 2.6 l-1.6 2.6 l-3.2 0 z" fill="#7a7a7a" opacity="0.85"/><path d="M846.8 418 l3.2 0 l1.6 2.6 l-1.6 2.6 l-3.2 0 z" fill="#7a7a7a" opacity="0.85"/><path d="M846.8 437.4 l3.2 0 l1.6 2.6 l-1.6 2.6 l-3.2 0 z" fill="#7a7a7a" opacity="0.85"/><path d="M846.8 456.8 l3.2 0 l1.6 2.6 l-1.6 2.6 l-3.2 0 z" fill="#7a7a7a" opacity="0.85"/><path d="M831 418 l3.2 0 l1.6 2.6 l-1.6 2.6 l-3.2 0 z" fill="#7a7a7a" opacity="0.85"/><path d="M831 437.4 l3.2 0 l1.6 2.6 l-1.6 2.6 l-3.2 0 z" fill="#7a7a7a" opacity="0.85"/><path d="M834.1 408.3 L836.6 403.45 L843.8 403.45 L846.3 408.3 L843.8 413.15 L836.6 413.15Z M843.8 413.15 L846.3 408.3 L853.5 408.3 L856 413.15 L853.5 418 L846.3 418Z M824.4 413.15 L826.9 408.3 L834.1 408.3 L836.6 413.15 L834.1 418 L826.9 418Z M834.1 418 L836.6 413.15 L843.8 413.15 L846.3 418 L843.8 422.85 L836.6 422.85Z M843.8 422.85 L846.3 418 L853.5 418 L856 422.85 L853.5 427.7 L846.3 427.7Z M824.4 422.85 L826.9 418 L834.1 418 L836.6 422.85 L834.1 427.7 L826.9 427.7Z M834.1 427.7 L836.6 422.85 L843.8 422.85 L846.3 427.7 L843.8 432.55 L836.6 432.55Z M843.8 432.55 L846.3 427.7 L853.5 427.7 L856 432.55 L853.5 437.4 L846.3 437.4Z M824.4 432.55 L826.9 427.7 L834.1 427.7 L836.6 432.55 L834.1 437.4 L826.9 437.4Z M834.1 437.4 L836.6 432.55 L843.8 432.55 L846.3 437.4 L843.8 442.25 L836.6 442.25Z M843.8 442.25 L846.3 437.4 L853.5 437.4 L856 442.25 L853.5 447.1 L846.3 447.1Z M824.4 442.25 L826.9 437.4 L834.1 437.4 L836.6 442.25 L834.1 447.1 L826.9 447.1Z M834.1 447.1 L836.6 442.25 L843.8 442.25 L846.3 447.1 L843.8 451.95 L836.6 451.95Z M843.8 451.95 L846.3 447.1 L853.5 447.1 L856 451.95 L853.5 456.8 L846.3 456.8Z M824.4 451.95 L826.9 447.1 L834.1 447.1 L836.6 451.95 L834.1 456.8 L826.9 456.8Z M834.1 456.8 L836.6 451.95 L843.8 451.95 L846.3 456.8 L843.8 461.65 L836.6 461.65Z M843.8 461.65 L846.3 456.8 L853.5 456.8 L856 461.65 L853.5 466.5 L846.3 466.5Z M824.4 461.65 L826.9 456.8 L834.1 456.8 L836.6 461.65 L834.1 466.5 L826.9 466.5Z" fill="none" stroke="#eeeeee" stroke-width="1.3"/></g><rect x="850.5" y="412.6" width="1" height="43.2" fill="#b0b0b0"/><rect x="831.2" y="456.2" width="19.2" height="4.8" fill="#fafafa"/><path d="M827.6 477.8 L852.5 477.8 L852.5 480.4 L830.1 480.4 Z" fill="#050505"/><rect x="823.1" y="480.4" width="29.8" height="4.2" fill="#d6d6d6"/><rect x="826.2" y="485.2" width="26" height="13.2" rx="1.2" fill="#ededed" stroke="#b0b0b0" stroke-width="0.7"/><text x="839.3" y="493.4" font-family="Liberation Sans" font-weight="bold" font-size="4.2" fill="#2f4c5c" stroke="#1e3a4a" stroke-width="0.45" text-anchor="middle" textLength="23" lengthAdjust="spacingAndGlyphs">SSD 200GB</text><rect x="823.1" y="499.8" width="29.8" height="1.4" fill="#8e8e8e"/><rect x="828.8" y="502.4" width="3.7" height="2.7" fill="#a4a4a4" stroke="#707070" stroke-width="0.4"/><rect x="845.9" y="500.6" width="8" height="7" fill="url(#yglowG)"/><rect x="846.5" y="502.4" width="4.2" height="3" fill="#d2e040" stroke="#8a9a30" stroke-width="0.4"/><path d="M831 507.2 L834 511.5 L828 511.5 Z" fill="none" stroke="#2f4c5c" stroke-width="0.8" stroke-linejoin="miter"/><line x1="831" y1="508.58" x2="831" y2="510.3" stroke="#2f4c5c" stroke-width="0.72"/><rect x="830.64" y="510.55" width="0.72" height="0.72" fill="#2f4c5c"/><rect x="846.5" y="507.6" width="4.6" height="3.9" fill="none" stroke="#2f4c5c" stroke-width="0.8"/><rect x="847.3" y="508.6" width="3" height="1.9" fill="#2f4c5c" opacity="0.6"/><rect x="852.4" y="348.5" width="2.2" height="167.1" fill="#0a0a0a"/><rect x="854.6" y="348.5" width="1.5" height="166.5" fill="#f4f4f4"/><rect x="856.1" y="348.5" width="1.9" height="167.1" fill="#0a0a0a"/><rect x="857.1" y="349" width="29.8" height="166" fill="#e3e3e3"/><rect x="857.1" y="349" width="1" height="166" fill="#8a8a8a"/><rect x="858.1" y="349" width="1.6" height="166" fill="#f2f2f2"/><rect x="857.5" y="349" width="29.2" height="1" fill="#f6f6f6"/><path d="M863.7 371.6 L886.9 371.6 L886.9 380.6 L877.7 380.6 L876.3 378.8 L863.7 378.8 Z" fill="#050505"/><rect x="866.9" y="373.9" width="12.5" height="4.6" fill="url(#shG)"/><rect x="863.7" y="365.1" width="21.9" height="7.1" rx="1.8" fill="url(#tabE)"/><rect x="866.3" y="365.7" width="17.6" height="5.2" rx="1" fill="url(#tabG)"/><path d="M872.7 367.4 L876.5 367.4 L874.6 370.2 Z" fill="none" stroke="#444" stroke-width="0.55"/><rect x="863.5" y="400.1" width="22.4" height="6.5" rx="2" fill="#4e4e4e"/><rect x="865.1" y="401.5" width="17.4" height="3.6" rx="1.2" fill="url(#barG)"/><path d="M861.9 406.8 L886.9 406.8 L886.9 461 L861.9 461 Z" fill="#030303"/><path d="M861.9 406.8 L866.3 406.8 L861.9 409.6 Z" fill="#d0d0d0"/><clipPath id="hc8745"><rect x="864.9" y="412.6" width="20.2" height="43.2"/></clipPath><g clip-path="url(#hc8745)"><path d="M874.4 413.2 l3.2 0 l1.6 2.6 l-1.6 2.6 l-3.2 0 z" fill="#7a7a7a" opacity="0.85"/><path d="M874.4 432.6 l3.2 0 l1.6 2.6 l-1.6 2.6 l-3.2 0 z" fill="#7a7a7a" opacity="0.85"/><path d="M881.2 418 l3.2 0 l1.6 2.6 l-1.6 2.6 l-3.2 0 z" fill="#7a7a7a" opacity="0.85"/><path d="M881.2 437.4 l3.2 0 l1.6 2.6 l-1.6 2.6 l-3.2 0 z" fill="#7a7a7a" opacity="0.85"/><path d="M881.2 456.8 l3.2 0 l1.6 2.6 l-1.6 2.6 l-3.2 0 z" fill="#7a7a7a" opacity="0.85"/><path d="M865.4 418 l3.2 0 l1.6 2.6 l-1.6 2.6 l-3.2 0 z" fill="#7a7a7a" opacity="0.85"/><path d="M865.4 437.4 l3.2 0 l1.6 2.6 l-1.6 2.6 l-3.2 0 z" fill="#7a7a7a" opacity="0.85"/><path d="M868.5 408.3 L871 403.45 L878.2 403.45 L880.7 408.3 L878.2 413.15 L871 413.15Z M878.2 413.15 L880.7 408.3 L887.9 408.3 L890.4 413.15 L887.9 418 L880.7 418Z M858.8 413.15 L861.3 408.3 L868.5 408.3 L871 413.15 L868.5 418 L861.3 418Z M868.5 418 L871 413.15 L878.2 413.15 L880.7 418 L878.2 422.85 L871 422.85Z M878.2 422.85 L880.7 418 L887.9 418 L890.4 422.85 L887.9 427.7 L880.7 427.7Z M858.8 422.85 L861.3 418 L868.5 418 L871 422.85 L868.5 427.7 L861.3 427.7Z M868.5 427.7 L871 422.85 L878.2 422.85 L880.7 427.7 L878.2 432.55 L871 432.55Z M878.2 432.55 L880.7 427.7 L887.9 427.7 L890.4 432.55 L887.9 437.4 L880.7 437.4Z M858.8 432.55 L861.3 427.7 L868.5 427.7 L871 432.55 L868.5 437.4 L861.3 437.4Z M868.5 437.4 L871 432.55 L878.2 432.55 L880.7 437.4 L878.2 442.25 L871 442.25Z M878.2 442.25 L880.7 437.4 L887.9 437.4 L890.4 442.25 L887.9 447.1 L880.7 447.1Z M858.8 442.25 L861.3 437.4 L868.5 437.4 L871 442.25 L868.5 447.1 L861.3 447.1Z M868.5 447.1 L871 442.25 L878.2 442.25 L880.7 447.1 L878.2 451.95 L871 451.95Z M878.2 451.95 L880.7 447.1 L887.9 447.1 L890.4 451.95 L887.9 456.8 L880.7 456.8Z M858.8 451.95 L861.3 447.1 L868.5 447.1 L871 451.95 L868.5 456.8 L861.3 456.8Z M868.5 456.8 L871 451.95 L878.2 451.95 L880.7 456.8 L878.2 461.65 L871 461.65Z M878.2 461.65 L880.7 456.8 L887.9 456.8 L890.4 461.65 L887.9 466.5 L880.7 466.5Z M858.8 461.65 L861.3 456.8 L868.5 456.8 L871 461.65 L868.5 466.5 L861.3 466.5Z" fill="none" stroke="#eeeeee" stroke-width="1.3"/></g><rect x="884.9" y="412.6" width="1" height="43.2" fill="#b0b0b0"/><rect x="865.6" y="456.2" width="19.2" height="4.8" fill="#fafafa"/><path d="M862 477.8 L886.9 477.8 L886.9 480.4 L864.5 480.4 Z" fill="#050505"/><rect x="857.5" y="480.4" width="29.8" height="4.2" fill="#d6d6d6"/><rect x="860.6" y="485.2" width="26" height="13.2" rx="1.2" fill="#ededed" stroke="#b0b0b0" stroke-width="0.7"/><text x="873.7" y="493.4" font-family="Liberation Sans" font-weight="bold" font-size="4.2" fill="#2f4c5c" stroke="#1e3a4a" stroke-width="0.45" text-anchor="middle" textLength="23" lengthAdjust="spacingAndGlyphs">SSD 200GB</text><rect x="857.5" y="499.8" width="29.8" height="1.4" fill="#8e8e8e"/><rect x="863.2" y="502.4" width="3.7" height="2.7" fill="#a4a4a4" stroke="#707070" stroke-width="0.4"/><rect x="880.3" y="500.6" width="8" height="7" fill="url(#yglowG)"/><rect x="880.9" y="502.4" width="4.2" height="3" fill="#d2e040" stroke="#8a9a30" stroke-width="0.4"/><path d="M865.4 507.2 L868.4 511.5 L862.4 511.5 Z" fill="none" stroke="#2f4c5c" stroke-width="0.8" stroke-linejoin="miter"/><line x1="865.4" y1="508.58" x2="865.4" y2="510.3" stroke="#2f4c5c" stroke-width="0.72"/><rect x="865.04" y="510.55" width="0.72" height="0.72" fill="#2f4c5c"/><rect x="880.9" y="507.6" width="4.6" height="3.9" fill="none" stroke="#2f4c5c" stroke-width="0.8"/><rect x="881.7" y="508.6" width="3" height="1.9" fill="#2f4c5c" opacity="0.6"/><rect x="886.8" y="348.5" width="2.2" height="167.1" fill="#0a0a0a"/><rect x="889" y="348.5" width="1.5" height="166.5" fill="#f4f4f4"/><rect x="890.5" y="348.5" width="1.9" height="167.1" fill="#0a0a0a"/><rect x="891.5" y="349" width="29.8" height="166" fill="#e3e3e3"/><rect x="891.5" y="349" width="1" height="166" fill="#8a8a8a"/><rect x="892.5" y="349" width="1.6" height="166" fill="#f2f2f2"/><rect x="891.9" y="349" width="29.2" height="1" fill="#f6f6f6"/><path d="M898.1 371.6 L921.3 371.6 L921.3 380.6 L912.1 380.6 L910.7 378.8 L898.1 378.8 Z" fill="#050505"/><rect x="901.3" y="373.9" width="12.5" height="4.6" fill="url(#shG)"/><rect x="898.1" y="365.1" width="21.9" height="7.1" rx="1.8" fill="url(#tabE)"/><rect x="900.7" y="365.7" width="17.6" height="5.2" rx="1" fill="url(#tabG)"/><path d="M907.1 367.4 L910.9 367.4 L909 370.2 Z" fill="none" stroke="#444" stroke-width="0.55"/><rect x="897.9" y="400.1" width="22.4" height="6.5" rx="2" fill="#4e4e4e"/><rect x="899.5" y="401.5" width="17.4" height="3.6" rx="1.2" fill="url(#barG)"/><path d="M896.3 406.8 L921.3 406.8 L921.3 461 L896.3 461 Z" fill="#030303"/><path d="M896.3 406.8 L900.7 406.8 L896.3 409.6 Z" fill="#d0d0d0"/><clipPath id="hc9089"><rect x="899.3" y="412.6" width="20.2" height="43.2"/></clipPath><g clip-path="url(#hc9089)"><path d="M908.8 413.2 l3.2 0 l1.6 2.6 l-1.6 2.6 l-3.2 0 z" fill="#7a7a7a" opacity="0.85"/><path d="M908.8 432.6 l3.2 0 l1.6 2.6 l-1.6 2.6 l-3.2 0 z" fill="#7a7a7a" opacity="0.85"/><path d="M915.6 418 l3.2 0 l1.6 2.6 l-1.6 2.6 l-3.2 0 z" fill="#7a7a7a" opacity="0.85"/><path d="M915.6 437.4 l3.2 0 l1.6 2.6 l-1.6 2.6 l-3.2 0 z" fill="#7a7a7a" opacity="0.85"/><path d="M915.6 456.8 l3.2 0 l1.6 2.6 l-1.6 2.6 l-3.2 0 z" fill="#7a7a7a" opacity="0.85"/><path d="M899.8 418 l3.2 0 l1.6 2.6 l-1.6 2.6 l-3.2 0 z" fill="#7a7a7a" opacity="0.85"/><path d="M899.8 437.4 l3.2 0 l1.6 2.6 l-1.6 2.6 l-3.2 0 z" fill="#7a7a7a" opacity="0.85"/><path d="M902.9 408.3 L905.4 403.45 L912.6 403.45 L915.1 408.3 L912.6 413.15 L905.4 413.15Z M912.6 413.15 L915.1 408.3 L922.3 408.3 L924.8 413.15 L922.3 418 L915.1 418Z M893.2 413.15 L895.7 408.3 L902.9 408.3 L905.4 413.15 L902.9 418 L895.7 418Z M902.9 418 L905.4 413.15 L912.6 413.15 L915.1 418 L912.6 422.85 L905.4 422.85Z M912.6 422.85 L915.1 418 L922.3 418 L924.8 422.85 L922.3 427.7 L915.1 427.7Z M893.2 422.85 L895.7 418 L902.9 418 L905.4 422.85 L902.9 427.7 L895.7 427.7Z M902.9 427.7 L905.4 422.85 L912.6 422.85 L915.1 427.7 L912.6 432.55 L905.4 432.55Z M912.6 432.55 L915.1 427.7 L922.3 427.7 L924.8 432.55 L922.3 437.4 L915.1 437.4Z M893.2 432.55 L895.7 427.7 L902.9 427.7 L905.4 432.55 L902.9 437.4 L895.7 437.4Z M902.9 437.4 L905.4 432.55 L912.6 432.55 L915.1 437.4 L912.6 442.25 L905.4 442.25Z M912.6 442.25 L915.1 437.4 L922.3 437.4 L924.8 442.25 L922.3 447.1 L915.1 447.1Z M893.2 442.25 L895.7 437.4 L902.9 437.4 L905.4 442.25 L902.9 447.1 L895.7 447.1Z M902.9 447.1 L905.4 442.25 L912.6 442.25 L915.1 447.1 L912.6 451.95 L905.4 451.95Z M912.6 451.95 L915.1 447.1 L922.3 447.1 L924.8 451.95 L922.3 456.8 L915.1 456.8Z M893.2 451.95 L895.7 447.1 L902.9 447.1 L905.4 451.95 L902.9 456.8 L895.7 456.8Z M902.9 456.8 L905.4 451.95 L912.6 451.95 L915.1 456.8 L912.6 461.65 L905.4 461.65Z M912.6 461.65 L915.1 456.8 L922.3 456.8 L924.8 461.65 L922.3 466.5 L915.1 466.5Z M893.2 461.65 L895.7 456.8 L902.9 456.8 L905.4 461.65 L902.9 466.5 L895.7 466.5Z" fill="none" stroke="#eeeeee" stroke-width="1.3"/></g><rect x="919.3" y="412.6" width="1" height="43.2" fill="#b0b0b0"/><rect x="900" y="456.2" width="19.2" height="4.8" fill="#fafafa"/><path d="M896.4 477.8 L921.3 477.8 L921.3 480.4 L898.9 480.4 Z" fill="#050505"/><rect x="891.9" y="480.4" width="29.8" height="4.2" fill="#d6d6d6"/><rect x="895" y="485.2" width="26" height="13.2" rx="1.2" fill="#ededed" stroke="#b0b0b0" stroke-width="0.7"/><text x="908.1" y="493.4" font-family="Liberation Sans" font-weight="bold" font-size="4.2" fill="#2f4c5c" stroke="#1e3a4a" stroke-width="0.45" text-anchor="middle" textLength="23" lengthAdjust="spacingAndGlyphs">SSD 200GB</text><rect x="891.9" y="499.8" width="29.8" height="1.4" fill="#8e8e8e"/><rect x="897.6" y="502.4" width="3.7" height="2.7" fill="#a4a4a4" stroke="#707070" stroke-width="0.4"/><rect x="914.7" y="500.6" width="8" height="7" fill="url(#yglowG)"/><rect x="915.3" y="502.4" width="4.2" height="3" fill="#d2e040" stroke="#8a9a30" stroke-width="0.4"/><path d="M899.8 507.2 L902.8 511.5 L896.8 511.5 Z" fill="none" stroke="#2f4c5c" stroke-width="0.8" stroke-linejoin="miter"/><line x1="899.8" y1="508.58" x2="899.8" y2="510.3" stroke="#2f4c5c" stroke-width="0.72"/><rect x="899.44" y="510.55" width="0.72" height="0.72" fill="#2f4c5c"/><rect x="915.3" y="507.6" width="4.6" height="3.9" fill="none" stroke="#2f4c5c" stroke-width="0.8"/><rect x="916.1" y="508.6" width="3" height="1.9" fill="#2f4c5c" opacity="0.6"/><rect x="921.2" y="348.5" width="2.2" height="167.1" fill="#0a0a0a"/><rect x="923.4" y="348.5" width="1.5" height="166.5" fill="#f4f4f4"/><rect x="924.9" y="348.5" width="1.9" height="167.1" fill="#0a0a0a"/><rect x="925.9" y="349" width="29.8" height="166" fill="#e3e3e3"/><rect x="925.9" y="349" width="1" height="166" fill="#8a8a8a"/><rect x="926.9" y="349" width="1.6" height="166" fill="#f2f2f2"/><rect x="926.3" y="349" width="29.2" height="1" fill="#f6f6f6"/><path d="M932.5 371.6 L955.7 371.6 L955.7 380.6 L946.5 380.6 L945.1 378.8 L932.5 378.8 Z" fill="#050505"/><rect x="935.7" y="373.9" width="12.5" height="4.6" fill="url(#shG)"/><rect x="932.5" y="365.1" width="21.9" height="7.1" rx="1.8" fill="url(#tabE)"/><rect x="935.1" y="365.7" width="17.6" height="5.2" rx="1" fill="url(#tabG)"/><path d="M941.5 367.4 L945.3 367.4 L943.4 370.2 Z" fill="none" stroke="#444" stroke-width="0.55"/><rect x="932.3" y="400.1" width="22.4" height="6.5" rx="2" fill="#4e4e4e"/><rect x="933.9" y="401.5" width="17.4" height="3.6" rx="1.2" fill="url(#barG)"/><path d="M930.7 406.8 L955.7 406.8 L955.7 461 L930.7 461 Z" fill="#030303"/><path d="M930.7 406.8 L935.1 406.8 L930.7 409.6 Z" fill="#d0d0d0"/><clipPath id="hc9433"><rect x="933.7" y="412.6" width="20.2" height="43.2"/></clipPath><g clip-path="url(#hc9433)"><path d="M943.2 413.2 l3.2 0 l1.6 2.6 l-1.6 2.6 l-3.2 0 z" fill="#7a7a7a" opacity="0.85"/><path d="M943.2 432.6 l3.2 0 l1.6 2.6 l-1.6 2.6 l-3.2 0 z" fill="#7a7a7a" opacity="0.85"/><path d="M950 418 l3.2 0 l1.6 2.6 l-1.6 2.6 l-3.2 0 z" fill="#7a7a7a" opacity="0.85"/><path d="M950 437.4 l3.2 0 l1.6 2.6 l-1.6 2.6 l-3.2 0 z" fill="#7a7a7a" opacity="0.85"/><path d="M950 456.8 l3.2 0 l1.6 2.6 l-1.6 2.6 l-3.2 0 z" fill="#7a7a7a" opacity="0.85"/><path d="M934.2 418 l3.2 0 l1.6 2.6 l-1.6 2.6 l-3.2 0 z" fill="#7a7a7a" opacity="0.85"/><path d="M934.2 437.4 l3.2 0 l1.6 2.6 l-1.6 2.6 l-3.2 0 z" fill="#7a7a7a" opacity="0.85"/><path d="M937.3 408.3 L939.8 403.45 L947 403.45 L949.5 408.3 L947 413.15 L939.8 413.15Z M947 413.15 L949.5 408.3 L956.7 408.3 L959.2 413.15 L956.7 418 L949.5 418Z M927.6 413.15 L930.1 408.3 L937.3 408.3 L939.8 413.15 L937.3 418 L930.1 418Z M937.3 418 L939.8 413.15 L947 413.15 L949.5 418 L947 422.85 L939.8 422.85Z M947 422.85 L949.5 418 L956.7 418 L959.2 422.85 L956.7 427.7 L949.5 427.7Z M927.6 422.85 L930.1 418 L937.3 418 L939.8 422.85 L937.3 427.7 L930.1 427.7Z M937.3 427.7 L939.8 422.85 L947 422.85 L949.5 427.7 L947 432.55 L939.8 432.55Z M947 432.55 L949.5 427.7 L956.7 427.7 L959.2 432.55 L956.7 437.4 L949.5 437.4Z M927.6 432.55 L930.1 427.7 L937.3 427.7 L939.8 432.55 L937.3 437.4 L930.1 437.4Z M937.3 437.4 L939.8 432.55 L947 432.55 L949.5 437.4 L947 442.25 L939.8 442.25Z M947 442.25 L949.5 437.4 L956.7 437.4 L959.2 442.25 L956.7 447.1 L949.5 447.1Z M927.6 442.25 L930.1 437.4 L937.3 437.4 L939.8 442.25 L937.3 447.1 L930.1 447.1Z M937.3 447.1 L939.8 442.25 L947 442.25 L949.5 447.1 L947 451.95 L939.8 451.95Z M947 451.95 L949.5 447.1 L956.7 447.1 L959.2 451.95 L956.7 456.8 L949.5 456.8Z M927.6 451.95 L930.1 447.1 L937.3 447.1 L939.8 451.95 L937.3 456.8 L930.1 456.8Z M937.3 456.8 L939.8 451.95 L947 451.95 L949.5 456.8 L947 461.65 L939.8 461.65Z M947 461.65 L949.5 456.8 L956.7 456.8 L959.2 461.65 L956.7 466.5 L949.5 466.5Z M927.6 461.65 L930.1 456.8 L937.3 456.8 L939.8 461.65 L937.3 466.5 L930.1 466.5Z" fill="none" stroke="#eeeeee" stroke-width="1.3"/></g><rect x="953.7" y="412.6" width="1" height="43.2" fill="#b0b0b0"/><rect x="934.4" y="456.2" width="19.2" height="4.8" fill="#fafafa"/><path d="M930.8 477.8 L955.7 477.8 L955.7 480.4 L933.3 480.4 Z" fill="#050505"/><rect x="926.3" y="480.4" width="29.8" height="4.2" fill="#d6d6d6"/><rect x="929.4" y="485.2" width="26" height="13.2" rx="1.2" fill="#ededed" stroke="#b0b0b0" stroke-width="0.7"/><text x="942.5" y="493.4" font-family="Liberation Sans" font-weight="bold" font-size="4.2" fill="#2f4c5c" stroke="#1e3a4a" stroke-width="0.45" text-anchor="middle" textLength="23" lengthAdjust="spacingAndGlyphs">SSD 200GB</text><rect x="926.3" y="499.8" width="29.8" height="1.4" fill="#8e8e8e"/><rect x="932" y="502.4" width="3.7" height="2.7" fill="#a4a4a4" stroke="#707070" stroke-width="0.4"/><rect x="949.1" y="500.6" width="8" height="7" fill="url(#yglowG)"/><rect x="949.7" y="502.4" width="4.2" height="3" fill="#d2e040" stroke="#8a9a30" stroke-width="0.4"/><path d="M934.2 507.2 L937.2 511.5 L931.2 511.5 Z" fill="none" stroke="#2f4c5c" stroke-width="0.8" stroke-linejoin="miter"/><line x1="934.2" y1="508.58" x2="934.2" y2="510.3" stroke="#2f4c5c" stroke-width="0.72"/><rect x="933.84" y="510.55" width="0.72" height="0.72" fill="#2f4c5c"/><rect x="949.7" y="507.6" width="4.6" height="3.9" fill="none" stroke="#2f4c5c" stroke-width="0.8"/><rect x="950.5" y="508.6" width="3" height="1.9" fill="#2f4c5c" opacity="0.6"/><rect x="955.6" y="348.5" width="2.2" height="167.1" fill="#0a0a0a"/><rect x="957.8" y="348.5" width="1.5" height="166.5" fill="#f4f4f4"/><rect x="959.3" y="348.5" width="1.9" height="167.1" fill="#0a0a0a"/><rect x="530.4" y="349" width="17" height="166" fill="#e4e4e4"/><rect x="530.4" y="349" width="1.6" height="166" fill="#c4c4c4"/><rect x="531.2" y="349.2" width="13.6" height="1.6" fill="#f8f8f8"/><rect x="544.6" y="349" width="1.6" height="166" fill="#8a8a8a"/><rect x="546.2" y="348.5" width="1.6" height="166.5" fill="#111"/><rect x="533.2" y="477.4" width="11" height="9.6" fill="#3d5868"/><rect x="534.4" y="479.6" width="8.6" height="1.4" fill="#8aa0ac"/><rect x="534.4" y="482.6" width="8.6" height="1.4" fill="#8aa0ac"/><rect x="533.2" y="487.6" width="10.6" height="12" fill="#eceeee" stroke="#b8c0c2" stroke-width="0.6"/><rect x="533.2" y="499.8" width="10.6" height="13.8" fill="#eceeee" stroke="#b8c0c2" stroke-width="0.6"/><text x="538.6" y="492" font-family="Liberation Sans" font-weight="bold" font-size="3.6" fill="#2f4c5c" stroke="#2a4858" stroke-width="0.25" text-anchor="middle" textLength="8.6" lengthAdjust="spacingAndGlyphs">12-23</text><path d="M540 494 L542.4 496 L540 498 Z" fill="#2f4c5c"/><text x="538.6" y="503.8" font-family="Liberation Sans" font-weight="bold" font-size="3.6" fill="#2f4c5c" stroke="#2a4858" stroke-width="0.25" text-anchor="middle" textLength="7.6" lengthAdjust="spacingAndGlyphs">0-11</text><path d="M537.4 506.8 L534.8 509 L537.4 511.2 Z" fill="#2f4c5c"/><path d="M71 352 Q71 348.2 75 348.2 L114.5 348.2 L114.5 517.6 L73 517.6 Q71 517.6 71 515 Z" fill="#e6e6e6" stroke="#9a9a9a" stroke-width="0.8"/><rect x="72" y="349" width="42" height="3" fill="#f6f6f6"/><rect x="113.4" y="352" width="1.6" height="165" fill="#1a1a1a"/><rect x="113.4" y="348.6" width="1.6" height="4" fill="#8a8a8a"/><rect x="73" y="516" width="41" height="2" fill="#8a8a8a"/><circle cx="82.7" cy="389.8" r="4.6" fill="#cdeebb" opacity="0.7"/><circle cx="82.7" cy="389.8" r="3.3" fill="url(#ledG)" stroke="#3f8a25" stroke-width="0.5"/><circle cx="82.7" cy="401.6" r="3.3" fill="#c4c4c4" stroke="#555" stroke-width="0.5"/><circle cx="82.7" cy="412.6" r="3.3" fill="#c4c4c4" stroke="#555" stroke-width="0.5"/><rect x="89.4" y="386.8" width="5.6" height="5.8" fill="#c8d0d4" stroke="#2f4c5c" stroke-width="0.9"/><rect x="89.4" y="386.8" width="5.6" height="2" fill="#2f4c5c"/><path d="M92.2 398.2 L95.2 403.4 L89.2 403.4 Z" fill="none" stroke="#2f4c5c" stroke-width="0.8" stroke-linejoin="miter"/><line x1="92.2" y1="399.86" x2="92.2" y2="401.94" stroke="#2f4c5c" stroke-width="0.72"/><rect x="91.84" y="402.26" width="0.72" height="0.72" fill="#2f4c5c"/><path d="M89.8 409 L95.2 409 L92.5 411.6 Z" fill="#2f4c5c"/><circle cx="92.5" cy="413.6" r="2.4" fill="none" stroke="#2f4c5c" stroke-width="1.1"/><circle cx="92.5" cy="413.6" r="0.8" fill="#2f4c5c"/><rect x="76" y="421" width="32.6" height="33.8" rx="1" fill="#dfe4e5" stroke="#c4c8c8" stroke-width="0.5"/><path d="M76.4 421.4 L108.2 421.4 L106.4 426.2 L79 426.2 Z" fill="#50555c"/><path d="M106.4 426.2 L108.2 421.4 L108.2 454.4 L106.4 449.6 Z" fill="#6a7078"/><path d="M76.4 421.4 L79 426.2 L79 449.6 L76.4 454.4 Z" fill="#c8d2d4"/><path d="M76.4 454.4 L79 449.6 L106.4 449.6 L108.2 454.4 Z" fill="#c6d0d2"/><path d="M76.4 421.4 L79 426.2" stroke="#111" stroke-width="0.8"/><path d="M106.4 449.6 L108.2 454.4" stroke="#111" stroke-width="0.8"/><rect x="79" y="426.2" width="27.4" height="23.4" fill="url(#winG)"/><path d="M79 449.6 L79 445.4 L106.4 433.2 L106.4 449.6 Z" fill="url(#winG2)"/><rect x="79" y="426.2" width="27.4" height="23.4" fill="none" stroke="#222" stroke-width="0.5"/><path d="M962.6 348.2 L1000.6 348.2 Q1004.4 348.2 1004.4 352 L1004.4 514 Q1004.4 517.8 1000.6 517.8 L962.6 517.8 Z" fill="#e8e8e8" stroke="#555" stroke-width="0.9"/><path d="M999.4 349 Q1003.6 349 1003.6 353 L1003.6 513 Q1003.6 517 999.4 517 Z" fill="#bdbdbd"/><rect x="957.6" y="348.5" width="1.8" height="169" fill="#111"/><rect x="959.4" y="348.5" width="1.6" height="169" fill="#f4f4f4"/><rect x="961" y="348.5" width="1.6" height="169" fill="#111"/><rect x="966.8" y="353.8" width="31.6" height="31.4" rx="1.5" fill="#e6e6e6" stroke="#666" stroke-width="0.7"/><path d="M966.8 373.8 L966.8 355.3 Q966.8 353.8 968.3 353.8 L996.9 353.8 Q998.4 353.8 998.4 355.3 L998.4 373.8 Z" fill="#e3202a"/><text x="982.6" y="366.4" font-family="Liberation Sans" font-size="5.6" fill="#fff" stroke="#fff" stroke-width="0.15" text-anchor="middle" textLength="25" lengthAdjust="spacingAndGlyphs">ORACLE</text><text x="982.6" y="378.6" font-family="Liberation Sans" font-weight="bold" font-size="4" fill="#2f4c5c" stroke="#2a4858" stroke-width="0.3" text-anchor="middle" textLength="18.6" lengthAdjust="spacingAndGlyphs">STORAGE</text><text x="982.6" y="383.2" font-family="Liberation Sans" font-weight="bold" font-size="4" fill="#2f4c5c" stroke="#2a4858" stroke-width="0.3" text-anchor="middle" textLength="14.6" lengthAdjust="spacingAndGlyphs">DE2-24P</text><rect x="968.6" y="391.4" width="28.8" height="41.9" fill="#e8e8e8" stroke="#9a9a9a" stroke-width="0.6"/><text x="983" y="395" font-family="Liberation Sans" font-weight="bold" font-size="3.8" fill="#2f4c5c" stroke="#2a4858" stroke-width="0.25" text-anchor="middle" textLength="17" lengthAdjust="spacingAndGlyphs">ORACLE</text><text x="983" y="399.4" font-family="Liberation Sans" font-weight="bold" font-size="3.8" fill="#2f4c5c" stroke="#2a4858" stroke-width="0.25" text-anchor="middle" textLength="21" lengthAdjust="spacingAndGlyphs">DATABASE</text><text x="983" y="403.8" font-family="Liberation Sans" font-weight="bold" font-size="3.8" fill="#2f4c5c" stroke="#2a4858" stroke-width="0.25" text-anchor="middle" textLength="23" lengthAdjust="spacingAndGlyphs">APPLIANCE</text><text x="983" y="408.6" font-family="Liberation Sans" font-weight="bold" font-size="3.8" fill="#2f4c5c" stroke="#2a4858" stroke-width="0.25" text-anchor="middle" textLength="9" lengthAdjust="spacingAndGlyphs">X3-2</text><text x="983" y="425" font-family="Liberation Sans" font-weight="bold" font-size="5.2" fill="#2f4c5c" stroke="#2a4858" stroke-width="0.3" text-anchor="middle" textLength="25" lengthAdjust="spacingAndGlyphs">STORAGE</text><text x="983" y="430.8" font-family="Liberation Sans" font-weight="bold" font-size="5.2" fill="#2f4c5c" stroke="#2a4858" stroke-width="0.3" text-anchor="middle" textLength="17" lengthAdjust="spacingAndGlyphs">SHELF</text><rect x="971" y="440" width="23.6" height="71.8" fill="#6a6a6a"/><rect x="973.4" y="442.6" width="18.8" height="66.8" fill="#f4f4f4"/><path d="M975 444.4h0.95v0.95h-0.95zM975 445.35h0.95v0.95h-0.95zM975 446.3h0.95v0.95h-0.95zM975 447.25h0.95v0.95h-0.95zM975 448.2h0.95v0.95h-0.95zM975 449.15h0.95v0.95h-0.95zM975 450.1h0.95v0.95h-0.95zM975 451.05h0.95v0.95h-0.95zM975 452h0.95v0.95h-0.95zM975 452.95h0.95v0.95h-0.95zM975.95 444.4h0.95v0.95h-0.95zM975.95 445.35h0.95v0.95h-0.95zM975.95 446.3h0.95v0.95h-0.95zM975.95 448.2h0.95v0.95h-0.95zM975.95 449.15h0.95v0.95h-0.95zM975.95 452.95h0.95v0.95h-0.95zM976.9 444.4h0.95v0.95h-0.95zM976.9 445.35h0.95v0.95h-0.95zM976.9 447.25h0.95v0.95h-0.95zM976.9 448.2h0.95v0.95h-0.95zM976.9 449.15h0.95v0.95h-0.95zM976.9 450.1h0.95v0.95h-0.95zM976.9 452h0.95v0.95h-0.95zM977.85 444.4h0.95v0.95h-0.95zM977.85 445.35h0.95v0.95h-0.95zM977.85 446.3h0.95v0.95h-0.95zM977.85 447.25h0.95v0.95h-0.95zM977.85 448.2h0.95v0.95h-0.95zM977.85 449.15h0.95v0.95h-0.95zM977.85 451.05h0.95v0.95h-0.95zM977.85 452h0.95v0.95h-0.95zM978.8 444.4h0.95v0.95h-0.95zM978.8 445.35h0.95v0.95h-0.95zM978.8 448.2h0.95v0.95h-0.95zM978.8 450.1h0.95v0.95h-0.95zM978.8 452.95h0.95v0.95h-0.95zM979.75 444.4h0.95v0.95h-0.95zM979.75 445.35h0.95v0.95h-0.95zM979.75 446.3h0.95v0.95h-0.95zM979.75 448.2h0.95v0.95h-0.95zM979.75 449.15h0.95v0.95h-0.95zM979.75 450.1h0.95v0.95h-0.95zM980.7 444.4h0.95v0.95h-0.95zM980.7 445.35h0.95v0.95h-0.95zM980.7 449.15h0.95v0.95h-0.95zM980.7 452h0.95v0.95h-0.95zM981.65 444.4h0.95v0.95h-0.95zM981.65 449.15h0.95v0.95h-0.95zM981.65 450.1h0.95v0.95h-0.95zM981.65 452h0.95v0.95h-0.95zM981.65 452.95h0.95v0.95h-0.95zM982.6 444.4h0.95v0.95h-0.95zM982.6 445.35h0.95v0.95h-0.95zM982.6 446.3h0.95v0.95h-0.95zM982.6 448.2h0.95v0.95h-0.95zM982.6 449.15h0.95v0.95h-0.95zM982.6 450.1h0.95v0.95h-0.95zM982.6 452h0.95v0.95h-0.95zM982.6 452.95h0.95v0.95h-0.95zM983.55 444.4h0.95v0.95h-0.95zM983.55 448.2h0.95v0.95h-0.95zM983.55 449.15h0.95v0.95h-0.95zM983.55 450.1h0.95v0.95h-0.95zM983.55 452.95h0.95v0.95h-0.95z" fill="#1a1a1a"/><rect x="975" y="455" width="3.6" height="1.1" fill="#333"/><path d="M975 457.8h1v1h-1zM975 458.8h1v1h-1zM975 459.8h1v1h-1zM975 460.8h1v1h-1zM975 461.8h1v1h-1zM975 462.8h1v1h-1zM975 463.8h1v1h-1zM975 464.8h1v1h-1zM975 465.8h1v1h-1zM975 466.8h1v1h-1zM975 467.8h1v1h-1zM976 457.8h1v1h-1zM976 458.8h1v1h-1zM976 461.8h1v1h-1zM976 466.8h1v1h-1zM976 467.8h1v1h-1zM977 457.8h1v1h-1zM977 459.8h1v1h-1zM977 460.8h1v1h-1zM977 461.8h1v1h-1zM977 462.8h1v1h-1zM977 463.8h1v1h-1zM977 464.8h1v1h-1zM977 465.8h1v1h-1zM977 466.8h1v1h-1zM977 467.8h1v1h-1zM978 457.8h1v1h-1zM978 458.8h1v1h-1zM978 461.8h1v1h-1zM978 462.8h1v1h-1zM978 463.8h1v1h-1zM978 464.8h1v1h-1zM978 465.8h1v1h-1zM979 457.8h1v1h-1zM979 458.8h1v1h-1zM979 459.8h1v1h-1zM979 460.8h1v1h-1zM979 461.8h1v1h-1zM979 462.8h1v1h-1zM979 464.8h1v1h-1zM979 465.8h1v1h-1zM979 467.8h1v1h-1zM980 457.8h1v1h-1zM980 458.8h1v1h-1zM980 459.8h1v1h-1zM980 460.8h1v1h-1zM980 464.8h1v1h-1zM980 465.8h1v1h-1zM980 466.8h1v1h-1zM981 457.8h1v1h-1zM981 459.8h1v1h-1zM981 460.8h1v1h-1zM981 467.8h1v1h-1zM982 457.8h1v1h-1zM982 458.8h1v1h-1zM982 459.8h1v1h-1zM982 460.8h1v1h-1zM982 461.8h1v1h-1zM982 462.8h1v1h-1zM982 465.8h1v1h-1zM983 457.8h1v1h-1zM983 458.8h1v1h-1zM983 459.8h1v1h-1zM983 460.8h1v1h-1zM983 461.8h1v1h-1zM983 462.8h1v1h-1zM983 466.8h1v1h-1zM984 457.8h1v1h-1zM984 458.8h1v1h-1zM984 463.8h1v1h-1zM984 464.8h1v1h-1zM984 466.8h1v1h-1zM985 457.8h1v1h-1zM985 458.8h1v1h-1zM985 459.8h1v1h-1zM985 462.8h1v1h-1zM985 463.8h1v1h-1zM985 464.8h1v1h-1zM985 467.8h1v1h-1z" fill="#1a1a1a"/><path d="M988.2 460.5h2.8v1.13h-2.8zM988.2 462.13h2.8v1.32h-2.8zM988.2 463.95h2.8v1.68h-2.8zM988.2 466.13h2.8v0.82h-2.8zM988.2 467.45h2.8v1.16h-2.8zM988.2 469.11h2.8v2.19h-2.8zM988.2 471.8h2.8v1.97h-2.8zM988.2 474.27h2.8v1.69h-2.8zM988.2 478.66h2.8v1.53h-2.8zM988.2 480.69h2.8v1.74h-2.8zM988.2 482.93h2.8v1.86h-2.8zM988.2 485.29h2.8v1.22h-2.8zM988.2 487.01h2.8v2.01h-2.8zM988.2 494.13h2.8v1.35h-2.8zM988.2 497.91h2.8v2.03h-2.8zM988.2 500.44h2.8v0.99h-2.8zM988.2 501.93h2.8v2.15h-2.8zM988.2 504.58h2.8v1.68h-2.8z" fill="#2a2a2a"/><path d="M975.2 480h2.4v1.67h-2.4zM975.2 486.92h2.4v0.84h-2.4zM975.2 488.26h2.4v2.12h-2.4zM975.2 490.88h2.4v2.06h-2.4zM975.2 493.44h2.4v1.46h-2.4zM975.2 495.4h2.4v1.56h-2.4zM975.2 497.46h2.4v0.82h-2.4zM975.2 500.47h2.4v1.87h-2.4zM975.2 502.84h2.4v1.92h-2.4z" fill="#2a2a2a"/><path d="M984.6 488h2.2v1.45h-2.2zM984.6 491.44h2.2v0.81h-2.2zM984.6 492.75h2.2v2.06h-2.2zM984.6 495.31h2.2v1.58h-2.2zM984.6 497.38h2.2v0.86h-2.2zM984.6 498.74h2.2v1.78h-2.2zM984.6 501.03h2.2v1.82h-2.2zM984.6 503.34h2.2v1.13h-2.2z" fill="#2a2a2a"/><path d="M978.8 475.6h4v1.4h-4zM978.8 478h4v1.4h-4zM978.8 480.1h4v0.6h-4zM978.8 481.2h4v1.4h-4zM978.8 483.6h4v0.6h-4zM978.8 484.7h4v1.4h-4z" fill="#222"/><path d="M978.8 489h4v1.4h-4zM978.8 491.1h4v1h-4zM978.8 492.6h4v1.4h-4zM978.8 494.5h4v1h-4zM978.8 496.2h4v1h-4zM978.8 498.2h4v1.4h-4zM978.8 500.6h4v0.6h-4z" fill="#222"/><circle cx="91.3" cy="421.2" r="60" fill="none" stroke="#fff" stroke-width="8.6"/><circle cx="91.3" cy="421.2" r="60" fill="none" stroke="#111" stroke-width="3.5"/><circle cx="564.3" cy="504.6" r="38.7" fill="none" stroke="#fff" stroke-width="8.6"/><circle cx="564.3" cy="504.6" r="38.7" fill="none" stroke="#111" stroke-width="3.5"/><line x1="179.9" y1="282.1" x2="122" y2="370" stroke="#fff" stroke-width="7.6" stroke-linecap="round"/><line x1="179.9" y1="282.1" x2="122" y2="370" stroke="#111" stroke-width="3" stroke-linecap="round"/><line x1="668.8" y1="286.8" x2="584.6" y2="467" stroke="#fff" stroke-width="7.6" stroke-linecap="round"/><line x1="668.8" y1="286.8" x2="584.6" y2="467" stroke="#111" stroke-width="3" stroke-linecap="round"/><g clip-path="url(#clipL)"><rect x="120" y="60" width="250" height="245" fill="#ffffff"/><rect x="175.2" y="60" width="1.3" height="245" fill="#8e8e8e"/><rect x="176.5" y="60" width="6" height="245" fill="#f7f7f7"/><rect x="182.3" y="60" width="1.2" height="245" fill="#c8c8c8"/><rect x="183.5" y="60" width="126" height="245" fill="#e6e6e6"/><rect x="304" y="60" width="1.2" height="245" fill="#f4f4f4"/><rect x="309.2" y="60" width="1.8" height="245" fill="#555"/><rect x="307.6" y="112" width="2.6" height="14" fill="#222"/><circle cx="212.8" cy="112.4" r="19" fill="url(#glowG)"/><circle cx="212.8" cy="112.4" r="11" fill="url(#ledG)" stroke="#3d7a22" stroke-width="0.9"/><circle cx="212.8" cy="148.4" r="11" fill="#c2c2c2" stroke="#3a3a3a" stroke-width="0.9"/><circle cx="212.8" cy="185.2" r="11" fill="#c2c2c2" stroke="#3a3a3a" stroke-width="0.9"/><rect x="234.12" y="104.12" width="15.75" height="15.95" fill="none" stroke="#2f4c5c" stroke-width="1.45"/><text x="242" y="116.45" font-family="Liberation Sans" font-weight="bold" font-size="11.5" fill="#2f4c5c" stroke="#2f4c5c" stroke-width="0.7" text-anchor="middle" textLength="11.35" lengthAdjust="spacingAndGlyphs">OK</text><path d="M241 140.2 L250.4 156.4 L231.6 156.4 Z" fill="none" stroke="#2f4c5c" stroke-width="1.6" stroke-linejoin="miter"/><line x1="241" y1="145.38" x2="241" y2="151.86" stroke="#2f4c5c" stroke-width="1.44"/><rect x="240.28" y="152.84" width="1.44" height="1.44" fill="#2f4c5c"/><circle cx="240.7" cy="186.2" r="6.4" fill="none" stroke="#2f4c5c" stroke-width="1.85"/><circle cx="240.7" cy="186.2" r="3.5" fill="none" stroke="#2f4c5c" stroke-width="1.4"/><circle cx="240.7" cy="186.2" r="1.1" fill="#2f4c5c"/><path d="M235.9 175.1 L245.7 175.1 L240.8 183.2 Z" fill="#2f4c5c" stroke="#e6e6e6" stroke-width="1.1" paint-order="stroke"/><path d="M235.9 175.1 L245.7 175.1 L240.8 183.2 Z" fill="#2f4c5c"/><rect x="192.8" y="209.4" width="102.4" height="120" rx="4" fill="#ececec" stroke="#d2d2d2" stroke-width="0.8"/><path d="M195 211.6 L293 211.6 L287 226 L200.4 226 Z" fill="url(#bevT)"/><path d="M287 226 L293 211.6 L293 320 L287 320 Z" fill="#7c828a"/><path d="M195 211.6 L200.4 226 L200.4 320 L195 320 Z" fill="#cbd4d6"/><path d="M195 211.6 L201 211.6 L210 226 L200.4 226 Z" fill="url(#mitG)"/><rect x="200.4" y="226" width="86.6" height="94" rx="2.4" fill="url(#winG)" stroke="#4a4a4a" stroke-width="0.6"/><path d="M200.4 286 L287 248.6 L287 320 L200.4 320 Z" fill="url(#winG2)"/></g><circle cx="244.5" cy="181.5" r="117.1" fill="none" stroke="#111" stroke-width="3"/><g clip-path="url(#clipR)"><rect x="600" y="60" width="250" height="245" fill="#ffffff"/><path d="M666.6 60 L767.4 60 L767.4 247.6 L673 247.6 Q666.6 247.6 666.6 241 Z" fill="#e2e2e2" stroke="#6a6a6a" stroke-width="1"/><rect x="667.2" y="60" width="100" height="52.8" fill="#e6e6e6"/><rect x="666.4" y="60" width="1.2" height="52.8" fill="#777"/><rect x="670" y="60" width="1.4" height="52.8" fill="#f4f4f4"/><rect x="667.2" y="112.2" width="100" height="1" fill="#9a9a9a"/><path d="M677.8 113.4 L767.4 113.4 L767.4 126.8 L692.6 126.8 Z" fill="#030303"/><path d="M667.2 113.4 L677.8 113.4 L692.6 126.8 L667.2 126.8 Z" fill="url(#shG2)"/><rect x="667.2" y="127" width="100" height="67" fill="url(#lblG)"/><rect x="666.4" y="113" width="1.2" height="128" fill="#777"/><rect x="670.6" y="127" width="1.2" height="67" fill="#fafafa"/><rect x="767" y="60" width="6.6" height="188" fill="#060606"/><rect x="773.6" y="60" width="6.6" height="188" fill="#f2f2f2"/><rect x="775" y="60" width="1.2" height="188" fill="#c4c4c4"/><rect x="773.6" y="115.8" width="6.6" height="4.6" fill="#111"/><rect x="780.2" y="60" width="5.6" height="188" fill="#060606"/><rect x="674.6" y="139.4" width="97" height="47.8" rx="3.4" fill="#ebebeb" stroke="#9c9c9c" stroke-width="1"/><g font-family="Liberation Sans" font-weight="bold" fill="#365466" stroke="#365466" stroke-width="0.1"><text x="680" y="154.9" font-size="14" textLength="36" lengthAdjust="spacingAndGlyphs">SAS2</text><text x="724.6" y="154.9" font-size="14" textLength="24.6" lengthAdjust="spacingAndGlyphs">900</text><text x="750.4" y="154.9" font-size="11" textLength="17.4" lengthAdjust="spacingAndGlyphs">GB</text><text x="768.2" y="169.4" font-size="12.6" text-anchor="end" textLength="50" lengthAdjust="spacingAndGlyphs">10K RPM</text><text x="768.4" y="181.8" font-size="12.6" text-anchor="end" textLength="39" lengthAdjust="spacingAndGlyphs">6Gbps</text></g><path d="M670.4 193.8 L768 193.8 L768 197.6 L670.4 197.6 Z" fill="#050505"/><rect x="667.2" y="197.6" width="100" height="1.2" fill="#c4c4c4"/><circle cx="756" cy="207.8" r="13" fill="url(#yglowG)"/><rect x="684.4" y="202.6" width="14" height="10.4" rx="2.2" fill="#9a9a9a" stroke="#3a3a3a" stroke-width="1.1"/><rect x="749.2" y="202.6" width="14" height="10.4" rx="2.2" fill="#c6de36" stroke="#5a6a18" stroke-width="1.1"/><circle cx="756.2" cy="207.8" r="2.4" fill="#eaf8a0" opacity="0.7"/><path d="M692 218.1 L701.1 233.3 L682.9 233.3 Z" fill="none" stroke="#2f4c5c" stroke-width="1.7" stroke-linejoin="miter"/><line x1="692" y1="222.96" x2="692" y2="229.04" stroke="#2f4c5c" stroke-width="1.53"/><rect x="691.24" y="229.96" width="1.53" height="1.53" fill="#2f4c5c"/><path d="M666.2 227.6 L668.6 229 L668.6 233.6 L666.2 235 Z" fill="#fff" stroke="#555" stroke-width="0.8"/><path d="M671.6 127 L671.6 237 Q671.6 242 676.6 242 L767 242" fill="none" stroke="#f6f6f6" stroke-width="1.2"/><rect x="749" y="218" width="15" height="14.8" fill="none" stroke="#2f4c5c" stroke-width="1.6"/><text x="756.5" y="229.5" font-family="Liberation Sans" font-weight="bold" font-size="10.5" fill="#2f4c5c" stroke="#2f4c5c" stroke-width="0.7" text-anchor="middle" textLength="10.96" lengthAdjust="spacingAndGlyphs">OK</text><rect x="668" y="241.4" width="99" height="1" fill="#c8c8c8"/></g><circle cx="724.3" cy="182" r="117.1" fill="none" stroke="#111" stroke-width="3"/><line x1="83.4" y1="72.8" x2="195" y2="109.7" stroke="#fff" stroke-width="7.2" stroke-linecap="round"/><line x1="83.4" y1="72.8" x2="195" y2="109.7" stroke="#111" stroke-width="3" stroke-linecap="round"/><line x1="83.4" y1="136.1" x2="195.9" y2="145.2" stroke="#fff" stroke-width="7.2" stroke-linecap="round"/><line x1="83.4" y1="136.1" x2="195.9" y2="145.2" stroke="#111" stroke-width="3" stroke-linecap="round"/><line x1="83.4" y1="199.7" x2="196.4" y2="187.8" stroke="#fff" stroke-width="7.2" stroke-linecap="round"/><line x1="83.4" y1="199.7" x2="196.4" y2="187.8" stroke="#111" stroke-width="3" stroke-linecap="round"/><line x1="872.8" y1="80.5" x2="698.8" y2="201.6" stroke="#fff" stroke-width="7.2" stroke-linecap="round"/><line x1="872.8" y1="80.5" x2="698.8" y2="201.6" stroke="#111" stroke-width="3" stroke-linecap="round"/><line x1="869.2" y1="144.5" x2="764.2" y2="201.8" stroke="#fff" stroke-width="7.2" stroke-linecap="round"/><line x1="869.2" y1="144.5" x2="764.2" y2="201.8" stroke="#111" stroke-width="3" stroke-linecap="round"/><circle cx="56" cy="66" r="27" fill="#fff" stroke="#231f20" stroke-width="2.9"/><path d="M56.2 54.2 L62.3 54.2 L62.3 78.6 L56.2 78.6 L56.2 62.6 L50 62.6 L50 58.4 Q55.6 58.2 56.2 54.2 Z" fill="#231f20"/><circle cx="56" cy="135" r="27" fill="#fff" stroke="#231f20" stroke-width="2.9"/><text x="57" y="148.2" font-family="Liberation Sans" font-weight="bold" font-size="36" fill="#231f20" text-anchor="middle">2</text><circle cx="56" cy="204.4" r="27" fill="#fff" stroke="#231f20" stroke-width="2.9"/><text x="57" y="217.6" font-family="Liberation Sans" font-weight="bold" font-size="36" fill="#231f20" text-anchor="middle">3</text><circle cx="896.6" cy="63.4" r="27" fill="#fff" stroke="#231f20" stroke-width="2.9"/><text x="897.6" y="76.6" font-family="Liberation Sans" font-weight="bold" font-size="36" fill="#231f20" text-anchor="middle">4</text><circle cx="896.6" cy="134" r="27" fill="#fff" stroke="#231f20" stroke-width="2.9"/><text x="897.6" y="147.2" font-family="Liberation Sans" font-weight="bold" font-size="36" fill="#231f20" text-anchor="middle">5</text></svg>
</body></html>
